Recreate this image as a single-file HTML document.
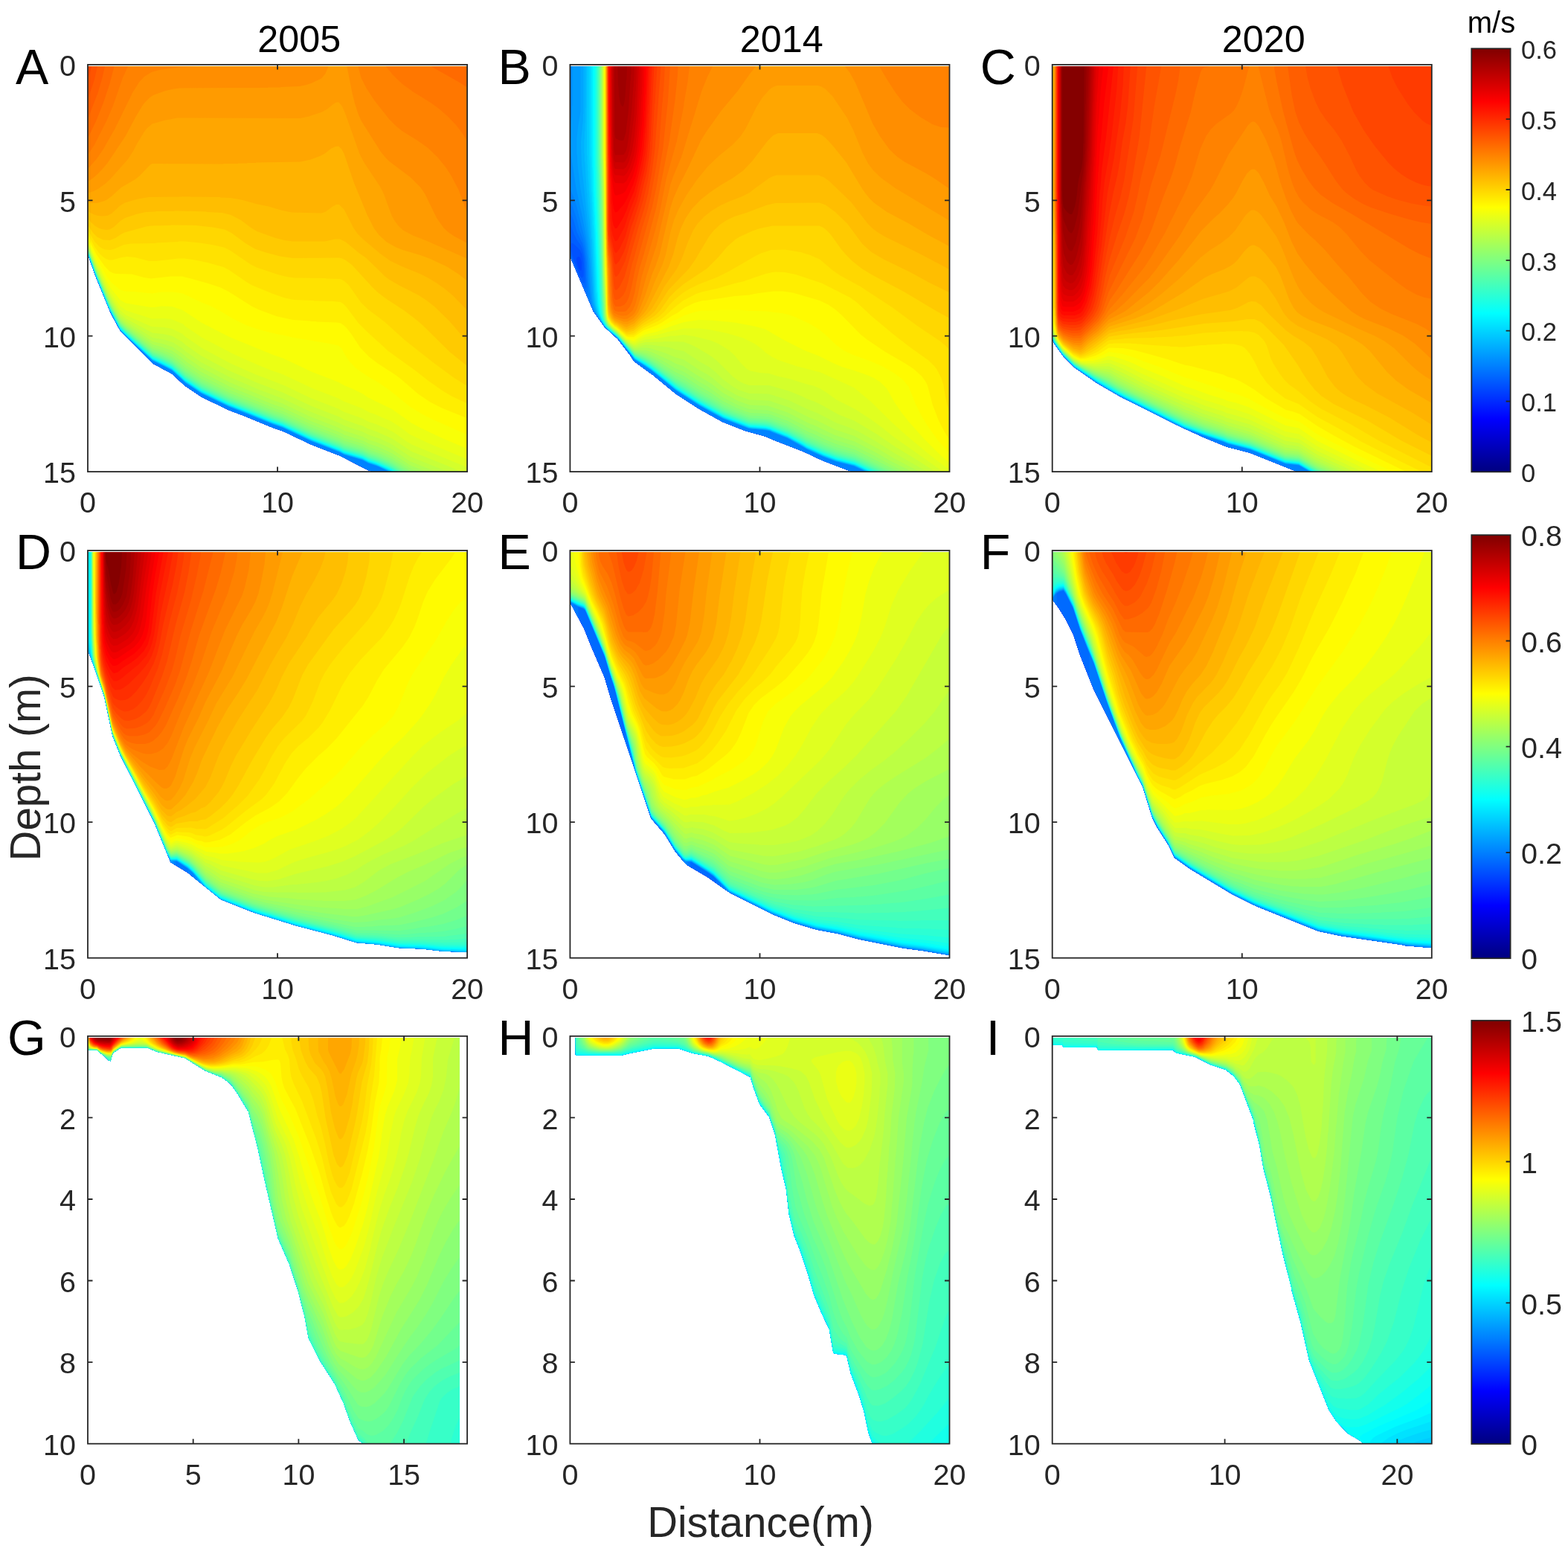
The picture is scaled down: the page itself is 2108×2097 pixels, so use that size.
<!DOCTYPE html><html><head><meta charset="utf-8"><title>Velocity sections</title>
<style>html,body{margin:0;padding:0;background:#fff}svg{display:block}text{font-family:"Liberation Sans",Arial,sans-serif}</style></head><body>
<svg xmlns="http://www.w3.org/2000/svg" width="2108" height="2097" viewBox="0 0 2108 2097">
<rect width="100%" height="100%" fill="#fff"/>
<defs><linearGradient id="jet" x1="0" y1="1" x2="0" y2="0"><stop offset="0.0000" stop-color="#000080"/><stop offset="0.0156" stop-color="#00008f"/><stop offset="0.0312" stop-color="#00009f"/><stop offset="0.0469" stop-color="#0000af"/><stop offset="0.0625" stop-color="#0000bf"/><stop offset="0.0781" stop-color="#0000cf"/><stop offset="0.0938" stop-color="#0000df"/><stop offset="0.1094" stop-color="#0000ef"/><stop offset="0.1250" stop-color="#0000ff"/><stop offset="0.1406" stop-color="#0010ff"/><stop offset="0.1562" stop-color="#0020ff"/><stop offset="0.1719" stop-color="#0030ff"/><stop offset="0.1875" stop-color="#0040ff"/><stop offset="0.2031" stop-color="#0050ff"/><stop offset="0.2188" stop-color="#0060ff"/><stop offset="0.2344" stop-color="#0070ff"/><stop offset="0.2500" stop-color="#0080ff"/><stop offset="0.2656" stop-color="#008fff"/><stop offset="0.2812" stop-color="#009fff"/><stop offset="0.2969" stop-color="#00afff"/><stop offset="0.3125" stop-color="#00bfff"/><stop offset="0.3281" stop-color="#00cfff"/><stop offset="0.3438" stop-color="#00dfff"/><stop offset="0.3594" stop-color="#00efff"/><stop offset="0.3750" stop-color="#00ffff"/><stop offset="0.3906" stop-color="#10ffef"/><stop offset="0.4062" stop-color="#20ffdf"/><stop offset="0.4219" stop-color="#30ffcf"/><stop offset="0.4375" stop-color="#40ffbf"/><stop offset="0.4531" stop-color="#50ffaf"/><stop offset="0.4688" stop-color="#60ff9f"/><stop offset="0.4844" stop-color="#70ff8f"/><stop offset="0.5000" stop-color="#80ff80"/><stop offset="0.5156" stop-color="#8fff70"/><stop offset="0.5312" stop-color="#9fff60"/><stop offset="0.5469" stop-color="#afff50"/><stop offset="0.5625" stop-color="#bfff40"/><stop offset="0.5781" stop-color="#cfff30"/><stop offset="0.5938" stop-color="#dfff20"/><stop offset="0.6094" stop-color="#efff10"/><stop offset="0.6250" stop-color="#ffff00"/><stop offset="0.6406" stop-color="#ffef00"/><stop offset="0.6562" stop-color="#ffdf00"/><stop offset="0.6719" stop-color="#ffcf00"/><stop offset="0.6875" stop-color="#ffbf00"/><stop offset="0.7031" stop-color="#ffaf00"/><stop offset="0.7188" stop-color="#ff9f00"/><stop offset="0.7344" stop-color="#ff8f00"/><stop offset="0.7500" stop-color="#ff8000"/><stop offset="0.7656" stop-color="#ff7000"/><stop offset="0.7812" stop-color="#ff6000"/><stop offset="0.7969" stop-color="#ff5000"/><stop offset="0.8125" stop-color="#ff4000"/><stop offset="0.8281" stop-color="#ff3000"/><stop offset="0.8438" stop-color="#ff2000"/><stop offset="0.8594" stop-color="#ff1000"/><stop offset="0.8750" stop-color="#ff0000"/><stop offset="0.8906" stop-color="#ef0000"/><stop offset="0.9062" stop-color="#df0000"/><stop offset="0.9219" stop-color="#cf0000"/><stop offset="0.9375" stop-color="#bf0000"/><stop offset="0.9531" stop-color="#af0000"/><stop offset="0.9688" stop-color="#9f0000"/><stop offset="0.9844" stop-color="#8f0000"/><stop offset="1.0000" stop-color="#800000"/></linearGradient></defs>
<g transform="translate(118.00 86.90) scale(0.5)" fill-rule="evenodd"><path fill="#000086" d="M0 5l0 504 21 59 41 100 26 48 87 87 52 28 33 31 46 31 75 36 40 15 75 31 29 10 76 36 77 30 76 39 9 3 256 0 0-1088z"/><path fill="#000092" d="M0 5l0 504 21 59 41 100 26 48 87 87 52 28 33 31 46 31 75 36 40 15 75 31 29 10 76 36 77 30 76 39 9 3 256 0 0-1088z"/><path fill="#00009e" d="M0 5l0 504 21 59 41 100 26 48 87 87 52 28 33 31 46 31 75 36 40 15 75 31 29 10 76 36 77 30 76 39 9 3 256 0 0-1088z"/><path fill="#0000aa" d="M0 5l0 504 21 59 41 100 26 48 87 87 52 28 33 31 46 31 75 36 40 15 75 31 29 10 76 36 77 30 76 39 9 3 256 0 0-1088z"/><path fill="#0000b6" d="M0 5l0 504 21 59 41 100 26 48 87 87 52 28 33 31 46 31 75 36 40 15 75 31 29 10 76 36 77 30 76 39 9 3 256 0 0-1088z"/><path fill="#0000c2" d="M0 5l0 504 21 59 41 100 26 48 87 87 52 28 33 31 46 31 75 36 40 15 75 31 29 10 76 36 77 30 76 39 9 3 256 0 0-1088z"/><path fill="#0000ce" d="M0 5l0 504 21 59 41 100 26 48 87 87 52 28 33 31 46 31 75 36 40 15 75 31 29 10 76 36 77 30 76 39 9 3 256 0 0-1088z"/><path fill="#0000da" d="M0 5l0 504 21 59 41 100 26 48 87 87 52 28 33 31 46 31 75 36 40 15 75 31 29 10 76 36 77 30 76 39 9 3 256 0 0-1088z"/><path fill="#0000e6" d="M0 5l0 504 21 59 41 100 26 48 87 87 52 28 33 31 46 31 75 36 40 15 75 31 29 10 76 36 77 30 76 39 9 3 256 0 0-1088z"/><path fill="#0000f2" d="M0 5l0 504 21 59 41 100 26 48 87 87 52 28 33 31 46 31 75 36 40 15 75 31 29 10 76 36 77 30 76 39 9 3 256 0 0-1088z"/><path fill="#0000fe" d="M0 5l0 504 21 59 41 100 26 48 87 87 52 28 33 31 46 31 75 36 40 15 75 31 29 10 76 36 77 30 76 39 9 3 256 0 0-1088z"/><path fill="#000aff" d="M0 5l0 504 21 59 41 100 26 48 87 87 52 28 33 31 46 31 75 36 40 15 75 31 29 10 76 36 77 30 76 39 9 3 256 0 0-1088z"/><path fill="#0017ff" d="M0 5l0 504 21 59 41 100 26 48 87 87 52 28 33 31 46 31 75 36 40 15 75 31 29 10 76 36 77 30 76 39 9 3 256 0 0-1088z"/><path fill="#0022ff" d="M0 5l0 504 21 59 41 100 26 48 87 87 52 28 33 31 46 31 75 36 40 15 75 31 29 10 76 36 77 30 76 39 9 3 256 0 0-1088z"/><path fill="#002fff" d="M0 5l0 504 21 59 41 100 26 48 87 87 52 28 33 31 46 31 75 36 40 15 75 31 29 10 76 36 77 30 76 39 9 3 256 0 0-1088z"/><path fill="#003bff" d="M0 5l0 504 21 59 41 100 26 48 87 87 52 28 33 31 46 31 75 36 40 15 75 31 29 10 76 36 77 30 76 39 9 3 256 0 0-1088z"/><path fill="#0046ff" d="M0 5l0 504 21 59 41 100 26 48 87 87 52 28 33 31 46 31 75 36 40 15 75 31 29 10 76 36 77 30 76 39 9 3 256 0 0-1088z"/><path fill="#0052ff" d="M0 5l0 504 21 59 41 100 26 48 87 87 52 28 33 31 46 31 75 36 40 15 75 31 29 10 76 36 77 30 76 39 9 3 256 0 0-1088z"/><path fill="#005eff" d="M0 5l0 504 21 59 41 100 26 48 87 87 52 28 33 31 46 31 75 36 40 15 75 31 29 10 76 36 77 30 76 39 9 3 256 0 0-1088z"/><path fill="#006aff" d="M0 5l0 504 21 59 41 100 26 48 87 87 52 28 33 31 46 31 75 36 40 15 75 31 29 10 76 36 77 30 76 39 9 3 256 0 0-1088z"/><path fill="#0077ff" d="M0 5l0 504 21 59 41 100 26 48 87 87 52 28 33 31 46 31 75 36 40 15 75 31 29 10 76 36 77 30 76 39 9 3 256 0 0-1088z"/><path fill="#0082ff" d="M0 5l0 504 21 59 41 100 26 48 87 87 52 28 33 31 46 31 75 36 40 15 75 31 29 10 76 36 77 30 76 39 9 3 256 0 0-1088z"/><path fill="#008eff" d="M0 5l0 504 22 61 31 77 14 30 20 37 25 25 62 57 32 15 21 12 36 33 42 28 77 37 40 15 75 31 24 8 74 35 84 33 11 6 48 14 17 9 24 8 28 13 212 0 0-1088z"/><path fill="#009bff" d="M0 5l0 503 21 59 36 89 31 59 87 81 32 15 21 12 33 31 45 30 75 36 115 46 31 11 76 36 75 29 11 6 48 14 17 9 24 8 30 14 211 0 0-1088z"/><path fill="#00a6ff" d="M0 5l0 503 20 56 33 82 14 30 20 37 25 25 62 57 52 26 37 34 42 28 75 36 120 48 24 8 78 37 75 29 13 7 51 15 12 7 24 8 33 15 209 0 0-1088z"/><path fill="#00b2ff" d="M0 5l0 502 22 62 35 86 31 59 87 81 52 26 37 34 42 28 73 35 120 48 24 8 78 37 75 29 13 7 51 15 17 9 19 6 35 16 208 0 0-1088z"/><path fill="#00beff" d="M0 5l0 502 20 56 33 82 13 28 21 39 23 23 63 58 32 15 21 12 36 33 42 28 74 36 60 23 60 25 24 8 76 36 77 30 13 7 51 15 17 9 19 6 37 17 207 0 0-1088z"/><path fill="#00cbff" d="M0 5l0 501 21 59 39 96 25 47 9 11 80 74 52 26 37 34 42 28 77 37 10 3 100 41 34 12 76 36 75 29 13 7 48 14 17 9 24 8 35 16 205 0 0-1088z"/><path fill="#00d6ff" d="M0 5l0 501 20 56 39 96 28 53 20 20 68 62 52 26 37 34 41 27 74 36 55 21 60 25 29 10 78 37 75 29 13 7 51 15 17 9 19 6 40 18 203 0 0-1088z"/><path fill="#00e2ff" d="M0 5l0 500 21 59 34 84 32 62 24 24 61 56 55 28 33 31 46 31 75 36 115 46 31 11 76 36 75 29 11 6 48 14 17 9 19 6 44 20 202 0 0-1088z"/><path fill="#00eeff" d="M0 5l0 500 22 61 38 93 29 53 85 79 27 12 28 16 32 30 45 30 70 34 122 49 24 8 83 39 70 27 13 7 51 15 17 9 19 6 39 17 4 3 201 0 0-1088z"/><path fill="#00fbff" d="M0 5l0 499 21 59 35 86 31 60 18 18 69 63 52 26 36 33 42 28 74 36 120 48 26 9 76 36 75 29 13 7 51 15 17 9 19 6 41 18 4 3 199 0 0-1088z"/><path fill="#07fff8" d="M0 5l0 499 21 58 38 93 28 53 21 21 66 60 52 26 36 33 42 28 74 36 107 42 10 5 29 10 76 36 75 29 13 7 51 15 17 9 16 5 37 16 12 7 198 0 0-1088z"/><path fill="#13ffec" d="M0 5l0 498 22 61 39 95 26 48 22 22 65 59 49 24 6 4 32 30 45 30 72 35 120 48 24 8 78 37 75 29 13 7 51 15 17 9 19 6 41 18 7 5 196 0 0-1088z"/><path fill="#20ffe0" d="M0 5l0 497 20 56 42 102 25 46 23 23 64 58 27 12 24 13 39 35 42 28 75 36 120 48 21 7 81 38 70 27 15 8 51 15 15 8 16 5 44 19 11 7 194 0 0-1088z"/><path fill="#2cffd3" d="M0 5l0 496 21 59 30 74 12 27 24 44 23 23 63 57 54 27 36 33 42 28 74 36 120 48 24 8 78 37 75 29 13 7 51 15 17 9 19 6 32 14 19 11 192 0 0-1088z"/><path fill="#37ffc8" d="M0 5l0 496 21 58 30 74 12 27 24 44 22 22 66 59 23 10 28 15 34 31 46 31 72 35 117 47 29 10 78 37 75 29 11 6 51 15 17 9 16 5 39 17 18 11 190 0 0-1088z"/><path fill="#43ffbc" d="M0 5l0 495 21 58 30 74 12 27 24 44 20 20 67 60 23 10 30 16 35 32 45 30 75 36 112 45 29 10 76 36 77 30 13 7 51 15 17 9 19 6 32 14 15 8 8 6 188 0 0-1088z"/><path fill="#50ffb0" d="M0 5l0 494 21 58 41 99 25 46 18 18 70 62 28 12 24 13 35 32 45 30 72 35 120 48 26 9 76 36 75 29 13 7 48 14 17 9 24 8 40 18 16 11 185 0 0-1088z"/><path fill="#5cffa3" d="M0 5l0 493 21 58 40 97 27 49 13 13 74 65 28 12 24 13 37 33 42 28 76 37 112 45 29 10 76 36 77 30 13 7 51 15 17 9 19 6 34 15 28 17 181 0 0-1088z"/><path fill="#67ff98" d="M0 5l0 492 21 58 38 92 28 52 18 18 70 61 22 9 31 16 34 31 45 30 74 36 117 47 24 8 78 37 75 29 13 7 51 15 17 9 16 5 37 16 13 7 19 13 178 0 0-1088z"/><path fill="#73ff8c" d="M0 5l0 491 21 58 36 87 30 56 20 20 67 58 27 11 24 12 39 34 42 28 73 36 119 48 24 8 76 36 77 30 13 7 51 15 17 9 19 6 42 19 29 19 173 0 0-1088z"/><path fill="#80ff80" d="M0 5l0 490 22 60 37 89 29 53 19 18 67 57 30 12 22 11 37 32 43 29 75 37 119 48 24 8 78 37 75 29 13 7 48 14 17 9 19 6 44 20 34 22 167 0 0-1088z"/><path fill="#8bff74" d="M0 5l0 489 21 57 31 75 12 26 23 41 18 18 70 58 27 10 25 12 36 31 43 29 77 38 111 45 29 10 78 37 75 29 13 7 50 15 15 8 26 9 39 18 40 26 160 0 0-1088z"/><path fill="#98ff67" d="M0 5l0 487 22 60 30 72 11 24 24 43 14 14 73 59 28 10 26 12 36 30 41 28 78 39 116 47 26 9 76 36 75 29 13 7 52 16 15 8 28 10 33 15 51 33 151 0 0-1088z"/><path fill="#a3ff5c" d="M0 5l0 486 22 59 39 92 26 46 14 14 73 57 29 9 24 10 25 19 12 11 41 28 75 38 120 49 26 9 76 36 75 29 10 6 52 16 15 8 28 10 35 16 53 34 16 6 133 0 0-1088z"/><path fill="#b0ff4f" d="M0 5l0 484 22 59 39 91 26 46 16 15 71 52 22 6 31 11 25 18 15 13 38 26 76 39 114 47 29 10 76 36 77 30 13 7 51 16 15 8 26 9 35 16 50 33 41 16 111 0 0-1088z"/><path fill="#bcff43" d="M0 5l0 482 23 61 34 79 30 54 18 16 69 47 31 7 23 8 25 17 14 12 38 26 77 40 116 48 24 8 76 36 77 30 15 8 50 16 15 8 22 7 38 17 48 32 8 4 63 25 85 0 0-1088z"/><path fill="#c7ff38" d="M0 5l0 480 23 60 34 78 31 54 21 17 65 40 31 5 25 8 25 16 7 7 43 30 79 41 75 32 64 24 76 36 77 30 15 8 49 16 15 8 24 8 36 16 53 35 97 39 54 0 0-1088z"/><path fill="#d4ff2b" d="M0 5l0 477 21 55 35 79 31 53 16 14 71 38 29 3 23 5 28 16 10 9 40 28 75 40 76 33 69 26 78 37 75 29 12 7 42 15 6 1 17 9 19 6 45 20 53 35 93 37 34 15 21 1 0-1088z"/><path fill="#e0ff20" d="M0 5l0 475 24 60 34 74 28 45 16 14 69 31 34 2 22 4 28 14 7 7 45 31 77 41 68 30 78 30 69 33 75 29 14 8 51 18 14 8 21 7 31 13 19 10 35 25 14 8 134 55 12 6 0-1078z"/><path fill="#ebff14" d="M0 5l0 471 20 50 41 85 26 38 17 12 68 22 33-1 20 2 31 13 6 6 44 30 84 44 67 30 40 16 24 8 83 39 70 27 14 8 50 19 20 11 15 5 21 10 19 7 27 17 26 20 49 23 104 43 0-1055z"/><path fill="#f8ff07" d="M0 5l0 467 19 46 33 66 10 17 25 31 15 9 66 11 12 0 18-3 29 1 22 8 3 0 53 35 76 39 115 47 31 11 76 36 70 27 18 10 18 7 29 14 16 11 64 31 52 37 24 13 59 28 66 28 0-1027z"/><path fill="#fffb00" d="M0 5l0 462 24 54 28 49 12 16 23 19 13 4 25 1 48 5 25-4 33 0 24 4 51 24 23 9 27 14 33 20 32 16 15 6 28 9 48 12 14 2 24 6 90 15 34 7 9 8 7 14 14 21 17 18 35 24 20 11 33 22 57 46 34 21 26 13 93 41 0-989z"/><path fill="#ffee00" d="M0 5l0 456 10 23 14 27 21 30 13 14 9 5 8 2 43 1 33 9 19 3 53-6 31 0 73 20 30 10 20 10 65 41 19 9 46 17 45 10 46 3 1 1 15 0 1 1 54 2 11 2 10 7 7 7 13 17 22 34 24 25 25 19 45 29 16 12 46 40 31 21 33 17 67 27 0-945z"/><path fill="#ffe200" d="M0 5l0 449 19 37 11 15 9 9 10 7 9 3 8 0 25-7 15-2 21 2 38 10 18 0 60-7 16 0 29 4 34 7 43 12 15 8 48 33 14 8 56 23 32 11 24 5 53 2 1 1 52 1 19 2 8 5 8 8 33 44 20 20 60 55 71 51 37 29 40 28 24 14 39 18 0-905z"/><path fill="#ffd700" d="M0 5l0 439 18 31 12 13 9 6 8 3 14 1 13-4 23-10 19-3 66-1 1-1 60-3 1-1 17 0 40 4 33 5 32 7 18 9 54 37 16 8 60 20 26 6 17 2 83 1 1 1 38 1 10 5 13 12 33 47 20 19 44 33 53 48 76 60 57 42 34 21 0-858z"/><path fill="#ffca00" d="M0 5l0 425 14 22 11 11 17 8 18 1 16-7 13-9 10-5 58-16 14-2 51-1 1-1 66 1 47 5 32 6 18 9 38 28 25 15 30 10 38 10 34 5 125-1 8 2 10 5 16 12 56 61 15 14 21 16 49 32 34 26 15 13 73 72 46 37 0-804z"/><path fill="#ffbe00" d="M0 5l0 408 8 10 11 10 10 6 9 3 12 2 8-1 11-6 20-18 11-7 30-10 26-6 26-1 1-1 49 0 1-1 86 2 1 1 41 2 24 6 27 14 25 19 18 11 47 17 27 7 22 3 86 0 27-6 14 0 16 8 35 29 20 14 50 49 12 9 28 16 51 26 20 13 22 17 39 38 48 55 0-738z"/><path fill="#ffb300" d="M0 5l0 388 7 5 10 5 11 3 10 1 14-1 12-6 23-21 13-8 34-10 30-5 89-1 2-1 1 1 99 1 1 1 27 1 30 5 43 12 30 6 37 11 25 5 81 2 11-4 17-13 11-6 8 0 13 13 25 49 11 16 14 14 46 39 28 20 31 15 49 20 22 11 23 14 20 14 23 19 38 39 0-654z"/><path fill="#ffa600" d="M0 5l0 365 7 2 17 0 21-6 8-4 13-10 24-22 38-22 11-9 29-30 5-3 191 1 1-1 39 0 1-1 23 0 1-1 23 0 1-1 119-2 27-6 27-10 11-6 18-14 11-5 8-1 8 7 7 13 27 79 35 85 18 36 15 20 20 18 25 14 18 7 47 14 25 9 47 22 31 20 22 17 0-575z"/><path fill="#ff9b00" d="M0 5l0 340 16-5 13-7 18-13 14-13 47-53 16-25 8-16 20-33 7-9 14-12 36-10 32-6 330 1 23-5 36-12 14-8 19-15 6-3 6 0 9 11 8 18 39 110 12 23 43 65 10 20 21 57 7 13 11 15 13 12 26 14 36 14 109 48 0-516z"/><path fill="#ff8e00" d="M697 5l14 71 7 28 9 28 9 20 51 81 12 15 12 12 57 43 26 26 13 19 31 64 19 27 12 11 16 11 34 18 0-474zM0 314l11-7 12-10 15-15 16-19 48-72 28-53 17-28 6-8 15-15 10-6 31-11 22-5 17-2 236-1 1-1 33 0 1-1 50-2 19-4 15-5 25-12 11-13 8-19-647 0z"/><path fill="#ff8200" d="M727 5l8 30 14 28 23 35 39 49 18 18 16 13 42 26 28 20 26 25 21 26 15 23 20 38 22 59 0-390zM0 280l24-27 19-28 30-53 48-98 17-27 14-15 19-12 26-7 48-6 52-2-297 0z"/><path fill="#ff7700" d="M802 5l19 23 25 24 29 21 47 29 23 17 22 19 23 24 17 22 12 19 0-198zM108 5l-108 0 0 237 18-27 32-63 18-42 26-75z"/><path fill="#ff6a00" d="M924 5l71 40 24 15 0-55zM71 5l-71 0 0 193 22-46 19-47 18-54z"/><path fill="#ff5e00" d="M46 5l-46 0 0 141 27-70 12-41z"/><path fill="#ff5300" d="M26 5l-26 0 0 88 17-50z"/><path fill="#ff4600" d="M10 5l-10 0 0 36z"/></g>
<rect x="118.0" y="86.9" width="510.1" height="547.2" fill="none" stroke="#262626" stroke-width="1.8"/>
<path d="M373.1 634.1v-6.5M373.1 86.9v6.5M118.0 269.3h6.5M628.1 269.3h-6.5M118.0 451.7h6.5M628.1 451.7h-6.5" stroke="#262626" stroke-width="1.8" fill="none"/>
<text x="118.0" y="689.2" font-size="39.5" fill="#262626" text-anchor="middle">0</text>
<text x="373.1" y="689.2" font-size="39.5" fill="#262626" text-anchor="middle">10</text>
<text x="628.1" y="689.2" font-size="39.5" fill="#262626" text-anchor="middle">20</text>
<text x="102.0" y="102.2" font-size="39.5" fill="#262626" text-anchor="end">0</text>
<text x="102.0" y="284.6" font-size="39.5" fill="#262626" text-anchor="end">5</text>
<text x="102.0" y="467.0" font-size="39.5" fill="#262626" text-anchor="end">10</text>
<text x="102.0" y="649.4" font-size="39.5" fill="#262626" text-anchor="end">15</text>
<text x="21.0" y="112.7" font-size="66.4" fill="#000">A</text>
<g transform="translate(766.40 86.90) scale(0.5)" fill-rule="evenodd"><path fill="#000086" d="M0 5l0 510 63 148 30 42 35 32 33 43 11 17 52 38 61 50 62 40 63 35 61 24 57 16 15 7 85 33 51 24 76 29 264 0 0-1088z"/><path fill="#000092" d="M0 5l0 510 63 148 30 42 35 32 33 43 11 17 52 38 61 50 62 40 63 35 61 24 57 16 15 7 85 33 51 24 76 29 264 0 0-1088z"/><path fill="#00009e" d="M0 5l0 510 63 148 30 42 35 32 33 43 11 17 52 38 61 50 62 40 63 35 61 24 57 16 15 7 85 33 51 24 76 29 264 0 0-1088z"/><path fill="#0000aa" d="M0 5l0 510 63 148 30 42 35 32 33 43 11 17 52 38 61 50 62 40 63 35 61 24 57 16 15 7 85 33 51 24 76 29 264 0 0-1088z"/><path fill="#0000b6" d="M0 5l0 510 63 148 30 42 35 32 33 43 11 17 52 38 61 50 62 40 63 35 61 24 57 16 15 7 85 33 51 24 76 29 264 0 0-1088z"/><path fill="#0000c2" d="M0 5l0 510 63 148 30 42 35 32 33 43 11 17 52 38 61 50 62 40 63 35 61 24 57 16 15 7 85 33 51 24 76 29 264 0 0-1088z"/><path fill="#0000ce" d="M0 5l0 510 63 148 30 42 35 32 33 43 11 17 52 38 61 50 62 40 63 35 61 24 57 16 15 7 85 33 51 24 76 29 264 0 0-1088z"/><path fill="#0000da" d="M0 5l0 510 63 148 30 42 35 32 33 43 11 17 52 38 61 50 62 40 63 35 61 24 57 16 15 7 85 33 51 24 76 29 264 0 0-1088z"/><path fill="#0000e6" d="M0 5l0 510 63 148 30 42 35 32 33 43 11 17 52 38 61 50 62 40 63 35 61 24 57 16 15 7 85 33 51 24 76 29 264 0 0-1088z"/><path fill="#0000f2" d="M0 5l0 510 63 148 30 42 35 32 33 43 11 17 52 38 61 50 62 40 63 35 61 24 57 16 15 7 85 33 51 24 76 29 264 0 0-1088z"/><path fill="#0000fe" d="M0 5l0 510 63 148 30 42 35 32 33 43 11 17 52 38 61 50 62 40 63 35 61 24 57 16 15 7 85 33 51 24 76 29 264 0 0-1088z"/><path fill="#000aff" d="M0 5l0 510 63 148 30 42 35 32 33 43 11 17 52 38 61 50 62 40 63 35 61 24 57 16 15 7 85 33 51 24 76 29 264 0 0-1088z"/><path fill="#0017ff" d="M0 5l0 510 63 148 30 42 35 32 33 43 11 17 52 38 61 50 62 40 63 35 61 24 57 16 15 7 85 33 51 24 76 29 264 0 0-1088z"/><path fill="#0022ff" d="M0 5l0 510 63 148 30 42 35 32 33 43 11 17 52 38 61 50 62 40 63 35 61 24 57 16 15 7 85 33 51 24 76 29 264 0 0-1088z"/><path fill="#002fff" d="M0 5l0 510 63 148 30 42 35 32 33 43 11 17 52 38 61 50 62 40 63 35 61 24 57 16 15 7 85 33 51 24 76 29 264 0 0-1088z"/><path fill="#003bff" d="M0 5l0 510 63 148 30 42 35 32 33 43 11 17 52 38 61 50 62 40 63 35 61 24 57 16 15 7 85 33 51 24 76 29 264 0 0-1088z"/><path fill="#0046ff" d="M0 5l0 510 63 148 30 42 35 32 33 43 11 17 52 38 61 50 62 40 63 35 61 24 57 16 15 7 85 33 51 24 76 29 264 0 0-1088z"/><path fill="#0052ff" d="M0 5l0 510 63 148 30 42 35 32 33 43 11 17 52 38 61 50 62 40 63 35 61 24 57 16 15 7 85 33 51 24 76 29 264 0 0-1088zM22 516l5 2 4 12 0 21-2 3-5-5-6-18-1-9 1-3z"/><path fill="#005eff" d="M0 5l0 510 63 148 30 42 35 32 33 43 11 17 52 38 61 50 62 40 63 35 61 24 57 16 15 7 85 33 51 24 76 29 264 0 0-1088zM5 479l4 2 17 16 6 13 4 24 0 33-3 6-3-1-6-11-17-45-5-21 0-13z"/><path fill="#006aff" d="M0 5l0 421 11 31 10 18 7 9 5 12 5 25 1 25 1 1 0 35-1 4-3 2-5-6-23-54-8-24 0 11 63 148 30 42 35 32 33 43 11 17 52 38 61 50 62 40 63 35 61 24 57 16 15 7 85 33 51 24 76 29 264 0 0-1088z"/><path fill="#0077ff" d="M0 5l0 391 9 21 10 34 14 29 4 15 5 36 1 42 1 1 0 23-3 6-3-3-12-24-26-65 0 4 63 148 30 42 35 32 33 43 11 17 52 38 61 50 62 40 63 35 61 24 57 16 15 7 85 33 51 24 76 29 264 0 0-1088z"/><path fill="#0082ff" d="M0 5l0 365 6 10 10 28 9 36 10 26 5 21 5 42 1 37 2 20 0 30-2 1-3-4 20 46 27 38 12 13 26 23 33 43 11 17 52 38 61 50 62 40 63 35 61 24 57 16 15 7 85 33 51 24 76 29 264 0 0-1088z"/><path fill="#008eff" d="M0 5l0 330 9 19 8 24 24 97 6 47 3 62 5 51 4 15 6 14 26 38 8 9 30 25 28 34 15 21 50 34 61 50 63 41 63 35 73 28 46 4 11 3 5 3 42 16 52 30 42 19 34 13 48 12 30 14 227 0 0-1088z"/><path fill="#009bff" d="M6 5l0 105-1 1 0 20-3 31 0 37-1 1 1 39 14 92 19 87 11 64 4 40 5 85 4 34 4 15 6 12 24 36 38 34 28 34 14 20 43 28 69 56 62 40 63 35 74 28 41 3 10 2 50 20 61 34 33 15 34 13 48 12 33 15 225 0 0-1088z"/><path fill="#00a6ff" d="M28 5l0 121-7 44-3 29 0 43 1 1 1 24 8 67 10 59 10 74 4 40 0 12 1 1 6 102 3 23 3 11 8 17 21 32 34 29 47 59 17 10 29 20 68 55 59 38 66 36 65 25 10 2 32 2 16 3 5 3 42 16 51 29 48 22 32 12 48 12 32 15 224 0 0-1088z"/><path fill="#00b2ff" d="M36 5l0 127-1 1 0 16-6 59 2 60 22 210 10 159 7 27 8 16 15 23 12 12 25 21 29 35 14 20 46 30 65 53 67 43 62 34 68 26 46 4 9 2 47 19 39 21 14 9 46 21 32 12 51 13 31 15 223 0 0-1088z"/><path fill="#00beff" d="M42 5l0 111-1 1 0 38-1 1 0 22-1 1 0 21-1 1 0 37 1 1 0 21 1 1 5 84 1 1 1 23 6 60 2 41 1 1 8 153 3 24 6 20 7 14 14 22 8 8 25 20 48 60 22 13 23 16 65 53 62 40 63 35 70 27 55 6 52 21 45 25 5 4 42 19 37 14 48 12 34 16 221 0 0-1088z"/><path fill="#00cbff" d="M46 5l-1 238 1 1 0 23 1 1 0 17 1 1 0 16 2 18 0 17 1 1 7 129 1 1 7 152 3 27 5 20 8 17 11 18 12 12 24 20 47 58 22 13 23 16 61 50 68 44 64 35 65 25 21 3 21 1 16 3 47 19 37 20 14 9 46 21 34 13 51 13 33 16 220 0 0-1088z"/><path fill="#00d6ff" d="M51 5l0 250 1 1 3 94 1 1 0 20 1 1 4 97 1 1 6 147 3 30 4 18 10 23 10 16 36 32 43 54 41 26 68 55 65 42 63 35 67 26 9 2 41 3 11 3 5 3 42 16 47 27 47 22 38 14 47 12 36 17 218 0 0-1088z"/><path fill="#00e2ff" d="M55 5l0 241 1 1 2 95 1 1 0 24 1 1 0 21 1 1 0 20 1 1 0 20 1 1 7 182 1 1 2 33 5 23 6 14 10 17 12 12 22 18 47 58 27 16 17 12 65 53 62 40 67 37 68 26 46 4 9 2 47 19 39 21 14 9 44 20 34 13 51 13 38 18 216 0 0-1088z"/><path fill="#00eeff" d="M58 5l1 270 1 1 1 68 1 1 0 25 1 1 0 23 1 1 1 45 1 1 6 170 1 1 1 29 5 29 10 23 9 13 33 29 45 55 40 25 71 57 59 38 67 37 71 27 42 3 12 3 45 18 39 21 14 9 46 21 35 13 50 13 38 18 214 0 0-1088z"/><path fill="#00fbff" d="M61 5l1 278 1 1 1 71 1 1 0 24 1 1 0 23 1 1 0 23 1 1 6 181 1 1 1 31 4 27 6 17 9 16 11 11 22 18 46 57 29 17 17 12 67 54 59 38 67 37 71 27 42 3 12 3 40 17 5 1 46 25 7 5 46 21 35 13 50 13 40 19 212 0 0-1088z"/><path fill="#07fff8" d="M64 5l0 251 1 1 1 83 1 1 0 28 1 1 0 25 1 1 0 24 1 1 0 28 1 1 0 29 1 1 0 29 1 1 0 28 1 1 3 93 3 29 4 18 9 19 8 10 21 17 9 9 43 53 29 17 17 12 63 51 65 42 65 36 71 27 43 3 11 3 45 18 48 26 5 4 44 20 34 13 53 14 42 20 210 0 0-1088z"/><path fill="#13ffec" d="M67 5l0 280 1 1 0 41 1 1 0 32 1 1 0 27 1 1 0 27 1 1 0 30 1 1 5 168 1 1 1 32 3 22 5 16 10 17 30 26 47 57 28 16 17 12 66 53 59 38 66 37 70 27 46 4 9 2 50 20 47 27 45 21 40 15 47 12 46 22 208 0 0-1088z"/><path fill="#20ffe0" d="M69 5l0 268 1 1 1 82 1 1 8 267 1 1 1 29 3 21 5 15 7 12 34 31 44 53 25 14 19 13 66 53 64 41 25 13 32 19 13 6 63 24 38 3 17 3 47 19 39 21 14 9 44 20 38 14 44 11 51 24 205 0 0-1088z"/><path fill="#2cffd3" d="M71 5l0 266 1 1 1 85 1 1 0 33 1 1 0 32 1 1 0 33 1 1 0 29 1 1 0 27 1 1 3 118 1 1 1 25 4 22 7 15 6 8 28 24 46 55 27 15 16 11 74 58 58 37 63 35 67 26 45 4 13 3 45 18 48 26 5 4 44 20 37 14 47 12 53 25 202 0 0-1088z"/><path fill="#37ffc8" d="M73 5l0 274 1 1 1 84 1 1 0 36 1 1 1 67 1 1 1 58 1 1 2 96 1 1 1 33 3 21 3 9 9 15 32 29 43 51 19 10 26 17 70 55 58 37 64 36 70 27 39 3 16 3 45 18 45 24 7 5 43 20 39 15 50 13 55 26 198 0 0-1088z"/><path fill="#43ffbc" d="M74 5l1 288 1 1 2 122 1 1 0 36 1 1 0 29 1 1 0 29 1 1 3 128 4 38 4 12 6 10 31 28 45 53 23 12 23 15 69 54 19 11 39 26 60 34 73 29 47 4 11 3 45 18 50 28 50 23 32 12 49 13 59 28 195 0 0-1088z"/><path fill="#50ffb0" d="M76 5l0 261 1 1 2 129 1 1 0 40 1 1 0 33 1 1 1 61 1 1 2 104 1 1 0 17 3 25 3 9 9 15 26 22 47 55 26 13 21 14 67 52 16 9 42 28 70 39 61 24 9 2 34 2 16 3 43 18 5 1 37 20 14 9 44 20 33 13 53 14 63 30 190 0 0-1088z"/><path fill="#5cffa3" d="M77 5l0 226 1 1 0 57 1 1 2 131 1 1 0 38 1 1 1 63 1 1 2 112 1 1 0 18 1 1 1 20 4 14 7 12 31 28 42 49 25 12 16 10 69 53 24 14 31 21 69 40 20 9 55 21 44 3 9 2 48 19 43 23 7 5 43 20 42 16 46 12 69 33 185 0 0-1088z"/><path fill="#67ff98" d="M79 5l0 266 1 1 0 40 1 1 2 137 1 1 1 70 1 1 1 84 1 1 0 30 1 1 0 19 2 20 3 12 7 13 29 26 43 50 30 14 11 7 69 52 29 17 36 24 28 15 34 21 23 10 50 19 44 3 9 2 46 18 40 21 16 10 42 19 36 14 49 13 75 36 179 0 0-1088z"/><path fill="#73ff8c" d="M80 5l0 248 1 1 0 43 1 1 0 43 1 1 0 51 1 1 4 215 1 1 0 28 1 1 1 32 3 16 7 14 12 12 16 13 45 51 28 12 18 11 59 44 26 15 42 28 28 15 35 22 27 12 45 17 43 3 21 6 18 8 18 6 42 22 9 6 43 20 37 15 56 16 78 38 172 0 0-1088z"/><path fill="#80ff80" d="M81 5l0 223 1 1 0 56 1 1 0 40 1 1 4 253 1 1 0 31 1 1 0 27 1 1 1 31 2 12 7 16 14 14 12 9 22 26 26 27 20 7 14 7 22 14 54 39 26 14 36 24 39 22 24 16 38 17 36 13 51 4 34 14 13 4 48 25 7 5 22 9 22 11 35 14 48 13 92 45 163 0 0-1088z"/><path fill="#8bff74" d="M83 5l0 269 1 1 0 39 1 1 4 272 1 1 0 28 1 1 2 57 3 14 5 11 32 30 16 19 24 25 27 9 21 11 62 42 24 12 39 26 29 16 36 24 32 15 40 15 39 2 13 2 48 18 39 20 11 7 50 23 29 12 52 15 102 51 153 0 0-1088z"/><path fill="#98ff67" d="M84 5l0 259 1 1 1 99 1 1 2 194 1 1 0 34 1 1 0 25 1 1 2 54 3 14 5 10 30 28 18 21 22 22 31 9 22 11 57 36 24 11 36 24 35 20 33 23 36 18 25 10 14 4 49 3 52 19 54 29 18 7 31 15 24 10 53 16 115 58 138 0 0-1088z"/><path fill="#a3ff5c" d="M85 5l0 252 1 1 1 105 1 1 2 206 1 1 0 29 1 1 2 66 3 19 5 12 16 16 6 4 17 19 33 32 21 3 16 5 36 18 34 20 26 11 41 27 22 12 40 29 39 20 33 12 51 3 51 18 44 22 9 6 25 10 17 9 16 6 16 8 54 17 54 27 45 25 34 16 121 0 0-1088z"/><path fill="#b0ff4f" d="M86 5l0 247 1 1 0 47 1 1 3 278 1 1 3 90 2 14 5 13 16 16 6 4 32 34 16 14 8 2 24 1 16 5 51 23 14 8 19 6 35 23 40 24 32 25 41 22 31 11 49 2 53 18 57 29 16 6 52 25 55 18 58 30 38 22 56 28 102 0 0-1088z"/><path fill="#bcff43" d="M87 5l0 245 1 1 0 50 1 1 2 250 1 1 0 32 1 1 3 87 3 15 4 9 15 15 6 4 29 31 19 15 9 1 9-2 17 0 11 2 38 12 25 11 25 7 42 28 22 12 15 11 28 24 36 21 33 12 53 2 53 18 54 27 23 9 48 24 51 17 67 36 36 22 70 37 82 0 0-1088z"/><path fill="#c7ff38" d="M88 5l0 247 1 1 0 51 1 1 2 259 1 1 0 26 1 1 0 20 1 1 2 63 2 10 5 11 14 14 6 4 30 31 19 13 5 0 25-6 21 1 42 6 18 6 22 4 42 28 25 14 19 15 18 18 30 22 15 8 27 9 52 1 54 17 50 24 28 11 50 26 42 15 17 8 43 24 54 34 86 49 61 0 0-1088z"/><path fill="#d4ff2b" d="M89 5l0 251 1 1 0 53 1 1 2 260 1 1 0 23 1 1 0 22 1 1 1 50 3 18 3 7 14 15 6 4 25 26 7 6 17 10 8-1 8-4 14-4 48-1 1-1 54 1 19 7 18 9 38 23 15 12 43 43 15 11 14 7 15 5 53 0 53 15 37 15 11 6 20 7 17 8 50 28 41 16 59 35 48 33 64 39 45 29 39 0 0-1088z"/><path fill="#e0ff20" d="M90 5l0 257 1 1 0 57 1 1 1 219 1 1 0 35 1 1 1 51 1 1 0 31 3 24 4 10 11 12 11 8 25 26 13 8 8 3 3 0 15-8 16-5 25-2 41-7 13 0 19-3 29 4 44 11 20 8 31 19 14 13 18 22 14 14 10 6 25 5 26 2 25 8 29 6 51 16 14 3 19 8 19 12 23 17 50 25 46 30 30 22 27 22 132 93 19 1 0-1088z"/><path fill="#ebff14" d="M91 5l0 265 1 1 0 68 1 1 1 212 1 1 0 29 1 1 0 25 1 1 1 56 3 20 6 11 43 41 18 9 7 0 13-8 14-6 34-6 27-8 27-5 14-4 46 0 24 3 49 10 43 13 30 15 18 13 13 12 17 11 16 8 51 17 62 16 90 41 45 37 60 59 38 34 60 50 53 41 0-1084z"/><path fill="#f8ff07" d="M92 5l0 275 1 1 2 280 1 1 3 108 3 16 10 14 14 11 27 26 16 5 4 0 15-10 15-7 33-8 33-13 37-12 40-6 34 1 62 6 53 10 30 8 46 27 57 29 41 16 38 19 26 11 31 9 39 14 15 7 16 10 18 18 20 36 20 29 18 23 42 47 38 38 29 26 0-1065z"/><path fill="#fffb00" d="M93 5l0 287 1 1 0 132 1 1 1 143 1 1 1 70 1 1 1 32 3 13 7 10 41 37 12 4 9 0 27-17 40-13 37-19 12-4 19-10 27-9 19-4 46-1 1-1 55 0 31 3 43 1 41 5 14 3 21 7 42 20 23 14 19 16 26 25 22 16 21 10 50 18 30 13 32 18 25 19 15 18 19 47 15 30 16 27 30 42 29 33 0-1039z"/><path fill="#ffee00" d="M93 5l0 233 1 1 0 69 1 1 1 234 1 1 3 123 3 16 7 11 11 11 4 2 26 23 5 2 15 0 27-18 34-13 12-6 30-20 15-8 19-14 27-13 22-6 7 0 79-12 39-3 26-5 39-5 25 0 27 4 72 21 23 11 19 13 17 15 52 53 18 14 46 31 55 32 23 15 22 20 10 14 5 10 14 53 15 39 14 28 15 25 0-1002z"/><path fill="#ffe200" d="M94 5l0 253 1 1 2 297 1 1 1 79 1 1 1 33 2 10 8 13 10 10 4 2 28 23 17-1 6-3 9-8 12-8 42-20 15-11 25-23 25-20 35-18 15-5 44-10 48-14 19-4 61-21 18-4 9-1 24 1 30 6 69 23 77 39 18 13 42 39 59 49 44 34 48 34 15 15 7 9 12 23 6 19 6 36 9 36 0-928z"/><path fill="#ffd700" d="M95 5l1 463 1 1 0 59 1 1 2 118 1 1 0 15 3 16 8 13 9 9 3 1 16 14 12 8 8 0 12-3 24-19 25-13 17-11 16-15 12-16 16-16 22-18 18-11 25-12 49-19 32-16 69-40 16-8 28-9 37-1 42 7 26 8 25 11 34 29 20 14 55 30 87 57 65 48 61 41 14 11 9 9 3 5 0-762z"/><path fill="#ffca00" d="M96 5l1 495 1 1 3 153 3 21 7 13 9 10 6 3 17 14 9 5 18-4 29-23 30-19 13-13 25-36 18-18 20-17 63-42 30-30 24-28 22-20 11-7 35-16 21-7 34-7 125 0 11 5 10 8 10 11 28 39 13 15 17 17 25 20 28 17 87 46 87 52 33 18 0-676z"/><path fill="#ffbe00" d="M96 5l1 464 1 1 0 48 1 1 3 138 3 16 8 15 8 8 5 2 18 14 7 3 5 0 16-6 21-19 21-15 14-13 37-57 54-56 17-24 38-64 12-15 17-16 18-12 21-10 35-11 53-20 23-5 117-1 17 6 26 19 33 32 40 54 23 21 34 20 72 35 51 28 53 26 0-607z"/><path fill="#ffb300" d="M97 5l0 372 1 1 0 118 1 1 1 69 1 1 1 78 3 23 7 15 9 10 5 2 15 11 9 4 5 0 18-8 17-17 10-8 19-20 17-28 17-32 34-48 12-24 17-46 15-34 12-18 18-19 19-15 23-14 26-12 34-13 19-10 53-39 10-5 10-3 113 0 15 6 15 11 58 56 45 58 12 12 12 9 21 13 88 43 85 45 0-545z"/><path fill="#ffa600" d="M97 5l1 467 1 1 0 38 1 1 0 26 1 1 2 107 4 22 6 13 7 8 27 15 5 1 20-9 26-27 9-12 58-113 12-33 12-45 9-27 13-27 17-25 23-24 24-19 28-19 34-20 28-20 24-25 42-55 15-15 13-6 105 0 13 5 9 7 19 20 38 47 44 73 16 21 14 14 35 25 57 30 56 33 54 29 0-483z"/><path fill="#ff9b00" d="M98 5l0 416 1 1 0 71 1 1 0 26 1 1 0 24 1 1 2 96 4 22 8 17 5 5 22 11 11 1 16-8 12-12 9-12 12-22 10-22 15-39 21-47 8-25 13-61 9-31 12-29 21-38 30-44 29-35 27-26 38-31 22-23 14-21 29-58 17-27 19-21 7-5 9-4 5-1 108 0 10 3 10 6 20 20 39 58 17 34 25 61 14 27 14 19 21 20 40 29 143 86 0-414z"/><path fill="#ff8e00" d="M739 5l13 16 15 27 47 111 19 33 26 36 20 19 20 14 58 31 23 14 39 27 0-328zM499 5l-401 0 0 269 1 1 1 229 1 1 0 20 1 1 2 90 1 1 1 25 3 18 3 9 6 10 4 3 22 9 10 0 16-9 13-16 18-43 20-61 9-21 11-32 27-118 9-29 16-37 26-51 32-69 14-23 42-59 45-54 31-44z"/><path fill="#ff8200" d="M832 5l16 28 27 42 19 25 20 20 28 21 32 19 23 8 22 1 0-164zM383 5l-284 0 0 440 1 1 1 65 1 1 1 34 1 1 2 71 4 36 4 13 3 5 4 4 9 4 15 4 9-1 14-9 5-5 7-13 10-31 16-59 26-79 38-165 7-21 22-52 55-179 15-37z"/><path fill="#ff7700" d="M321 5l-222 0 0 279 1 1 1 212 1 1 0 15 1 1 0 13 3 28 2 62 3 28 2 10 5 12 12 6 10 2 13-1 15-13 7-15 7-26 10-48 36-123 14-58 17-86 28-100 19-95 0-6 10-57z"/><path fill="#ff6a00" d="M290 5l-190 0 0 444 1 1 0 33 1 1 1 29 4 29 2 54 1 1 2 37 6 24 4 4 8 2 15 0 6-2 10-12 6-13 7-25 4-26 9-40 11-35 33-124 36-183 15-107 7-68z"/><path fill="#ff5e00" d="M269 5l-169 0 1 463 1 1 1 32 6 41 5 84 3 15 5 9 13 0 11-5 6-7 6-13 6-22 13-63 45-163 10-48 18-106 13-126z"/><path fill="#ff5300" d="M255 5l-154 0 0 440 1 1 0 29 1 1 1 20 6 34 6 83 3 15 3 4 5 0 8-4 9-10 5-10 6-20 12-54 4-11 23-86 12-38 11-45 14-78 8-57 9-118 1-1 0-12 1-1 0-12 1-1z"/><path fill="#ff4600" d="M244 5l-143 0 1 454 1 1 1 24 4 16 4 27 6 67 2 9 2 3 4-1 6-6 14-28 37-132 17-54 10-40 10-56 8-61z"/><path fill="#ff3b00" d="M234 5l-132 0 1 456 1 10 8 36 7 56 3 7 5-2 5-7 16-33 18-65 31-100 11-48 8-48 5-45 5-100 1-1 0-15 1-1z"/><path fill="#ff2e00" d="M226 5l-124 0 2 449 10 45 5 32 3 6 3-1 7-8 12-23 5-13 16-58 7-18 16-51 18-77 6-39 3-29 0-13 1-1z"/><path fill="#ff2200" d="M220 5l-117 0 0 246 1 1 1 171 4 36 9 39 4 8 3-1 8-10 15-32 11-39 21-58 21-86 5-30 5-50z"/><path fill="#ff1700" d="M215 5l-112 0 1 238 1 1 0 65 1 1 1 77 1 1 0 23 3 31 4 18 6 14 3 0 4-3 18-34 12-38 18-45 19-77 7-40 4-40 3-66 1-1 0-21 1-1 3-101z"/><path fill="#ff0a00" d="M210 5l-106 0 0 122 1 1 0 86 1 1 1 89 1 1 2 68 1 1 2 39 3 17 5 10 3 0 3-2 16-27 8-18 8-23 13-29 11-40 10-45 5-31 3-41 1-1 0-13 1-1z"/><path fill="#fe0000" d="M205 5l-99 0 0 187 1 1 1 86 1 1 0 18 1 1 4 65 3 22 4 11 5-1 18-20 10-18 16-37 7-22 7-29 8-44 6-57 2-45 1-1 0-20 1-1 0-21 1-1z"/><path fill="#f20000" d="M200 5l-93 0 0 161 1 1 1 94 1 1 0 17 4 40 4 24 3 8 5 0 16-5 7-6 19-38 11-36 7-38 8-77 3-65 1-1 0-22 1-1z"/><path fill="#e50000" d="M195 5l-86 0-1 115 1 1 1 124 1 1 0 17 4 37 3 12 4 6 22 1 8-7 15-30 9-30 5-28 7-67 3-58 1-1 0-18 1-1 0-19 1-1z"/><path fill="#da0000" d="M190 5l-80 0 1 221 1 1 0 22 1 1 1 21 4 21 3 5 10 0 12 2 3-1 6-6 9-17 10-30 5-27 7-67 3-60 1-1 0-18 1-1z"/><path fill="#cd0000" d="M185 5l-73 0 1 226 1 1 0 15 4 27 3 6 23 1 7-6 7-14 9-31 6-37 6-62z"/><path fill="#c20000" d="M179 5l-65 0 0 33-1 1 1 155 1 1 1 46 2 14 3 8 5-1 17 1 4-2 7-12 6-21 12-88 3-52 1-1 0-16 1-1 0-18 1-1z"/><path fill="#b60000" d="M173 5l-57 0 0 174 1 1 1 49 3 14 23-1 6-9 3-10 5-31 8-73 4-59 1-1 0-15 1-1z"/><path fill="#a90000" d="M165 5l-46 0 1 179 2 14 10 5 7 1 5-1 6-21 7-59 5-80 1-1 0-15 1-1 0-20z"/><path fill="#9e0000" d="M128 5l1 50 1 1 1 25 3 18 3 9 5 5 3-7 3-19 3-45 1-1 1-36z"/></g>
<rect x="766.4" y="86.9" width="510.1" height="547.2" fill="none" stroke="#262626" stroke-width="1.8"/>
<path d="M1021.5 634.1v-6.5M1021.5 86.9v6.5M766.4 269.3h6.5M1276.5 269.3h-6.5M766.4 451.7h6.5M1276.5 451.7h-6.5" stroke="#262626" stroke-width="1.8" fill="none"/>
<text x="766.4" y="689.2" font-size="39.5" fill="#262626" text-anchor="middle">0</text>
<text x="1021.5" y="689.2" font-size="39.5" fill="#262626" text-anchor="middle">10</text>
<text x="1276.5" y="689.2" font-size="39.5" fill="#262626" text-anchor="middle">20</text>
<text x="750.4" y="102.2" font-size="39.5" fill="#262626" text-anchor="end">0</text>
<text x="750.4" y="284.6" font-size="39.5" fill="#262626" text-anchor="end">5</text>
<text x="750.4" y="467.0" font-size="39.5" fill="#262626" text-anchor="end">10</text>
<text x="750.4" y="649.4" font-size="39.5" fill="#262626" text-anchor="end">15</text>
<text x="669.4" y="112.7" font-size="66.4" fill="#000">B</text>
<g transform="translate(1414.70 86.90) scale(0.5)" fill-rule="evenodd"><path fill="#000086" d="M0 5l0 733 5 11 25 35 30 30 59 41 69 40 152 76 68 31 61 25 62 16 125 50 363 0 0-1088z"/><path fill="#000092" d="M0 5l0 733 5 11 25 35 30 30 59 41 69 40 152 76 68 31 61 25 62 16 125 50 363 0 0-1088z"/><path fill="#00009e" d="M0 5l0 733 5 11 25 35 30 30 59 41 69 40 152 76 68 31 61 25 62 16 125 50 363 0 0-1088z"/><path fill="#0000aa" d="M0 5l0 733 5 11 25 35 30 30 59 41 69 40 152 76 68 31 61 25 62 16 125 50 363 0 0-1088z"/><path fill="#0000b6" d="M0 5l0 733 5 11 25 35 30 30 59 41 69 40 152 76 68 31 61 25 62 16 125 50 363 0 0-1088z"/><path fill="#0000c2" d="M0 5l0 733 5 11 25 35 30 30 59 41 69 40 152 76 68 31 61 25 62 16 125 50 363 0 0-1088z"/><path fill="#0000ce" d="M0 5l0 733 5 11 25 35 30 30 59 41 69 40 152 76 68 31 61 25 62 16 125 50 363 0 0-1088z"/><path fill="#0000da" d="M0 5l0 733 5 11 25 35 30 30 59 41 69 40 152 76 68 31 61 25 62 16 125 50 363 0 0-1088z"/><path fill="#0000e6" d="M0 5l0 733 5 11 25 35 30 30 59 41 69 40 152 76 68 31 61 25 62 16 125 50 363 0 0-1088z"/><path fill="#0000f2" d="M0 5l0 733 5 11 25 35 30 30 59 41 69 40 152 76 68 31 61 25 62 16 125 50 363 0 0-1088z"/><path fill="#0000fe" d="M0 5l0 733 5 11 25 35 30 30 59 41 69 40 152 76 68 31 61 25 62 16 125 50 363 0 0-1088z"/><path fill="#000aff" d="M0 5l0 733 5 11 25 35 30 30 59 41 69 40 152 76 68 31 61 25 62 16 125 50 363 0 0-1088z"/><path fill="#0017ff" d="M0 5l0 733 5 11 25 35 30 30 59 41 69 40 152 76 68 31 61 25 62 16 125 50 363 0 0-1088z"/><path fill="#0022ff" d="M0 5l0 733 5 11 25 35 30 30 59 41 69 40 152 76 68 31 61 25 62 16 125 50 363 0 0-1088z"/><path fill="#002fff" d="M0 5l0 733 5 11 25 35 30 30 59 41 69 40 152 76 68 31 61 25 62 16 125 50 363 0 0-1088z"/><path fill="#003bff" d="M0 5l0 733 5 11 25 35 30 30 59 41 69 40 152 76 68 31 61 25 62 16 125 50 363 0 0-1088z"/><path fill="#0046ff" d="M0 5l0 733 5 11 25 35 30 30 59 41 69 40 152 76 68 31 61 25 62 16 125 50 363 0 0-1088z"/><path fill="#0052ff" d="M0 5l0 733 5 11 25 35 30 30 59 41 69 40 152 76 68 31 61 25 62 16 125 50 363 0 0-1088z"/><path fill="#005eff" d="M0 5l0 733 5 11 25 35 30 30 59 41 69 40 152 76 68 31 61 25 62 16 125 50 363 0 0-1088z"/><path fill="#006aff" d="M0 5l0 733 5 11 25 35 30 30 59 41 69 40 152 76 68 31 61 25 62 16 125 50 363 0 0-1088z"/><path fill="#0077ff" d="M0 5l0 733 5 11 25 35 30 30 59 41 69 40 152 76 68 31 61 25 62 16 125 50 363 0 0-1088z"/><path fill="#0082ff" d="M0 5l0 733 5 11 25 35 30 30 59 41 69 40 152 76 68 31 61 25 62 16 125 50 363 0 0-1088z"/><path fill="#008eff" d="M0 5l0 733 5 11 23 32 11 12 24 23 55 38 47 28 61 32 127 63 59 22 50 16 8 4 62 16 94 38 37 4 27 16 329 0 0-1088z"/><path fill="#009bff" d="M0 5l0 733 4 9 25 35 29 30 59 41 61 36 174 87 56 21 50 16 17 7 58 15 95 38 36 4 27 16 328 0 0-1088z"/><path fill="#00a6ff" d="M0 5l0 732 5 11 25 35 30 30 49 34 72 43 166 83 65 25 45 14 13 6 62 16 94 38 37 4 29 17 327 0 0-1088z"/><path fill="#00b2ff" d="M0 5l0 732 4 9 24 34 31 32 58 40 73 42 167 83 54 20 50 16 11 5 59 15 97 39 34 3 31 18 326 0 0-1088z"/><path fill="#00beff" d="M0 5l0 731 5 11 24 34 32 32 57 39 56 33 182 91 51 19 53 17 14 6 58 15 95 38 36 4 31 18 325 0 0-1088z"/><path fill="#00cbff" d="M0 5l0 731 8 15 19 27 32 33 60 41 56 33 178 89 53 20 53 17 14 6 61 16 92 37 36 4 33 19 324 0 0-1088z"/><path fill="#00d6ff" d="M0 5l0 730 5 11 24 34 32 32 66 44 53 31 177 88 118 42 58 15 94 38 36 4 33 19 323 0 0-1088z"/><path fill="#00e2ff" d="M0 5l0 730 4 9 27 38 28 28 64 43 51 30 182 91 51 19 53 17 14 6 58 15 94 38 37 4 34 20 322 0 0-1088z"/><path fill="#00eeff" d="M0 5l0 729 5 11 23 33 33 33 65 43 53 31 179 89 54 20 50 16 11 5 61 16 92 37 36 4 36 21 321 0 0-1088z"/><path fill="#00fbff" d="M0 5l0 728 5 11 24 35 30 30 58 39 24 13 34 21 178 89 53 20 53 17 10 5 62 16 94 38 37 4 38 22 319 0 0-1088z"/><path fill="#07fff8" d="M0 5l0 728 4 9 24 35 32 32 62 41 76 43 157 78 56 21 50 16 11 5 61 16 94 38 36 4 38 22 318 0 0-1088z"/><path fill="#13ffec" d="M0 5l0 727 5 11 24 35 30 30 61 40 74 42 161 80 56 21 50 16 11 5 61 16 94 38 36 4 40 23 316 0 0-1088z"/><path fill="#20ffe0" d="M0 5l0 726 6 13 22 32 32 32 58 38 78 44 159 79 56 21 50 16 11 5 61 16 94 38 36 4 41 24 315 0 0-1088z"/><path fill="#2cffd3" d="M0 5l0 725 4 10 26 38 28 28 60 39 16 8 41 25 183 91 48 18 53 17 13 6 59 15 96 39 36 4 43 25 313 0 0-1088z"/><path fill="#37ffc8" d="M0 5l0 724 5 12 23 34 31 31 61 39 9 4 58 34 167 83 58 22 50 16 11 5 61 16 94 38 17 1 18 3 45 26 311 0 0-1088z"/><path fill="#43ffbc" d="M0 5l0 724 5 11 22 33 33 33 57 36 32 17 29 18 177 88 67 25 36 11 13 6 61 16 94 38 36 4 48 28 309 0 0-1088z"/><path fill="#50ffb0" d="M0 5l0 723 11 21 18 26 29 29 56 35 27 14 42 25 171 85 55 21 50 16 14 6 58 15 96 39 36 4 49 29 307 0 0-1088z"/><path fill="#5cffa3" d="M0 5l0 721 6 14 22 33 31 31 54 33 22 11 40 24 181 90 55 21 50 16 11 5 58 15 96 39 36 4 53 31 304 0 0-1088z"/><path fill="#67ff98" d="M0 5l0 720 6 14 21 32 32 32 48 29 37 19 31 19 179 89 52 20 55 18 11 5 58 15 95 39 38 5 46 27 11 5 299 0 0-1088z"/><path fill="#73ff8c" d="M0 5l0 719 13 26 16 23 31 30 21 13 18 9 16 10 37 18 22 14 179 89 54 21 55 18 5 3 66 18 92 38 39 5 45 27 15 7 295 0 0-1088z"/><path fill="#80ff80" d="M0 5l0 718 14 28 14 20 32 31 14 9 39 21 42 20 24 15 176 87 54 21 50 16 13 6 58 15 97 40 35 4 51 30 17 7 289 0 0-1088z"/><path fill="#8bff74" d="M0 5l0 716 10 22 18 27 26 26 22 15 41 21 29 12 30 18 50 26 126 61 58 23 47 15 13 6 63 17 93 39 36 4 47 28 27 12 283 0 0-1088z"/><path fill="#98ff67" d="M0 5l0 714 4 11 10 19 13 19 27 27 22 15 40 19 36 14 24 15 46 24 133 64 50 20 55 18 10 5 60 16 95 40 38 5 50 30 30 13 276 0 0-1088z"/><path fill="#a3ff5c" d="M0 5l0 712 4 11 11 22 12 17 33 32 13 8 40 18 38 13 25 15 38 20 144 69 50 20 52 17 8 4 62 17 96 41 37 5 50 30 39 17 267 0 0-1088z"/><path fill="#b0ff4f" d="M0 5l0 710 6 16 9 18 15 21 29 27 13 8 41 17 40 11 21 13 59 31 100 46 19 10 54 22 55 18 5 3 64 18 97 42 34 4 50 30 52 23 256 0 0-1088z"/><path fill="#bcff43" d="M0 5l0 707 6 17 9 19 15 21 28 26 18 11 35 12 43 9 22 13 84 43 98 45 10 3 32 14 60 20 14 6 57 16 95 42 36 5 49 30 65 29 243 0 0-1088z"/><path fill="#c7ff38" d="M0 5l0 703 4 14 8 19 15 23 30 29 21 12 36 10 39 4 89 47 98 44 13 7 55 22 53 17 5 3 63 18 97 44 36 5 48 30 81 37 228 0 0-1088z"/><path fill="#d4ff2b" d="M0 5l0 699 4 15 7 18 6 12 10 14 27 26 23 14 15 4 24 4 37 0 60 29 35 19 108 49 23 8 28 12 51 16 10 5 63 18 95 44 37 6 50 32 96 44 210 0 0-1088z"/><path fill="#e0ff20" d="M0 5l0 693 3 14 9 26 4 8 12 17 29 27 20 11 14 3 21 1 1 1 36-4 7 1 35 15 52 27 110 50 29 10 29 12 46 14 13 6 7 1 53 16 97 46 36 6 51 33 116 54 189 0 0-1088z"/><path fill="#ebff14" d="M0 5l0 684 3 18 8 27 5 11 13 18 29 26 19 10 16 2 19 0 14-2 23-6 6 0 41 15 44 22 118 53 14 4 33 13 52 16 17 7 18 4 37 12 97 47 37 7 50 33 141 67 165 0 0-1088z"/><path fill="#f8ff07" d="M0 5l0 669 3 27 8 31 6 13 10 14 27 25 21 12 4 1 30-1 21-5 20-8 15 2 21 6 27 10 29 14 63 26 53 24 23 7 43 16 37 11 11 5 22 5 35 12 98 49 36 7 51 35 107 53 61 28 137 0 0-1088z"/><path fill="#fffb00" d="M0 5l0 628 1 1 0 33 1 1 0 14 2 17 6 27 6 16 13 18 29 25 18 9 13 0 26-5 20-8 17-9 30 4 30 8 35 14 35 12 72 30 22 6 84 28 10 5 22 5 37 14 42 24 57 29 21 4 16 5 44 31 17 10 104 53 83 39 106 0 0-1088z"/><path fill="#ffee00" d="M0 5l0 539 1 1 1 117 1 1 0 17 2 18 6 29 6 15 11 15 30 26 18 8 13-1 27-8 16-8 20-13 37 1 24 4 44 11 53 15 45 15 17 3 87 23 12 6 19 5 21 10 33 20 31 23 53 31 20 5 17 6 50 34 42 24 54 29 138 67 70 0 0-1088z"/><path fill="#ffe200" d="M0 5l0 426 1 1 0 102 1 1 1 123 1 1 1 30 5 31 4 14 13 20 29 25 20 9 9-1 22-8 16-8 26-19 4-2 10 0 1-1 48 0 1 1 14 0 1 1 12 0 1 1 76 5 1 1 19 0 1 1 19 0 43-5 15 0 1-1 41-2 1-1 30 1 20 5 9 5 14 16 12 20 16 33 17 24 21 21 30 23 35 14 52 36 56 30 60 35 105 53 56 27 28 0 0-1088z"/><path fill="#ffd700" d="M0 5l0 374 1 1 0 56 1 1 2 219 1 1 1 31 5 33 3 11 4 8 9 12 27 23 22 10 11-3 17-8 17-10 27-21 6-3 38-3 1-1 81-2 1-1 50-2 1-1 31-2 49-7 40-2 1-1 19 0 1-1 45-1 1 1 15 0 15 3 11 6 13 13 5 7 5 10 10 32 7 15 17 27 12 16 14 14 25 18 30 26 32 22 79 41 77 45 139 70 0-1077z"/><path fill="#ffca00" d="M1 5l0 379 1 1 0 57 1 1 2 211 1 1 0 20 1 1 1 21 4 25 6 16 9 12 30 24 20 7 12-5 26-16 38-29 45-7 86-9 124-19 81-6 35-6 19 0 16 7 8 6 56 57 41 59 7 13 16 24 18 23 19 18 32 21 90 44 93 55 80 40 0-1046z"/><path fill="#ffbe00" d="M2 5l0 384 1 1 0 59 1 1 2 204 1 1 0 20 1 1 1 22 5 29 5 10 15 17 22 16 20 7 9-4 26-18 42-33 32-7 11-1 75-14 48-12 81-17 78-11 19-6 31-16 8-2 11 1 15 10 21 24 45 43 19 14 30 18 19 16 16 25 29 54 19 25 14 13 16 11 22 12 29 13 66 34 78 48 34 18 0-1010z"/><path fill="#ffb300" d="M3 5l0 389 1 1 0 62 1 1 2 197 1 1 2 45 3 19 5 13 12 15 24 17 12 5 11 2 10-6 6-6 27-19 33-28 110-28 70-25 71-30 72-21 19-10 33-27 7-3 10 0 14 7 16 16 26 37 20 37 10 13 10 10 20 14 79 36 25 17 13 16 37 60 8 10 18 18 33 24 93 51 52 32 0-962z"/><path fill="#ffa600" d="M4 5l0 395 1 1 3 259 1 1 1 33 4 27 3 8 13 16 28 18 17 4 5-2 17-15 32-24 24-22 70-22 44-18 83-50 59-41 20-10 33-13 17-9 10-7 9-9 18-23 13-13 8-4 6 0 14 7 15 15 30 38 12 24 23 62 12 23 10 12 14 10 17 9 60 23 31 14 27 14 26 16 20 18 46 56 24 23 33 24 62 36 0-904z"/><path fill="#ff9b00" d="M5 5l-1 336 1 1 0 64 1 1 3 260 1 1 1 29 4 24 4 8 10 12 26 16 21 4 4-2 16-15 30-23 26-26 58-23 24-13 30-20 31-24 49-42 55-55 23-18 31-20 22-17 17-18 28-41 12-11 4-2 8 0 9 5 10 10 39 55 14 28 33 84 12 25 16 23 20 21 18 14 13 8 91 44 48 21 26 14 26 19 46 46 16 14 17 13 21 13 0-843z"/><path fill="#ff8e00" d="M6 5l-1 348 1 1 0 59 1 1 3 261 1 1 1 25 3 17 4 8 11 12 25 14 17 3 6-1 17-16 28-22 29-31 38-19 11-7 58-47 28-27 53-60 62-80 32-32 15-13 22-23 16-20 7-11 18-35 11-18 10-10 4-2 6 0 4 2 9 10 12 22 17 37 18 29 19 40 22 56 15 30 20 28 36 43 37 37 52 48 17 11 19 10 62 24 41 20 32 22 44 41 0-786z"/><path fill="#ff8200" d="M7 5l-1 357 1 1 0 58 1 1 2 238 1 1 1 33 3 20 6 11 10 10 17 9 12 4 17 0 18-17 26-21 33-38 18-12 22-19 67-68 19-24 62-88 31-53 51-70 11-19 39-78 52-78 8-8 4-2 4 0 4 2 9 10 20 38 23 59 16 57 14 40 15 36 12 23 7 10 28 29 16 14 27 27 34 40 32 35 34 42 23 23 27 18 29 14 68 27 23 12 16 11 0-715z"/><path fill="#ff7700" d="M554 5l29 116 8 22 14 29 10 29 19 81 11 36 8 20 10 18 11 14 23 21 22 14 35 18 18 13 20 20 36 44 24 25 78 62 22 16 27 15 22 8 18 3 0-624zM529 5l-521 0-1 366 1 1 0 61 1 1 2 237 4 39 2 6 13 14 16 8 13 4 17 0 18-17 31-27 14-18 13-21 35-39 60-75 19-29 37-64 58-117 14-34 23-75 16-35 12-17 15-15 39-28 8-8 6-9 9-19 10-29z"/><path fill="#ff6a00" d="M597 5l0 6 6 33 17 79 30 110 8 23 13 26 17 28 16 22 18 18 30 21 56 32 151 91 29 15 31 12 0-516zM443 5l-434 0-1 376 1 1 0 72 1 1 1 197 1 1 0 25 3 27 2 7 12 13 13 6 13 4 21 0 28-25 21-21 15-23 14-32 20-29 62-98 21-41 10-23 30-84 21-53 11-33 17-62 26-83 14-62 13-47 5-9 5-3 15-2z"/><path fill="#ff5e00" d="M633 5l11 77 9 43 10 30 14 28 12 20 35 49 39 61 17 22 12 11 19 14 24 14 22 10 48 16 55 16 29 7 30 5 0-423zM344 5l-334 0-1 389 1 1 0 88 1 1 1 183 4 38 7 10 10 7 23 7 19-1 4-2 39-38 7-9 10-18 16-49 72-145 19-52 24-94 25-77 41-168 7-35z"/><path fill="#ff5300" d="M681 5l5 29 8 29 13 35 12 25 16 24 23 28 20 29 22 42 18 39 9 15 12 16 15 15 9 6 41 18 27 9 35 9 27 5 26 3 0-376zM293 5l-283 0 0 408 1 1 0 107 1 1 0 119 1 1 0 32 3 26 5 8 8 7 24 7 14 0 10-2 33-32 14-19 5-11 26-93 42-103 22-66 10-43 9-47 21-86 15-108z"/><path fill="#ff4600" d="M766 5l14 48 29 73 29 51 30 43 36 44 15 15 20 16 19 12 21 10 14 5 16 4 10 1 0-322zM253 5l-242 0-1 338 1 1 0 96 1 1 1 220 1 1 0 17 3 18 10 11 7 3 17 4 14 0 11-2 25-24 10-12 10-17 5-14 10-40 6-34 9-39 24-78 18-53 12-45 9-44 20-119z"/><path fill="#ff3b00" d="M904 5l10 29 13 26 29 46 18 23 21 21 11 8 13 5 0-158zM229 5l-217 0-1 366 1 1 2 297 3 22 7 9 7 4 21 4 10 0 16-4 21-22 11-15 7-16 6-20 7-32 6-40 16-84 17-70 14-49 10-45 25-166z"/><path fill="#ff2e00" d="M210 5l-198 0 0 389 1 1 1 252 1 1 0 24 2 13 12 12 18 3 16 0 12-3 5-3 7-7 17-23 5-11 6-19 11-54 26-174 11-57 12-52 7-41 6-47 9-50 6-48z"/><path fill="#ff2200" d="M192 5l-179 0 0 415 1 1 1 236 2 20 5 8 7 5 15 2 18 0 17-6 12-14 11-20 10-33 6-33 14-97 16-143 18-96 16-113 8-83z"/><path fill="#ff1700" d="M177 5l-163 0 0 450 1 1 1 201 2 13 4 7 6 5 29 2 9-2 12-5 5-5 10-17 13-38 5-26 14-106 7-71 3-50 6-56 11-63 7-51 14-127z"/><path fill="#ff0a00" d="M164 5l-149 0-1 338 1 1 1 269 1 1 0 32 2 14 5 10 8 4 28 0 15-6 7-7 11-24 11-40 7-49 10-94 7-117 1-1 4-56 12-89z"/><path fill="#fe0000" d="M151 5l-136 0 0 362 1 1 1 229 1 1 0 25 2 20 3 13 5 7 28 1 13-5 8-6 10-19 12-43 7-48 6-73 1-1 0-11 1-1 0-11 1-1 6-125 1-1 1-31 1-1 0-14 1-1 4-62 1-1 9-104z"/><path fill="#f20000" d="M137 5l-121 0 0 370 1 1 1 187 1 1 0 33 1 1 0 16 2 18 5 16 2 2 6 1 22 0 11-6 8-7 5-8 6-16 10-46 6-50 6-87 1-1 12-254 1-1 0-14 1-1 6-91z"/><path fill="#e50000" d="M125 5l-108 0 0 364 1 1 2 199 1 1 1 34 3 21 5 10 9 2 17 0 10-6 10-11 5-10 5-16 7-38 7-69 0-13 1-1 5-81 1-1 0-16 1-1 4-101 1-1 0-23 1-1 5-148 1-1 0-19 1-1z"/><path fill="#da0000" d="M118 5l-100 0 0 344 1 1 2 191 1 1 1 41 4 28 3 6 12 5 13 0 4-2 8-7 9-13 7-20 7-42 7-97 3-25 1-26 1-1 5-101 1-1z"/><path fill="#cd0000" d="M114 5l-94 0 0 404 1 1 2 132 1 1 2 38 3 13 7 8 10 4 7 0 6-3 7-8 6-10 8-21 6-35 3-43 1-1 5-84 3-26 2-41 1-1 3-65 1-1 5-167 1-1 0-30 1-1 0-30 1-1 0-30z"/><path fill="#c20000" d="M110 5l-89 0 0 391 1 1 0 42 1 1 2 95 1 1 1 22 3 14 8 11 11 5 7-2 5-5 8-14 9-26 6-40 8-122 1-1 0-14 1-1 1-26 1-1 3-53 1-1 1-31 1-1z"/><path fill="#b60000" d="M106 5l-84 0 0 380 1 1 3 120 4 37 9 17 8 6 6 0 3-2 8-13 7-20 6-23 4-27 4-59 1-1 7-118 4-40 1-31 1-1z"/><path fill="#a90000" d="M102 5l-79 0 0 369 1 1 2 77 1 1 1 34 3 21 8 21 9 9 4 0 4-3 6-12 4-12 10-43 4-30 8-123 1-1 3-52 1-1 1-35 1-1z"/><path fill="#9e0000" d="M98 5l-74 0 0 356 1 1 1 48 1 1 2 39 4 19 7 21 4 7 5 4 3 0 3-3 8-20 10-46 5-34 5-73 6-60 1-33 1-1 2-107 1-1 0-29 1-1z"/><path fill="#920000" d="M92 5l-67 0 0 335 1 1 0 33 1 1 0 16 3 25 11 27 3 5 6 5 3-1 6-12 9-37 16-124 2-38 1-1 0-27 1-1 1-106 1-1z"/><path fill="#850000" d="M86 5l-59 0 0 347 3 31 8 11 9 8 5 0 2-2 7-20 5-29 3-31 3-17 7-26 3-25 1-40 1-1z"/></g>
<rect x="1414.7" y="86.9" width="510.1" height="547.2" fill="none" stroke="#262626" stroke-width="1.8"/>
<path d="M1669.8 634.1v-6.5M1669.8 86.9v6.5M1414.7 269.3h6.5M1924.8 269.3h-6.5M1414.7 451.7h6.5M1924.8 451.7h-6.5" stroke="#262626" stroke-width="1.8" fill="none"/>
<text x="1414.7" y="689.2" font-size="39.5" fill="#262626" text-anchor="middle">0</text>
<text x="1669.8" y="689.2" font-size="39.5" fill="#262626" text-anchor="middle">10</text>
<text x="1924.8" y="689.2" font-size="39.5" fill="#262626" text-anchor="middle">20</text>
<text x="1398.7" y="102.2" font-size="39.5" fill="#262626" text-anchor="end">0</text>
<text x="1398.7" y="284.6" font-size="39.5" fill="#262626" text-anchor="end">5</text>
<text x="1398.7" y="467.0" font-size="39.5" fill="#262626" text-anchor="end">10</text>
<text x="1398.7" y="649.4" font-size="39.5" fill="#262626" text-anchor="end">15</text>
<text x="1317.7" y="112.7" font-size="66.4" fill="#000">C</text>
<g transform="translate(118.00 740.00) scale(0.5)" fill-rule="evenodd"><path fill="#000086" d="M0 5l0 262 19 51 26 77 22 104 21 52 91 180 44 107 46 28 89 72 88 35 113 35 99 26 64 20 58 5 55 9 66 3 51 6 67 3 0-1075z"/><path fill="#000092" d="M0 5l0 262 19 51 26 77 22 104 21 52 91 180 44 107 46 28 89 72 88 35 113 35 99 26 64 20 58 5 55 9 66 3 51 6 67 3 0-1075z"/><path fill="#00009e" d="M0 5l0 262 19 51 26 77 22 104 21 52 91 180 44 107 46 28 89 72 88 35 113 35 99 26 64 20 58 5 55 9 66 3 51 6 67 3 0-1075z"/><path fill="#0000aa" d="M0 5l0 262 19 51 26 77 22 104 21 52 91 180 44 107 46 28 89 72 88 35 113 35 99 26 64 20 58 5 55 9 66 3 51 6 67 3 0-1075z"/><path fill="#0000b6" d="M0 5l0 262 19 51 26 77 22 104 21 52 91 180 44 107 46 28 89 72 88 35 113 35 99 26 64 20 58 5 55 9 66 3 51 6 67 3 0-1075z"/><path fill="#0000c2" d="M0 5l0 262 19 51 26 77 22 104 21 52 91 180 44 107 46 28 89 72 88 35 113 35 99 26 64 20 58 5 55 9 66 3 51 6 67 3 0-1075z"/><path fill="#0000ce" d="M0 5l0 262 19 51 26 77 22 104 21 52 91 180 44 107 46 28 89 72 88 35 113 35 99 26 64 20 58 5 55 9 66 3 51 6 67 3 0-1075z"/><path fill="#0000da" d="M0 5l0 262 19 51 26 77 22 104 21 52 91 180 44 107 46 28 89 72 88 35 113 35 99 26 64 20 58 5 55 9 66 3 51 6 67 3 0-1075z"/><path fill="#0000e6" d="M0 5l0 262 19 51 26 77 22 104 21 52 91 180 44 107 46 28 89 72 88 35 113 35 99 26 64 20 58 5 55 9 66 3 51 6 67 3 0-1075z"/><path fill="#0000f2" d="M0 5l0 262 19 51 26 77 22 104 21 52 91 180 44 107 46 28 89 72 88 35 113 35 99 26 64 20 58 5 55 9 66 3 51 6 67 3 0-1075z"/><path fill="#0000fe" d="M0 5l0 262 19 51 26 77 22 104 21 52 91 180 44 107 46 28 89 72 88 35 113 35 99 26 64 20 58 5 55 9 66 3 51 6 67 3 0-1075z"/><path fill="#000aff" d="M0 5l0 262 19 51 26 77 22 104 21 52 91 180 44 107 46 28 89 72 88 35 113 35 99 26 64 20 58 5 55 9 66 3 51 6 67 3 0-1075z"/><path fill="#0017ff" d="M0 5l0 262 19 51 26 77 22 104 21 52 91 180 44 107 46 28 89 72 88 35 113 35 99 26 64 20 58 5 55 9 66 3 51 6 67 3 0-1075z"/><path fill="#0022ff" d="M0 5l0 262 19 51 26 77 22 104 21 52 91 180 44 107 46 28 89 72 88 35 113 35 99 26 64 20 58 5 55 9 66 3 51 6 67 3 0-1075z"/><path fill="#002fff" d="M0 5l0 262 19 51 26 77 22 104 21 52 91 180 44 107 46 28 89 72 88 35 113 35 99 26 64 20 58 5 55 9 66 3 51 6 67 3 0-1075z"/><path fill="#003bff" d="M0 5l0 262 19 51 26 77 22 104 21 52 91 180 44 107 46 28 89 72 88 35 113 35 99 26 64 20 58 5 55 9 66 3 51 6 67 3 0-1075z"/><path fill="#0046ff" d="M0 5l0 262 19 51 26 77 22 104 21 52 91 180 44 107 46 28 89 72 88 35 113 35 99 26 64 20 58 5 55 9 66 3 51 6 67 3 0-1075z"/><path fill="#0052ff" d="M0 5l0 262 19 51 26 77 22 104 21 52 91 180 44 107 46 28 89 72 88 35 113 35 99 26 64 20 58 5 55 9 66 3 51 6 67 3 0-1075z"/><path fill="#005eff" d="M0 5l0 262 19 51 26 77 22 104 21 52 91 180 44 107 46 28 89 72 88 35 113 35 99 26 64 20 58 5 55 9 66 3 51 6 67 3 0-1075z"/><path fill="#006aff" d="M0 5l0 262 19 51 26 77 22 104 21 52 91 180 44 107 46 28 89 72 88 35 113 35 99 26 64 20 58 5 55 9 66 3 51 6 67 3 0-1075z"/><path fill="#0077ff" d="M0 5l0 262 19 51 26 77 22 104 21 52 91 180 44 107 46 28 89 72 88 35 113 35 99 26 64 20 58 5 55 9 66 3 51 6 67 3 0-1075z"/><path fill="#0082ff" d="M0 5l0 262 19 51 26 77 22 104 21 52 91 180 44 107 13 8 0-9 3-1 30 20 0 10 89 72 88 35 113 35 99 26 64 20 58 5 55 9 66 3 51 6 67 3 0-1075z"/><path fill="#008eff" d="M0 5l0 262 19 51 26 77 22 104 21 52 91 180 44 107 8 5 0-7 8-1 29 19 18 17 2 11 70 56 88 35 113 35 99 26 64 20 58 5 55 9 66 3 51 6 67 3 0-1075z"/><path fill="#009bff" d="M0 5l0 262 19 51 26 77 22 104 21 52 91 180 44 107 3 2 1-5 13 0 27 18 11 9 17 19 0 6 63 51 88 35 113 35 99 26 64 20 58 5 55 9 66 3 51 6 67 3 0-1075z"/><path fill="#00a6ff" d="M0 5l0 262 19 51 26 77 22 104 21 52 91 180 42 102 1-2 2 3 15 0 29 19 13 11 23 27 0 3 54 44 97 38 104 32 99 26 64 20 58 5 55 9 66 3 51 6 67 3 0-1075z"/><path fill="#00b2ff" d="M0 5l0 262 19 51 26 77 22 104 21 52 91 180 36 88 8 14 17 1 29 19 16 15 28 34 45 36 97 38 104 32 99 26 64 20 58 5 55 9 66 3 51 6 67 3 0-1075z"/><path fill="#00beff" d="M0 5l0 259 45 131 22 104 22 54 91 180 33 81 11 19 15 0 32 21 12 11 34 40 40 32 99 39 111 34 96 25 57 18 63 6 55 9 57 2 63 7 61 2 0-1074z"/><path fill="#00cbff" d="M0 5l0 252 2 4 2 11 6 21 35 102 23 106 19 47 94 187 31 76 11 21 16 0 28 18 15 13 36 42 40 32 97 38 111 34 96 25 62 19 58 5 55 9 55 2 64 7 63 2 0-1073z"/><path fill="#00d6ff" d="M0 5l0 242 3 9 0 5 7 30 36 107 21 100 21 52 92 182 34 83 10 17 16 0 28 18 19 18 33 38 38 30 96 38 111 34 100 26 57 18 59 5 55 9 56 2 65 7 62 2 0-1072z"/><path fill="#00e2ff" d="M0 5l0 228 11 60 34 101 22 104 22 54 92 182 31 76 12 21 16 0 29 19 17 16 30 36 41 33 93 37 111 34 96 25 65 20 59 5 55 9 57 2 68 7 58 2 0-1071z"/><path fill="#00eeff" d="M0 5l0 190 2 14 2 39 4 28 5 23 32 95 23 106 19 47 93 184 34 83 9 16 16 0 30 19 16 15 32 38 40 32 102 40 13 3 92 29 100 26 58 18 59 5 56 9 60 2 53 6 67 2 2 1 0-1070z"/><path fill="#00fbff" d="M2 5l0 130 1 1 1 95 5 47 5 23 31 92 22 104 21 52 93 184 32 78 11 19 15-1 31 20 14 13 34 40 40 32 88 35 29 9 13 3 69 22 107 28 58 18 60 5 57 9 62 2 54 6 64 2 0-1068z"/><path fill="#07fff8" d="M5 5l0 219 1 1 0 17 3 31 5 27 31 93 23 106 19 47 93 184 32 78 12 21 14 0 1-1 31 20 15 14 33 39 40 32 88 35 32 9 79 25 104 27 62 19 53 4 70 10 47 1 58 6 68 2 0-1066z"/><path fill="#13ffec" d="M6 5l1 236 1 1 0 13 3 29 4 18 30 91 22 103 21 52 94 186 29 71 13 23 16 0 30 19 15 14 33 39 40 32 88 35 122 37 94 24 58 18 60 5 58 9 65 2 47 5 69 2 0-1064z"/><path fill="#20ffe0" d="M8 5l0 236 1 1 2 38 4 21 30 91 22 104 22 54 92 181 33 80 10 16 16 0 29 18 17 16 32 38 40 32 86 34 121 37 98 25 59 18 63 5 52 8 67 2 49 5 66 1 0-1061z"/><path fill="#2cffd3" d="M9 5l0 243 1 1 0 16 2 19 5 23 28 85 23 106 20 49 92 181 33 80 9 16 2 2 16 0 28 17 13 11 36 43 40 32 90 36 116 35 91 23 67 20 63 5 53 8 59 1 1 1 12 0 40 4 70 1 0-1058z"/><path fill="#37ffc8" d="M9 5l0 225 1 1 1 40 5 31 14 46 15 43 22 104 22 54 92 181 31 75 10 18 2 2 15-1 33 21 12 11 36 42 37 30 91 36 100 30 109 28 64 19 56 4 57 8 60 1 1 1 15 0 1 1 46 2 1 1 61 0 0-1054z"/><path fill="#43ffbc" d="M10 5l0 239 1 1 0 19 1 1 1 20 5 23 27 83 23 106 20 49 93 183 31 75 10 18 2 2 15-1 31 19 17 16 31 37 40 32 89 35 107 32 111 28 57 17 62 4 51 7 74 1 1 1 38 1 1 1 70-1 0-1048z"/><path fill="#50ffb0" d="M10 5l0 216 1 1 1 49 5 32 14 47 14 40 22 104 22 54 91 178 32 77 10 18 2 2 16-1 32 20 13 12 35 41 36 29 93 37 116 34 98 24 59 17 56 3 57 7 137 1 1-1 17 0 29-3 0-1038z"/><path fill="#5cffa3" d="M10 5l0 22 1 1 0 215 1 1 0 20 1 1 1 21 9 37 22 67 22 103 21 52 92 180 32 77 12 20 17-1 28 17 14 12 29 35 9 9 38 30 85 33 119 35 108 26 49 14 62 3 46 5 46 0 1-1 82-1 62-8 0-1025z"/><path fill="#67ff98" d="M11 5l0 216 1 1 0 33 1 1 1 26 2 13 9 34 20 60 22 103 20 50 92 180 34 81 10 17 17-1 30 18 13 11 37 43 40 31 77 30 24 8 99 28 82 20 17 3 65 17 58 1 1 1 59 3 1-1 15 0 37-4 14 0 1-1 14 0 31-3 32-6 32-8 0-1005z"/><path fill="#73ff8c" d="M11 5l1 238 1 1 1 34 4 24 5 19 24 76 20 95 21 52 94 184 31 74 11 17 15-2 31 18 15 13 32 38 42 33 83 32 33 10 88 24 96 21 61 15 120 1 38-5 19-4 21-2 38-7 33-10 30-12 0-977z"/><path fill="#80ff80" d="M12 5l0 219 1 1 0 31 1 1 1 25 3 18 7 27 21 65 21 99 21 52 94 184 29 69 12 21 8 0 8-2 30 17 8 6 13 13 27 32 39 31 16 7 74 28 47 13 75 19 150 31 28 0 1-1 18 0 16-2 56-2 35-7 52-13 31-10 38-18 26-17 0-937z"/><path fill="#8bff74" d="M12 5l1 239 1 1 1 33 3 20 7 28 22 70 20 95 22 54 90 174 34 80 11 17 15-3 35 20 16 15 30 34 37 29 63 24 42 14 101 24 68 13 85 14 36-2 24-4 47-5 17-3 38-12 48-18 33-16 31-22 19-19 10-13 0-881z"/><path fill="#98ff67" d="M12 5l1 220 1 1 0 30 1 1 1 25 4 23 7 27 19 59 21 99 21 52 88 170 39 89 9 13 15-3 35 19 25 24 19 22 39 30 78 29 43 12 85 17 71 11 76 9 18 0 18-3 73-16 23-7 42-18 34-16 27-16 17-13 37-37 20-13 0-840z"/><path fill="#a3ff5c" d="M13 5l1 238 1 1 0 20 1 1 1 20 10 46 19 59 21 99 21 52 84 162 12 25 24 57 7 14 8 12 17-2 30 15 9 6 29 29 9 11 40 30 90 32 35 8 86 13 62 7 53 3 1 1 40 0 27-7 69-25 86-43 65-45 34-18 14-5 0-816z"/><path fill="#b0ff4f" d="M13 5l1 218 1 1 0 29 1 1 1 26 2 15 7 31 21 68 20 94 20 50 95 184 16 39 17 36 9 12 16-3 31 15 9 6 12 11 24 25 41 29 86 30 44 9 57 4 21 3 44 2 1 1 21 0 1 1 57 0 30-3 29-11 29-15 52-32 32-17 43-18 68-33 47-16 0-792z"/><path fill="#bcff43" d="M13 5l2 233 1 1 0 21 1 1 1 22 5 29 6 24 17 53 21 99 22 54 86 164 32 73 7 14 9 13 17-3 38 18 26 22 14 14 11 6 28 20 91 30 26 5 36 1 1 1 2-1 49 0 1 1 74-1 54-6 28-8 25-15 39-30 32-17 71-27 70-30 63-21 0-760z"/><path fill="#c7ff38" d="M14 5l1 205 1 1 0 36 1 1 1 30 7 41 11 40 9 25 22 103 22 54 80 152 46 99 8 11 16-4 25 10 17 9 24 19 10 10 23 12 19 13 93 29 25 4 25 0 51-7 11 0 54-6 26-4 26-6 30-11 25-13 16-11 26-15 30-15 57-24 21-11 118-74 28-16 0-687z"/><path fill="#d4ff2b" d="M14 5l2 222 1 1 0 26 1 1 1 26 6 36 10 38 11 32 21 99 22 54 83 157 41 89 11 14 15-5 30 11 10 5 11 9 16 10 10 9 13 5 29 16 84 24 20 4 21 1 31-5 43-14 88-21 38-12 35-15 79-42 24-15 25-20 58-57 27-23 53-38 35-20 0-602z"/><path fill="#e0ff20" d="M15 5l1 184 1 1 0 48 1 1 0 21 1 1 1 23 7 40 8 30 12 37 20 94 22 54 83 156 38 82 6 10 8 9 13-5 4 0 27 9 13 6 34 23 18 6 31 13 92 19 26 0 26-7 46-22 37-12 59-16 29-10 17-7 31-16 30-22 29-26 37-38 50-55 38-37 60-47 23-15 25-13 0-519z"/><path fill="#ebff14" d="M15 5l2 206 1 1 0 34 1 1 1 31 7 44 8 31 12 37 20 94 26 62 85 158 26 58 8 15 11 14 14-5 5 0 21 6 16 6 10 7 17 8 10 7 27 6 16 6 51 5 50 2 15-2 13-4 19-9 36-20 65-22 39-15 36-19 24-17 14-12 155-169 24-24 45-35 56-38 18-16 0-432z"/><path fill="#f8ff07" d="M16 5l2 220 1 1 0 27 1 1 1 27 8 48 18 60 20 94 20 49 16 32 71 130 24 52 16 30 10 10 14-6 29 6 11 4 20 11 7 2 14 7 23 2 13 3 20 0 41-6 31-9 27-12 12-8 23-12 52-18 51-25 29-17 27-19 12-10 33-33 71-81 26-27 39-37 37-41 12-15 24-35 12-21 24-49 21-35 28-39 12-14 0-247z"/><path fill="#fffb00" d="M213 769l10 10 3 0 13-6 28 5 12 4 15 8 12 3 10 5 45-1 24-7 24-12 33-26 20-13 20-9 36-12 28-14 45-33 67-58 23-23 50-58 33-33 36-31 21-23 15-26 25-63 16-30 59-85 30-53 16-25 11-14 11-11 15-11 0-122-1002 0 1 183 1 1 0 46 1 1 0 22 1 1 1 25 9 52 16 52 20 94 21 51 13 26 79 143 17 38z"/><path fill="#ffee00" d="M213 763l10 9 18-7 28 4 10 3 9 5 9 3 9 1 9 4 12-1 30-7 27-14 39-31 27-19 41-22 23-16 23-24 29-40 21-26 34-34 21-18 27-28 70-87 16-25 23-44 18-29 50-60 18-26 14-28 9-23 15-46 12-27 20-32 42-55 12-18-970 0 1 200 1 1 0 36 1 1 2 43 8 48 16 53 20 93 28 66 59 108 23 39 25 52z"/><path fill="#ffe200" d="M215 758l8 6 16-8 4 0 1 1 27 1 9 2 11 5 17 2 5 2 5 0 10-3 32-15 12-8 54-44 41-30 13-13 21-29 30-56 17-26 18-19 29-24 25-25 11-14 19-31 34-69 21-34 30-37 55-57 21-29 12-20 12-25 8-21 22-69 12-30 11-21 10-15-879 0 1 213 1 1 0 29 1 1 2 40 7 43 6 23 9 26 1 9 20 89 21 51 12 24 20 34 29 54 28 47 25 50z"/><path fill="#ffd700" d="M216 750l6 4 3 0 14-8 39-1 15 4 8-1 15 1 5-2 44-28 39-34 26-26 31-43 16-28 17-34 18-29 15-19 48-47 12-16 18-37 21-55 10-20 16-25 34-43 68-77 24-34 11-22 8-23 18-68 6-34-801 0 0 175 1 1 0 47 1 1 0 24 1 1 1 27 7 49 5 20 10 30 21 97 20 49 14 28 30 51 16 30 31 51 25 48z"/><path fill="#ffca00" d="M758 5l-737 0 0 188 1 1 0 41 1 1 2 48 3 26 5 27 14 46 1 9 19 84 20 48 14 28 55 94 22 34 22 41 15 18 7 4 3 0 14-9 35-6 21 0 10-4 11-1 15-10 26-21 19-19 13-16 16-25 37-68 37-61 18-25 25-29 19-28 12-25 24-62 15-27 69-95 46-51 12-15 9-14 7-14 14-48 8-41z"/><path fill="#ffbe00" d="M701 5l-679 0-1 137 1 1 1 97 1 1 2 45 7 49 13 42 21 97 20 48 16 31 49 81 26 39 21 37 15 17 7 3 4 0 14-10 20-6 18-8 13-3 15-10 11-4 13-12 21-25 9-14 9-18 16-39 13-27 46-76 46-70 18-34 15-35 19-36 47-70 12-22 21-33 35-42 13-18 13-28 11-33 6-28z"/><path fill="#ffb300" d="M639 5l-616 0-1 154 1 1 1 84 1 1 2 44 7 48 13 43 20 92 22 52 14 26 50 79 28 40 17 28 16 16 10 2 15-12 11-5 13-9 26-21 28-33 13-26 23-60 19-38 33-57 51-79 38-74 40-67 18-37 20-49 14-28 24-41 15-30 10-27z"/><path fill="#ffa600" d="M577 5l-553 0-1 165 1 1 1 76 1 1 2 44 6 42 13 44 19 88 22 53 14 26 43 64 35 47 18 27 11 10 6 3 9 0 20-18 18-20 21-35 12-27 12-34 41-86 28-51 29-43 23-38 79-153 13-32 30-91z"/><path fill="#ff9b00" d="M524 5l-499 0-1 172 1 1 1 71 1 1 2 45 6 41 12 40 20 91 20 46 15 28 54 72 20 23 19 25 12 10 6 2 10-2 11-12 14-22 9-20 18-58 12-29 38-75 20-43 45-74 58-120 21-36 12-24 7-17 9-29z"/><path fill="#ff8e00" d="M478 5l-452 0-1 178 1 1 1 69 1 1 2 43 5 36 11 36 21 95 20 45 15 27 38 44 47 47 12 10 6 3 7 0 6-3 6-6 11-23 24-76 11-27 28-55 18-42 43-82 42-98 14-28 23-38 12-23 9-24 7-30 9-48z"/><path fill="#ff8200" d="M438 5l-411 0 0 22-1 1 1 203 1 1 0 24 1 1 2 43 5 34 9 28 4 22 18 76 23 50 11 18 20 20 24 19 23 14 24 9 14-1 9-9 10-19 32-83 69-152 43-112 46-93 7-22 11-48z"/><path fill="#ff7700" d="M402 5l-374 0-1 185 1 1 0 44 1 1 1 41 5 48 6 24 5 14 13 61 9 34 23 47 9 14 12 10 10 6 25 10 10 2 13 0 15-4 8-4 10-7 12-15 10-20 27-66 33-75 17-45 31-93 43-102 18-60 7-36z"/><path fill="#ff6a00" d="M370 5l-341 0-1 189 1 1 1 67 1 1 0 16 4 40 4 19 8 26 3 17 17 69 22 43 8 12 8 7 12 5 14 3 23 0 11-3 10-5 14-12 9-11 11-17 33-73 24-60 13-40 20-70 46-127 13-44z"/><path fill="#ff5e00" d="M337 5l-307 0 0 16-1 1 0 175 1 1 1 66 1 1 0 16 4 38 4 18 5 14 10 46 13 49 21 36 6 8 7 6 11 3 19 0 19-4 10-4 6-4 15-16 7-11 16-32 29-65 14-40 29-108 34-107z"/><path fill="#ff5300" d="M304 5l-273 0 0 13-1 1 0 180 1 1 1 66 1 1 0 15 3 30 31 123 22 33 8 8 7 3 22-1 16-5 17-9 9-9 8-12 32-72 18-47 11-41 12-53 29-98 16-70 9-46z"/><path fill="#ff4600" d="M279 5l-247 0 0 10-1 1 0 183 1 1 1 66 1 1 0 14 3 28 13 54 17 61 10 14 15 15 7 4 11 1 16-4 12-6 18-14 6-8 9-17 28-69 14-42 23-98 24-87 11-55z"/><path fill="#ff3b00" d="M259 5l-226 0-1 6 0 184 1 1 0 49 1 1 0 19 1 1 2 33 11 48 18 60 3 6 8 8 8 6 10 5 5 1 9-1 14-6 8-6 15-16 11-16 9-18 22-52 12-39 20-88 20-76 12-59 6-37z"/><path fill="#ff2e00" d="M243 5l-210 0 0 179 1 1 0 57 1 1 0 19 1 1 1 22 4 24 6 24 15 46 6 14 4 4 8 4 7 2 13-1 9-4 7-5 14-14 17-22 14-22 16-31 9-25 7-28 9-49 26-110 10-51z"/><path fill="#ff2200" d="M229 5l-195 0 0 154 1 1 0 76 1 1 1 32 5 32 8 29 15 37 8 8 14-1 8-4 15-11 28-28 14-16 11-15 9-17 8-23 5-21 12-76 20-91z"/><path fill="#ff1700" d="M216 5l-181 0 1 218 1 1 1 34 4 28 6 24 14 31 8 10 8 0 11-6 49-40 20-22 9-17 7-21 5-23 13-96z"/><path fill="#ff0a00" d="M203 5l-167 0 1 178 1 1 1 60 4 30 6 23 11 22 8 10 4 1 9-3 17-14 19-12 17-13 17-18 10-17 9-31 13-105z"/><path fill="#fe0000" d="M192 5l-155 0 2 193 1 1 0 25 1 1 1 22 7 33 12 23 7 7 6 0 7-3 13-10 31-20 18-18 13-22 5-17 3-17 9-83 8-54z"/><path fill="#f20000" d="M182 5l-143 0 1 156 1 1 0 37 1 1 1 29 3 21 6 19 9 16 8 7 4 0 8-3 43-29 14-16 9-17 6-20 4-22 8-74z"/><path fill="#e50000" d="M172 5l-132 0 1 126 1 1 0 40 1 1 0 22 1 1 1 24 3 18 4 12 11 20 5 4 6 0 6-2 31-19 13-12 12-19 6-18 6-28 9-73z"/><path fill="#da0000" d="M163 5l-122 0 1 107 1 1 0 34 1 1 0 25 1 1 1 27 3 19 3 10 9 19 7 7 11-1 28-17 14-15 8-16 6-18 5-23 10-78z"/><path fill="#cd0000" d="M153 5l-112 0 1 1 2 122 1 1 0 23 1 1 2 37 3 15 6 17 6 11 6 5 10-1 21-13 11-11 6-9 7-15 8-28 4-23z"/><path fill="#c20000" d="M144 5l-102 0 1 3 2 105 1 1 0 20 1 1 2 35 5 23 4 11 7 12 4 3 6 0 11-5 16-13 10-13 6-12 7-23 5-27z"/><path fill="#b60000" d="M135 5l-92 0 3 95 1 1 0 16 1 1 2 32 8 34 6 12 5 4 10-1 11-7 15-16 8-15 7-24 4-23z"/><path fill="#a90000" d="M126 5l-82 0 3 81 1 1 0 14 3 28 4 22 5 18 5 10 5 4 4 0 9-4 13-13 7-10 7-16 5-21 6-47z"/><path fill="#9e0000" d="M116 5l-71 0 1 1 2 65 3 29 9 48 6 14 3 3 6 0 7-4 5-5 7-10 10-23 9-62 2-35 1-1z"/><path fill="#920000" d="M105 5l-58 0 0 18 1 1 2 39 11 63 4 13 4 6 6 0 7-6 7-12 4-12 10-68z"/><path fill="#850000" d="M48 5l2 27 5 17 8 44 5 21 2 3 2 0 5-5 7-26 6-44 2-37z"/></g>
<rect x="118.0" y="740.0" width="510.1" height="547.7" fill="none" stroke="#262626" stroke-width="1.8"/>
<path d="M373.1 1287.7v-6.5M373.1 740.0v6.5M118.0 922.6h6.5M628.1 922.6h-6.5M118.0 1105.1h6.5M628.1 1105.1h-6.5" stroke="#262626" stroke-width="1.8" fill="none"/>
<text x="118.0" y="1342.8" font-size="39.5" fill="#262626" text-anchor="middle">0</text>
<text x="373.1" y="1342.8" font-size="39.5" fill="#262626" text-anchor="middle">10</text>
<text x="628.1" y="1342.8" font-size="39.5" fill="#262626" text-anchor="middle">20</text>
<text x="102.0" y="755.3" font-size="39.5" fill="#262626" text-anchor="end">0</text>
<text x="102.0" y="937.9" font-size="39.5" fill="#262626" text-anchor="end">5</text>
<text x="102.0" y="1120.4" font-size="39.5" fill="#262626" text-anchor="end">10</text>
<text x="102.0" y="1303.0" font-size="39.5" fill="#262626" text-anchor="end">15</text>
<text x="21.0" y="765.3" font-size="66.4" fill="#000">D</text>
<g transform="translate(766.40 740.00) scale(0.5)" fill-rule="evenodd"><path fill="#000086" d="M0 5l0 134 38 71 20 50 35 81 16 54 109 325 37 43 28 46 24 29 7 7 56 33 58 41 117 59 57 23 60 18 59 11 56 15 120 24 53 7 69 12 0-1083z"/><path fill="#000092" d="M0 5l0 134 38 71 20 50 35 81 16 54 109 325 37 43 28 46 24 29 7 7 56 33 58 41 117 59 57 23 60 18 59 11 56 15 120 24 53 7 69 12 0-1083z"/><path fill="#00009e" d="M0 5l0 134 38 71 20 50 35 81 16 54 109 325 37 43 28 46 24 29 7 7 56 33 58 41 117 59 57 23 60 18 59 11 56 15 120 24 53 7 69 12 0-1083z"/><path fill="#0000aa" d="M0 5l0 134 38 71 20 50 35 81 16 54 109 325 37 43 28 46 24 29 7 7 56 33 58 41 117 59 57 23 60 18 59 11 56 15 120 24 53 7 69 12 0-1083z"/><path fill="#0000b6" d="M0 5l0 134 38 71 20 50 35 81 16 54 109 325 37 43 28 46 24 29 7 7 56 33 58 41 117 59 57 23 60 18 59 11 56 15 120 24 53 7 69 12 0-1083z"/><path fill="#0000c2" d="M0 5l0 134 38 71 20 50 35 81 16 54 109 325 37 43 28 46 24 29 7 7 56 33 58 41 117 59 57 23 60 18 59 11 56 15 120 24 53 7 69 12 0-1083z"/><path fill="#0000ce" d="M0 5l0 134 38 71 20 50 35 81 16 54 109 325 37 43 28 46 24 29 7 7 56 33 58 41 117 59 57 23 60 18 59 11 56 15 120 24 53 7 69 12 0-1083z"/><path fill="#0000da" d="M0 5l0 134 38 71 20 50 35 81 16 54 109 325 37 43 28 46 24 29 7 7 56 33 58 41 117 59 57 23 60 18 59 11 56 15 120 24 53 7 69 12 0-1083z"/><path fill="#0000e6" d="M0 5l0 134 38 71 20 50 35 81 16 54 109 325 37 43 28 46 24 29 7 7 56 33 58 41 117 59 57 23 60 18 59 11 56 15 120 24 53 7 69 12 0-1083z"/><path fill="#0000f2" d="M0 5l0 134 38 71 20 50 35 81 16 54 109 325 37 43 28 46 24 29 7 7 56 33 58 41 117 59 57 23 60 18 59 11 56 15 120 24 53 7 69 12 0-1083z"/><path fill="#0000fe" d="M0 5l0 134 38 71 20 50 35 81 16 54 109 325 37 43 28 46 24 29 7 7 56 33 58 41 117 59 57 23 60 18 59 11 56 15 120 24 53 7 69 12 0-1083z"/><path fill="#000aff" d="M0 5l0 134 38 71 20 50 35 81 16 54 109 325 37 43 28 46 24 29 7 7 56 33 58 41 117 59 57 23 60 18 59 11 56 15 120 24 53 7 69 12 0-1083z"/><path fill="#0017ff" d="M0 5l0 134 38 71 20 50 35 81 16 54 109 325 37 43 28 46 24 29 7 7 56 33 58 41 117 59 57 23 60 18 59 11 56 15 120 24 53 7 69 12 0-1083z"/><path fill="#0022ff" d="M0 5l0 134 38 71 20 50 35 81 16 54 109 325 37 43 28 46 24 29 7 7 56 33 58 41 117 59 57 23 60 18 59 11 56 15 120 24 53 7 69 12 0-1083z"/><path fill="#002fff" d="M0 5l0 134 38 71 20 50 35 81 16 54 109 325 37 43 28 46 24 29 7 7 56 33 58 41 117 59 57 23 60 18 59 11 56 15 120 24 53 7 69 12 0-1083z"/><path fill="#003bff" d="M0 5l0 134 38 71 20 50 35 81 16 54 109 325 37 43 28 46 24 29 7 7 56 33 58 41 117 59 57 23 60 18 59 11 56 15 120 24 53 7 69 12 0-1083z"/><path fill="#0046ff" d="M0 5l0 134 38 71 20 50 35 81 16 54 109 325 37 43 28 46 24 29 7 7 56 33 58 41 117 59 57 23 60 18 59 11 56 15 120 24 53 7 69 12 0-1083z"/><path fill="#0052ff" d="M0 5l0 134 38 71 20 50 35 81 16 54 109 325 37 43 28 46 24 29 7 7 56 33 58 41 117 59 57 23 60 18 59 11 56 15 120 24 53 7 69 12 0-1083z"/><path fill="#005eff" d="M0 5l0 134 38 71 20 50 35 81 16 54 109 325 37 43 28 46 24 29 7 7 56 33 58 41 117 59 57 23 60 18 59 11 56 15 120 24 53 7 69 12 0-1083z"/><path fill="#006aff" d="M0 5l0 134 38 71 20 50 35 81 16 54 109 325 37 43 28 46 24 29 7 7 56 33 58 41 117 59 57 23 60 18 59 11 56 15 120 24 53 7 69 12 0-1083z"/><path fill="#0077ff" d="M0 5l0 134 22 43 0-29 2-1 8 3 9 7 52 123 17 57 8 22 30 117 0 31 70 208 37 43 28 46 24 29 7 7 9 5 0-11 4-1 47 30 11 8 8 8 0 10 35 25 117 59 57 23 60 18 59 11 56 15 120 24 53 7 69 12 0-1083z"/><path fill="#0082ff" d="M0 5l0 134 9 17 0-10 2-1 10 6 16 6 4 4 53 126 26 84 28 113 12 43 0 21 58 172 37 43 28 46 24 29 7 7 3 1 0-8 9-1 46 29 15 11 18 18 0 8 23 16 117 59 57 23 60 18 59 11 56 15 120 24 53 7 69 12 0-1083z"/><path fill="#008eff" d="M0 5l0 134 2 0 18 11 17 6 4 4 52 124 30 98 27 109 22 82 0 12 46 135 37 43 28 46 28 33 1-6 13 0 45 28 15 11 32 31 0 5 11 8 117 59 57 23 60 18 59 11 56 15 120 24 53 7 69 12 0-1083z"/><path fill="#009bff" d="M0 5l0 133 17 10 19 7 5 5 53 126 18 61 6 15 60 236 40 118 4 6 30 33 31 50 20 24 9 7 14 0 49 31 11 8 42 42 117 59 57 23 57 17 62 12 61 16 110 22 58 8 69 12 0-1081z"/><path fill="#00a6ff" d="M0 5l0 132 21 12 16 6 4 4 54 129 15 52 10 29 58 229 41 120 35 39 28 46 23 28 6 4 15 0 50 32 11 8 42 42 115 58 60 24 30 8 27 9 59 11 61 16 115 23 53 7 70 13 0-1081z"/><path fill="#00b2ff" d="M0 5l0 132 20 11 16 6 5 5 53 126 15 51 9 25 60 236 40 118 37 43 28 46 19 23 10 8 15 0 43 27 15 11 43 43 120 60 55 22 62 18 54 10 61 16 110 22 59 8 70 13 0-1080z"/><path fill="#00beff" d="M0 5l0 131 22 12 14 5 5 5 53 126 17 58 7 18 60 237 41 120 35 39 28 46 23 28 6 4 15 0 45 28 15 11 43 43 116 58 55 22 60 18 58 11 62 16 116 23 53 7 53 10 17 2 0-1078z"/><path fill="#00cbff" d="M0 5l0 130 19 11 18 7 4 4 52 124 27 86 58 229 40 118 4 6 30 33 31 50 20 24 8 6 15 0 46 29 14 10 43 43 118 59 55 22 61 18 55 10 62 16 30 5 81 17 59 8 69 12 0-1077z"/><path fill="#00d6ff" d="M0 5l0 130 21 11 16 6 4 4 53 127 27 87 56 222 42 124 36 40 28 46 18 22 7 7 4 2 14-1 43 27 18 13 41 42 112 56 62 25 61 18 5 0 55 11 53 14 117 23 60 8 66 12 0-1076z"/><path fill="#00e2ff" d="M0 5l0 129 18 10 18 7 5 5 53 126 31 102 53 211 41 120 35 39 28 46 22 27 7 5 16 0 49 31 11 8 41 42 116 58 58 23 62 18 56 10 58 15 66 13 5 0 41 9 60 8 69 12 0-1074z"/><path fill="#00eeff" d="M0 5l0 129 20 10 16 6 5 5 52 124 17 57 8 21 30 120 15 54 15 63 40 118 3 5 34 38 28 46 20 24 8 6 16 0 49 31 11 8 42 43 111 55 60 24 61 18 56 10 59 15 119 23 55 7 69 12 0-1072z"/><path fill="#00fbff" d="M0 5l0 128 20 10 16 6 5 5 52 124 32 104 53 211 41 121 36 40 28 46 18 22 9 8 17 0 45 28 14 10 43 44 118 58 54 21 62 18 57 10 60 15 58 10 53 11 62 8 66 11 0-1069z"/><path fill="#07fff8" d="M0 5l0 127 22 11 14 5 5 5 53 127 14 48 11 31 59 233 41 121 35 39 28 46 23 28 7 4 1-1 14 0 58 37 43 44 109 54 63 25 63 18 62 11 57 14 38 6 77 15 52 6 70 12 0-1066z"/><path fill="#13ffec" d="M0 5l0 126 37 17 4 4 53 127 14 48 11 31 25 96 0 4 20 73 16 67 39 114 35 39 28 46 23 28 7 4 14-2 61 39 41 43 119 58 50 19 67 19 55 9 58 14 40 6 75 14 63 7 64 10 0-1060z"/><path fill="#20ffe0" d="M0 5l0 125 37 17 4 4 53 127 13 45 12 34 11 40 50 200 39 114 35 39 28 46 23 28 5 3 16-1 59 37 44 45 111 54 67 25 56 15 53 8 63 14 116 18 57 5 67 9 0-1051z"/><path fill="#2cffd3" d="M0 5l0 124 36 16 5 5 52 125 14 47 12 34 1 7 12 40 18 76 19 69 9 41 41 121 35 39 28 46 25 29 4 2 16-1 59 37 42 44 115 55 61 22 59 15 58 8 61 12 108 13 70 4 59 6 0-1036z"/><path fill="#37ffc8" d="M0 5l0 123 36 16 5 5 52 125 14 47 12 34 11 39 18 76 21 76 9 42 41 121 36 40 28 46 24 28 4 2 15-2 59 36 43 45 117 55 56 19 60 14 56 6 58 9 103 7 1 1 14 0 1 1 48 0 1 1 27 0 1 1 48 2 0-1015z"/><path fill="#43ffbc" d="M0 5l0 122 9 3 27 13 5 5 53 127 37 121 19 80 20 72 10 45 38 112 8 11 29 32 27 44 24 29 5 2 15-2 43 25 18 12 42 44 111 51 64 20 60 11 55 3 57 6 104 2 1 1 60-1 1-1 77 0 0-989z"/><path fill="#50ffb0" d="M0 5l0 120 37 17 4 4 53 128 37 120 20 84 18 63 10 47 40 118 35 39 29 47 23 27 4 2 16-2 61 36 42 44 65 30 41 17 18 6 48 12 61 8 55 0 1 1 47 1 1 1 44 0 1-1 47 0 1-1 44-1 1-1 23-1 92-9 0-956z"/><path fill="#5cffa3" d="M0 5l0 119 9 3 27 13 5 5 53 128 9 32 16 46 12 41 16 65 0 4 23 81 9 44 40 118 35 39 30 48 22 26 9 2 11-3 62 36 43 44 91 39 29 9 48 9 32 2 1 1 17 0 1 1 159-4 1-1 28-1 1-1 54-4 66-10 60-11 0-920z"/><path fill="#67ff98" d="M0 5l0 117 11 4 24 12 6 6 52 125 40 128 18 77 19 64 7 38 5 18 37 108 35 39 28 45 25 29 8 1 11-3 60 33 44 44 69 29 32 11 28 6 33 4 71 1 57-7 48-2 1-1 12 0 40-4 85-13 63-14 50-13 0-882z"/><path fill="#73ff8c" d="M0 5l0 115 11 4 25 13 5 5 30 70 21 53 40 126 18 77 20 65 5 30 6 25 15 45 12 31 10 33 11 15 27 29 27 43 23 27 7 2 13-4 56 29 12 9 37 36 85 33 28 7 30 3 45 1 1-1 27-1 16-2 53-11 101-12 68-13 71-19 63-14 0-849z"/><path fill="#80ff80" d="M0 5l0 113 9 3 27 14 5 5 32 75 20 51 19 63 6 14 3 13 12 36 19 81 17 51 9 49 6 22 23 62 12 39 16 20 19 19 29 45 23 27 9 1 11-4 18 10 42 19 44 40 82 31 37 8 60 0 38-5 14-3 53-16 115-19 132-29 58-11 0-824z"/><path fill="#8bff74" d="M0 5l0 110 27 13 10 6 4 4 30 70 23 59 14 48 7 18 20 63 17 74 18 52 4 17 4 29 6 23 12 35 13 31 10 35 13 17 25 26 27 41 22 25 6 2 14-5 13 7 22 8 26 12 43 37 86 31 33 6 45-2 34-5 23-6 38-15 27-8 120-20 183-39 0-799z"/><path fill="#98ff67" d="M0 5l0 107 16 7 20 12 5 5 40 95 7 21 4 8 14 47 28 82 17 74 5 17 15 39 4 17 3 25 7 29 14 39 11 23 9 33 7 12 10 12 21 21 13 17 15 23 21 24 8 1 13-4 13 6 17 5 30 13 40 33 89 31 18 4 21 1 28-3 37-7 29-9 30-12 34-10 74-13 96-21 86-23 50-17 0-764z"/><path fill="#a3ff5c" d="M0 5l0 103 15 7 6 5 14 8 6 6 34 79 17 45 14 47 27 77 21 88 19 49 4 18 3 26 7 28 10 28 15 29 7 28 12 21 9 11 19 18 16 20 7 11 23 27 8 2 11-4 4 0 15 6 14 3 32 14 41 31 58 17 26 9 21 4 19 0 21-3 56-13 68-23 62-13 48-12 58-18 27-11 14-8 25-19 23-23 28-34 20-20 15-11 0-653z"/><path fill="#b0ff4f" d="M0 5l0 97 15 9 25 19 38 88 16 43 13 45 28 79 20 84 18 42 5 20 5 37 10 35 8 18 8 11 6 12 4 18 10 24 10 14 26 25 18 23 23 25 6 2 12-4 4 0 7 3 20 4 32 13 43 30 90 23 16 2 20-1 71-15 67-22 61-16 25-9 24-12 18-14 25-25 38-53 23-25 19-15 30-19 62-32 0-583z"/><path fill="#bcff43" d="M0 5l0 91 14 9 7 7 15 11 5 6 37 86 18 50 6 23 12 36 22 60 17 74 23 55 9 55 9 31 6 13 9 11 8 14 10 33 10 19 7 9 9 7 55 56 5 1 14-4 8 3 20 3 33 13 41 27 91 17 25 1 29-4 44-9 52-16 42-16 16-8 11-8 17-16 12-15 37-62 12-15 11-11 20-16 28-19 81-50 35-27 27-23 0-502z"/><path fill="#c7ff38" d="M0 5l0 82 8 6 32 31 39 90 16 45 15 51 27 72 17 74 5 13 11 21 8 21 8 51 9 32 8 15 12 13 9 18 8 28 9 17 10 11 16 12 40 38 9 1 12-3 6 2 24 3 28 10 42 25 30 4 50 3 1 1 38 0 41-6 26-6 32-13 19-13 21-20 18-23 33-51 14-17 27-27 34-28 27-19 28-22 46-42 40-40 27-32 39-56 0-372z"/><path fill="#d4ff2b" d="M0 5l0 71 9 8 19 24 13 14 32 73 23 64 13 45 9 22 6 20 6 12 8 22 18 76 18 36 4 11 6 28 3 24 7 28 7 15 13 13 8 12 5 10 8 28 6 13 11 13 20 14 33 28 6 2 9-1 4-2 15 2 17 0 31 9 26 14 17 7 55-1 58-8 34-11 14-7 21-16 19-22 32-42 34-34 39-35 35-34 106-119 28-40 92-159 10-15 12-13 0-199z"/><path fill="#e0ff20" d="M0 5l0 56 8 8 24 38 9 11 21 50 12 25 21 59 4 17 13 40 4 8 8 25 7 14 8 21 18 75 21 42 7 30 6 38 6 20 5 9 14 13 10 14 17 47 10 12 54 35 6 1 13-4 1 1 34 0 14 3 13 1 40 13 21-3 21-5 33-12 27-14 19-13 20-17 105-100 24-29 44-67 23-27 37-38 23-30 53-83 25-43 28-54 20-30 13-15 21-19 34-22 0-101z"/><path fill="#ebff14" d="M250 662l32 19 11 4 13 7 10 0 8-3 17 0 13-3 25-1 8-2 4 1 38-1 22-9 42-22 36-23 30-24 26-27 22-28 18-29 24-45 20-30 9-11 19-19 26-22 23-22 17-20 14-20 38-61 21-40 10-26 19-60 17-38 29-48 38-54-949 0 0 34 6 6 4 7 19 43 13 20 18 44 16 34 16 45 7 27 13 40 6 13 5 17 14 30 7 22 9 43 5 17 21 42 6 23 8 47 5 16 3 6 19 18 7 9 15 40z"/><path fill="#f8ff07" d="M252 648l30 15 24 7 9-1 10-4 10 0 10-2 12-5 9-1 23-9 38-11 32-16 35-20 17-12 20-19 12-16 11-21 21-56 16-29 10-13 18-18 59-49 26-26 31-44 19-32 11-22 10-27 9-40 10-59 9-33 15-40 21-40-830 0 4 25 16 55 12 22 18 45 22 48 13 39 4 18 12 38 16 42 9 17 7 18 14 59 4 12 18 35 9 31 7 41 5 17 4 7 9 7 12 12 5 7 14 34z"/><path fill="#fffb00" d="M253 630l29 11 21 3 10-1 12-5 19-3 36-17 14-9 40-20 31-21 18-17 10-15 7-15 19-62 13-26 21-21 46-33 41-36 36-45 14-21 10-18 12-28 6-21 6-29 10-66 12-59 13-51-739 0 4 41 6 30 4 11 7 13 19 49 23 50 11 34 5 22 10 32 17 44 15 30 21 77 17 34 5 14 15 69 3 7 27 26 16 32z"/><path fill="#ffee00" d="M695 5l-670 0 2 36 5 29 25 66 21 44 8 20 24 84 17 42 17 34 6 19 7 30 10 30 14 28 6 17 10 47 5 17 5 7 20 18 10 13 10 17 5 5 27 7 30 0 19-7 12-2 31-18 50-40 11-11 15-21 12-25 21-54 14-21 18-18 43-32 26-22 37-42 20-25 11-17 7-14 8-24 5-33 7-73z"/><path fill="#ffe200" d="M28 5l2 36 5 26 24 67 19 39 9 22 17 64 9 26 14 33 20 39 23 76 18 41 15 57 12 17 33 33 6 3 13 2 38-1 37-13 19-14 20-20 15-19 23-34 28-55 21-29 27-28 20-17 24-24 14-19 39-46 13-19 7-15 4-17 3-29 2-49 1-1 2-32 8-49 11-51z"/><path fill="#ffd700" d="M31 5l1 27 4 24 19 60 14 33 17 35 7 21 12 49 8 23 11 26 18 32 8 17 23 73 17 40 8 29 7 18 15 21 12 12 11 8 7 3 22 1 29-4 13-4 24-11 7-5 17-17 10-13 14-23 17-33 21-33 26-33 30-33 11-14 47-71 16-28 5-13 4-18 11-103 6-36 13-60z"/><path fill="#ffca00" d="M33 5l3 33 9 35 14 44 30 66 6 19 9 39 7 22 19 42 17 27 8 17 8 22 12 41 29 72 13 20 14 15 9 6 10 3 24-1 19-4 15-5 23-12 7-5 14-15 13-20 20-41 11-19 56-72 19-34 26-53 10-28 7-30 16-107 15-77z"/><path fill="#ffbe00" d="M36 5l4 34 14 50 15 43 20 41 9 29 11 45 19 44 23 34 6 11 6 14 20 63 19 40 21 29 10 10 10 6 4 1 27-1 17-5 15-7 23-17 8-8 7-10 32-66 15-23 23-30 20-35 15-32 13-36 9-41 9-66 19-111 0-6z"/><path fill="#ffb300" d="M39 5l7 40 10 36 15 45 17 34 5 13 19 70 11 27 8 15 23 30 9 15 6 15 14 45 12 26 6 9 23 26 14 13 8 4 19 1 12-3 11-5 14-10 11-12 6-9 17-32 17-41 9-16 36-52 13-25 7-17 8-27 7-38 7-59 18-118z"/><path fill="#ffa600" d="M44 5l6 36 18 63 7 20 18 37 22 76 16 36 9 13 16 17 8 11 10 22 14 42 11 19 33 27 14 8 13 1 10-3 8-5 11-11 8-12 10-21 14-38 9-19 11-17 25-33 10-17 9-21 9-39 9-75 18-117z"/><path fill="#ff9b00" d="M49 5l6 34 17 61 8 22 16 33 13 46 12 36 12 26 9 13 21 20 7 10 6 12 15 40 6 10 5 5 24 10 14 4 12 0 10-4 11-11 10-16 12-28 14-28 34-54 9-23 8-45 7-66 15-107z"/><path fill="#ff8e00" d="M56 5l3 25 13 51 11 31 17 37 24 78 11 25 11 15 15 11 11 12 23 46 6 7 2 1 26-1 19-8 14-11 13-18 20-35 15-30 5-13 7-33 10-87 15-103z"/><path fill="#ff8200" d="M62 5l3 23 9 38 5 15 26 60 13 39 9 33 10 26 8 12 5 5 13 7 11 9 8 10 13 21 4 4 4 2 8-1 13-5 14-10 20-21 8-12 13-29 6-30 10-100 15-96z"/><path fill="#ff7700" d="M69 5l1 14 6 28 4 12 19 37 18 50 16 58 10 26 5 7 6 5 12 3 10 5 24 19 5 1 12-4 12-11 5-7 9-19 4-15 7-47 4-50 14-112z"/><path fill="#ff6a00" d="M77 5l1 13 4 13 6 12 13 20 10 22 9 30 16 63 8 24 5 10 7 7 39 0 1 1 12-1 6-6 4-7 4-11 5-22 8-63 9-105z"/><path fill="#ff5e00" d="M103 5l11 31 21 89 10 34 6 13 5 5 14-3 14-9 12-13 9-15 4-12 5-22 5-32 6-66z"/><path fill="#ff5300" d="M206 5l-81 0 6 41 8 35 8 24 8 12 7 0 6-3 9-9 10-18 11-36z"/><path fill="#ff4600" d="M184 5l-45 0 5 27 5 15 3 6 4 4 4 0 5-3 6-8 8-19z"/></g>
<rect x="766.4" y="740.0" width="510.1" height="547.7" fill="none" stroke="#262626" stroke-width="1.8"/>
<path d="M1021.5 1287.7v-6.5M1021.5 740.0v6.5M766.4 922.6h6.5M1276.5 922.6h-6.5M766.4 1105.1h6.5M1276.5 1105.1h-6.5" stroke="#262626" stroke-width="1.8" fill="none"/>
<text x="766.4" y="1342.8" font-size="39.5" fill="#262626" text-anchor="middle">0</text>
<text x="1021.5" y="1342.8" font-size="39.5" fill="#262626" text-anchor="middle">10</text>
<text x="1276.5" y="1342.8" font-size="39.5" fill="#262626" text-anchor="middle">20</text>
<text x="750.4" y="755.3" font-size="39.5" fill="#262626" text-anchor="end">0</text>
<text x="750.4" y="937.9" font-size="39.5" fill="#262626" text-anchor="end">5</text>
<text x="750.4" y="1120.4" font-size="39.5" fill="#262626" text-anchor="end">10</text>
<text x="750.4" y="1303.0" font-size="39.5" fill="#262626" text-anchor="end">15</text>
<text x="669.4" y="765.3" font-size="66.4" fill="#000">E</text>
<g transform="translate(1414.70 740.00) scale(0.5)" fill-rule="evenodd"><path fill="#000086" d="M0 5l0 126 17 23 20 32 20 40 17 53 37 93 133 265 25 81 13 26 30 47 17 35 42 30 113 68 62 31 169 68 61 13 165 24 7 2 71 6 0-1063z"/><path fill="#000092" d="M0 5l0 126 17 23 20 32 20 40 17 53 37 93 133 265 25 81 13 26 30 47 17 35 42 30 113 68 62 31 169 68 61 13 165 24 7 2 71 6 0-1063z"/><path fill="#00009e" d="M0 5l0 126 17 23 20 32 20 40 17 53 37 93 133 265 25 81 13 26 30 47 17 35 42 30 113 68 62 31 169 68 61 13 165 24 7 2 71 6 0-1063z"/><path fill="#0000aa" d="M0 5l0 126 17 23 20 32 20 40 17 53 37 93 133 265 25 81 13 26 30 47 17 35 42 30 113 68 62 31 169 68 61 13 165 24 7 2 71 6 0-1063z"/><path fill="#0000b6" d="M0 5l0 126 17 23 20 32 20 40 17 53 37 93 133 265 25 81 13 26 30 47 17 35 42 30 113 68 62 31 169 68 61 13 165 24 7 2 71 6 0-1063z"/><path fill="#0000c2" d="M0 5l0 126 17 23 20 32 20 40 17 53 37 93 133 265 25 81 13 26 30 47 17 35 42 30 113 68 62 31 169 68 61 13 165 24 7 2 71 6 0-1063z"/><path fill="#0000ce" d="M0 5l0 126 17 23 20 32 20 40 17 53 37 93 133 265 25 81 13 26 30 47 17 35 42 30 113 68 62 31 169 68 61 13 165 24 7 2 71 6 0-1063z"/><path fill="#0000da" d="M0 5l0 126 17 23 20 32 20 40 17 53 37 93 133 265 25 81 13 26 30 47 17 35 42 30 113 68 62 31 169 68 61 13 165 24 7 2 71 6 0-1063z"/><path fill="#0000e6" d="M0 5l0 126 17 23 20 32 20 40 17 53 37 93 133 265 25 81 13 26 30 47 17 35 42 30 113 68 62 31 169 68 61 13 165 24 7 2 71 6 0-1063z"/><path fill="#0000f2" d="M0 5l0 126 17 23 20 32 20 40 17 53 37 93 133 265 25 81 13 26 30 47 17 35 42 30 113 68 62 31 169 68 61 13 165 24 7 2 71 6 0-1063z"/><path fill="#0000fe" d="M0 5l0 126 17 23 20 32 20 40 17 53 37 93 133 265 25 81 13 26 30 47 17 35 42 30 113 68 62 31 169 68 61 13 165 24 7 2 71 6 0-1063z"/><path fill="#000aff" d="M0 5l0 126 17 23 20 32 20 40 17 53 37 93 133 265 25 81 13 26 30 47 17 35 42 30 113 68 62 31 169 68 61 13 165 24 7 2 71 6 0-1063z"/><path fill="#0017ff" d="M0 5l0 126 17 23 20 32 20 40 17 53 37 93 133 265 25 81 13 26 30 47 17 35 42 30 113 68 62 31 169 68 61 13 165 24 7 2 71 6 0-1063z"/><path fill="#0022ff" d="M0 5l0 126 17 23 20 32 20 40 17 53 37 93 133 265 25 81 13 26 30 47 17 35 42 30 113 68 62 31 169 68 61 13 165 24 7 2 71 6 0-1063z"/><path fill="#002fff" d="M0 5l0 126 17 23 20 32 20 40 17 53 37 93 133 265 25 81 13 26 30 47 17 35 42 30 113 68 62 31 169 68 61 13 165 24 7 2 71 6 0-1063z"/><path fill="#003bff" d="M0 5l0 126 17 23 20 32 20 40 17 53 37 93 133 265 25 81 13 26 30 47 17 35 42 30 113 68 62 31 169 68 61 13 165 24 7 2 71 6 0-1063z"/><path fill="#0046ff" d="M0 5l0 126 17 23 20 32 20 40 17 53 37 93 133 265 25 81 13 26 30 47 17 35 42 30 113 68 62 31 169 68 61 13 165 24 7 2 71 6 0-1063z"/><path fill="#0052ff" d="M0 5l0 126 17 23 20 32 20 40 17 53 37 93 133 265 25 81 13 26 30 47 17 35 42 30 113 68 62 31 169 68 61 13 165 24 7 2 71 6 0-1063z"/><path fill="#005eff" d="M0 5l0 126 17 23 20 32 20 40 17 53 37 93 133 265 25 81 13 26 30 47 17 35 42 30 113 68 62 31 169 68 61 13 165 24 7 2 71 6 0-1063z"/><path fill="#006aff" d="M0 5l0 126 17 23 20 32 20 40 17 53 37 93 133 265 25 81 13 26 30 47 17 35 42 30 113 68 62 31 169 68 61 13 165 24 7 2 71 6 0-1063z"/><path fill="#0077ff" d="M0 5l0 126 12 17 0-32 7-5 11-3 7 10 19 37 18 56 26 65 0 69 11 27 133 265 25 81 13 26 30 47 17 35 42 30 113 68 62 31 169 68 61 13 165 24 7 2 71 6 0-1063z"/><path fill="#0082ff" d="M0 5l0 126 6 9 0-19 2-3 7-6 15-5 7 10 20 40 18 56 25 64 12 27 37 109 16 41 0 26 79 157 25 81 13 26 30 47 17 35 42 30 113 68 62 31 169 68 61 13 165 24 7 2 71 6 0-1063z"/><path fill="#008eff" d="M0 5l0 126 0-2 11-15 8-5 11-3 8 12 18 36 20 61 37 91 35 104 37 97 0 13 59 117 25 81 13 26 30 47 17 35 42 30 113 68 62 31 169 68 61 13 165 24 7 2 71 6 0-1063z"/><path fill="#009bff" d="M0 5l0 124 11-16 8-5 11-3 5 7 21 41 18 56 20 52 18 42 37 109 33 89 47 105 15 29 25 81 13 26 30 47 17 35 42 30 113 68 62 31 169 68 61 13 165 24 7 2 71 6 0-1061z"/><path fill="#00a6ff" d="M0 5l0 123 11-16 8-5 11-3 6 9 21 42 18 56 38 94 35 104 33 89 45 101 18 36 25 81 14 27 28 44 18 36 43 31 111 67 64 32 172 69 67 13 160 23 7 2 66 5 0-1060z"/><path fill="#00b2ff" d="M0 5l0 122 8-13 4-4 7-4 11-3 6 9 21 42 18 56 18 47 20 47 36 107 34 92 45 100 15 29 26 83 13 26 30 47 17 35 42 30 113 68 62 31 170 68 62 13 153 22 7 2 47 5 34 2 0-1059z"/><path fill="#00beff" d="M0 5l0 121 8-13 5-5 5-3 12-3 6 9 21 42 19 59 36 89 35 104 34 92 48 108 15 29 25 81 15 29 27 42 18 36 43 31 113 68 60 30 170 68 62 13 119 17 7 2 27 3 21 4 67 5 1 1 0-1059z"/><path fill="#00cbff" d="M0 5l0 120 10-16 8-5 12-3 6 9 20 40 20 61 36 89 37 110 34 92 44 98 16 31 26 83 13 26 30 47 17 35 44 31 113 68 61 30 170 68 71 14 20 2 108 17 44 6 35 2 24 3 0-1058z"/><path fill="#00d6ff" d="M0 5l0 118 8-13 4-4 7-4 11-2 5 7 21 42 20 61 37 92 33 99 35 95 48 108 15 29 25 81 15 29 27 42 18 36 40 29 113 68 64 32 171 68 64 13 13 1 7 2 20 2 7 2 20 2 7 2 27 3 69 11 68 5 0-1056z"/><path fill="#00e2ff" d="M0 5l0 117 11-17 10-5 9-1 8 12 18 37 20 61 37 92 35 105 35 95 44 98 17 34 25 80 13 26 30 47 16 33 42 31 115 69 63 31 171 68 62 12 164 23 7 2 67 5 0-1055z"/><path fill="#00eeff" d="M0 5l0 115 10-16 8-5 12-2 7 11 19 39 20 61 37 92 36 108 32 87 48 108 15 29 26 83 13 25 28 44 18 36 42 30 112 67 62 31 172 68 65 13 41 5 7 2 48 6 70 11 70 5 1 1 0-1054z"/><path fill="#00fbff" d="M0 5l0 113 11-17 8-4 11-1 5 7 22 45 18 56 36 90 32 96 39 107 45 101 15 29 27 85 15 29 28 44 17 34 45 32 112 67 59 29 170 67 63 13 153 22 7 0 15 3 66 5 0-1052z"/><path fill="#07fff8" d="M0 5l0 110 5-9 7-8 6-3 12-1 7 11 20 42 21 64 37 93 33 100 35 95 47 105 14 27 25 80 13 26 30 47 17 34 43 31 114 68 59 29 171 67 59 12 163 23 41 4 40 2 0-1049z"/><path fill="#13ffec" d="M0 5l0 106 8-12 6-5 16-2 26 51 18 56 39 98 35 106 37 100 43 96 15 29 27 85 13 25 28 44 18 36 43 30 114 68 62 30 167 65 65 13 7 0 109 16 45 5 8 2 69 4 1 1 0-1047z"/><path fill="#20ffe0" d="M0 5l0 102 6-9 6-6 5-2 13 0 27 54 19 59 37 93 36 109 35 95 43 96 17 34 25 80 14 27 28 44 18 36 43 30 111 66 63 31 169 65 67 13 105 13 8 2 56 7 68 4 0-1043z"/><path fill="#2cffd3" d="M0 5l0 96 11-12 4-2 15 1 25 50 19 58 38 96 38 115 33 90 46 103 15 29 25 80 15 29 27 42 18 36 43 30 110 65 68 33 169 64 56 10 173 21 71 3 0-1037z"/><path fill="#37ffc8" d="M0 5l0 89 10-9 9-2 11 2 8 14 8 20 11 22 18 56 36 91 39 118 33 90 45 101 15 29 26 82 15 29 27 42 18 36 42 29 112 66 72 34 165 61 61 10 119 13 44 3 1 1 74 1 0-1028z"/><path fill="#43ffbc" d="M0 5l0 80 9-6 5-1 16 4 10 19 6 16 10 20 19 58 37 94 38 116 33 90 45 101 14 27 27 84 14 27 28 44 17 34 3 3 39 27 113 66 60 29 50 19 125 44 67 10 66 5 1 1 12 0 1 1 12 0 1 1 14 0 1 1 54 2 1 1 71-2 0-1015z"/><path fill="#50ffb0" d="M0 5l0 69 14-2 15 6 3 3 7 15 5 14 12 25 19 58 34 86 40 122 34 93 21 49 40 84 25 79 14 27 28 44 19 36 38 26 112 65 70 33 72 26 96 31 69 8 49 2 1 1 22 0 1 1 28 0 1 1 81 0 1-1 16 0 1-1 14 0 17-2 0-998z"/><path fill="#5cffa3" d="M0 5l0 58 10 0 20 11 8 16 6 17 13 28 17 53 35 89 39 120 35 96 26 60 35 73 25 79 13 25 30 47 16 32 3 3 37 25 85 49 43 23 48 22 94 32 75 21 47 5 37 1 1 1 138 0 1-1 21 0 61-6 0-979z"/><path fill="#67ff98" d="M0 5l0 45 9 3 22 18 7 15 11 30 7 14 20 61 32 81 44 135 33 90 24 55 35 73 25 78 14 27 28 44 18 35 43 28 67 38 53 28 45 20 75 25 79 20 9 1 19 5 44 1 1 1 61 0 1-1 34 0 1-1 23 0 1-1 62-3 72-10 0-955z"/><path fill="#73ff8c" d="M0 5l0 33 9 4 22 23 13 35 13 30 16 50 32 81 45 139 33 91 26 60 33 68 27 83 15 28 27 42 17 33 3 3 38 24 72 40 52 26 51 21 22 7 71 19 40 8 42 7 62 0 1-1 34-1 1-1 51-3 71-8 80-15 0-926z"/><path fill="#80ff80" d="M0 5l0 20 6 3 10 10 16 22 14 41 10 23 17 53 33 84 46 143 29 80 29 68 33 68 26 80 14 26 28 44 18 34 30 17 8 6 46 25 73 36 16 5 37 15 23 7 57 14 58 10 41 5 70-4 68-9 53-9 45-9 65-16 0-892z"/><path fill="#8bff74" d="M0 5l0 8 5 2 9 9 18 28 39 116 33 84 18 58 16 46 6 22 25 72 8 19 6 19 19 45 42 88 25 77 13 24 27 42 21 37 68 37 49 24 37 16 62 21 71 16 60 8 27 1 1 1 23 0 49-6 90-19 87-22 34-10 31-7 0-856z"/><path fill="#98ff67" d="M7 5l10 11 14 24 14 47 8 21 14 45 38 98 50 158 32 87 28 64 28 57 27 81 60 99 97 47 38 16 28 10 10 2 40 13 27 6 51 9 27 3 14 0 1 1 60 0 38-7 145-41 113-29 0-822z"/><path fill="#a3ff5c" d="M17 5l4 5 10 19 15 54 21 66 37 95 19 63 16 47 7 26 38 107 23 54 36 74 26 78 60 98 28 11 17 9 28 11 23 11 59 22 68 17 50 8 31 2 1 1 50 0 1-1 35-2 55-15 66-22 111-30 67-20 0-788z"/><path fill="#b0ff4f" d="M25 5l8 18 12 48 10 31 6 24 16 46 28 70 22 74 16 48 3 13 37 105 23 55 37 76 25 74 15 26 30 45 6 12 11 15 28 9 7 4 26 9 46 19 49 16 58 12 30 4 33 2 1 1 44 0 31-3 40-7 99-33 98-29 44-15 55-21 0-748z"/><path fill="#bcff43" d="M31 5l5 15 5 24 21 80 13 38 29 72 43 143 37 105 23 55 37 76 9 30 15 40 61 94 28 7 11 5 42 13 14 6 62 19 70 10 18 0 1 1 59-1 29-4 53-12 121-41 98-38 59-19 25-6 0-712z"/><path fill="#c7ff38" d="M35 5l30 123 9 26 31 77 44 149 33 94 23 56 39 80 12 38 13 33 28 39 32 48 17 4 11 1 13 5 34 8 39 13 43 11 45 5 47 0 40-4 42-9 62-20 150-61 104-39 23-11 13-11 4-23 2-36 1-1 0-595z"/><path fill="#d4ff2b" d="M39 5l19 88 9 35 8 23 32 79 43 149 38 107 23 54 33 66 0 3 12 35 14 33 27 35 22 33 11 13 13 2 14 0 11 4 32 5 43 12 41 9 19 2 56-1 34-6 28-7 24-8 75-32 100-48 32-19 10-8 8-9 7-11 9-20 14-56 7-22 9-21 13-24 45-68 22-21 23-15 0-391z"/><path fill="#e0ff20" d="M43 5l12 63 12 53 8 24 31 75 7 21 38 136 35 100 23 55 35 70 10 32 16 37 28 33 22 31 9 10 3 1 23 0 1-1 19 4 23 1 63 13 26 4 44-1 33-7 43-15 37-16 44-24 30-18 26-18 29-29 11-17 9-18 18-47 17-34 26-41 39-53 22-22 30-23 35-22 39-22 0-335z"/><path fill="#ebff14" d="M46 5l11 55 0 5 12 55 10 29 28 66 12 38 32 118 18 55 20 54 23 54 32 63 10 31 15 34 33 36 15 20 12 13 12 0 13-3 24 1 1-1 23-1 72 9 29 0 15-2 33-9 26-11 41-21 23-15 15-12 24-24 28-35 26-43 46-87 32-47 11-13 26-26 68-56 20-20 53-59 29-37 0-214z"/><path fill="#f8ff07" d="M271 656l58 58 17-3 11-5 12 0 31-8 13 0 1-1 69 1 25-4 19-6 26-12 19-12 15-12 20-22 15-22 29-48 39-51 16-26 23-42 13-20 29-36 40-40 32-36 23-30 32-47 21-35 21-42 36-85 25-65-951 0 10 63 10 47 12 35 23 52 9 25 38 140 23 70 28 72 41 82 12 35z"/><path fill="#fffb00" d="M282 656l26 19 15 14 7 4 13-4 14-8 15-4 28-13 28-5 47-5 33-9 22-12 8-6 15-15 16-23 20-39 14-24 51-69 58-91 70-96 44-70 32-61 19-42 21-52 14-40-859 0 11 71 11 47 11 30 25 56 9 27 30 115 26 82 29 74 26 54 13 23 10 29 15 30z"/><path fill="#ffee00" d="M278 639l10 7 41 23 16-7 11-8 18-8 24-14 15-5 42-10 29-10 21-12 16-14 20-27 32-59 19-32 58-84 19-32 32-63 45-78 33-65 37-81 21-55-781 0 10 68 10 44 11 31 24 52 11 31 23 91 34 111 29 73 21 44 16 28 8 23 15 28z"/><path fill="#ffe200" d="M270 617l11 8 12 6 22 7 8 4 7 1 13-6 53-34 41-18 28-15 19-14 19-20 25-38 44-80 19-29 20-27 21-34 31-66 41-100 46-101 23-56-714 0 7 53 14 63 8 22 25 53 10 26 25 98 36 117 31 75 18 36 12 20 12 29z"/><path fill="#ffd700" d="M716 5l-654 0 7 54 14 62 8 21 32 68 8 26 17 69 12 36 12 45 13 41 32 78 15 30 11 17 11 25 17 22 16 9 40 10 5-1 12-6 13-10 12-7 61-51 26-28 39-50 22-33 35-61 38-58 26-48 22-52 31-90z"/><path fill="#ffca00" d="M666 5l-601 0 6 49 14 63 13 32 22 43 7 17 9 30 12 49 17 51 13 49 10 31 24 60 16 35 16 25 11 21 14 15 13 7 9 3 23 4 5 2 12 0 17-10 15-13 14-16 14-23 22-42 19-29 15-18 22-22 18-22 20-32 20-37 32-51 26-50 20-49z"/><path fill="#ffbe00" d="M620 5l-552 0 0 8 6 41 12 55 11 29 26 50 9 22 18 66 19 55 14 51 11 33 23 57 14 30 20 31 8 8 10 7 16 6 16 4 18 3 10 0 12-8 11-14 16-30 17-48 12-25 11-15 38-37 14-17 14-22 29-58 19-33 23-49 24-68z"/><path fill="#ffb300" d="M70 5l8 55 12 50 10 25 14 28 6 9 14 30 14 48 24 68 23 73 27 69 12 25 11 16 8 9 15 7 18 3 21 0 14-2 7-3 8-9 10-19 16-44 16-33 12-17 35-36 8-10 9-14 15-30 42-96 30-94 41-108z"/><path fill="#ffa600" d="M522 5l-448 0 1 17 8 48 5 20 9 27 12 27 17 28 12 26 27 81 35 90 22 61 16 33 9 12 5 4 11 3 14 0 9-2 18-8 18-15 7-10 10-20 11-27 12-22 15-20 21-23 16-24 18-38 37-92 14-45 1-7 22-76z"/><path fill="#ff9b00" d="M483 5l-407 0 9 59 17 53 10 22 13 20 15 29 37 100 26 53 28 73 10 18 9 10 5 2 15-2 13-7 14-14 10-15 34-65 14-20 21-26 13-21 39-83 15-37 18-59z"/><path fill="#ff8e00" d="M451 5l-372 0 5 37 5 22 21 59 33 56 16 36 17 48 10 21 25 38 27 61 11 14 4 2 8-1 9-5 11-12 13-23 21-48 41-58 22-40 29-58 12-29 17-56z"/><path fill="#ff8200" d="M82 5l4 29 4 17 22 61 9 17 22 34 17 33 13 36 11 25 11 16 10 8 11 13 19 33 10 14 7 5 5 0 5-2 11-11 8-13 33-69 19-31 46-93 21-55 12-41 6-26z"/><path fill="#ff7700" d="M86 5l0 7 4 20 25 67 8 17 34 53 14 30 10 27 7 13 7 8 23 11 30 26 5 2 9-2 8-8 9-14 17-36 15-40 19-42 18-46 22-64 8-29z"/><path fill="#ff6a00" d="M90 5l1 7 9 28 18 43 17 33 27 40 27 56 8 7 59 1 5-2 8-8 6-10 13-31 22-68 19-68 6-28z"/><path fill="#ff5e00" d="M99 5l11 34 14 30 24 42 18 27 16 31 10 14 3 2 8 0 22-7 17-10 16-14 8-13 14-38 13-48 10-50z"/><path fill="#ff5300" d="M115 5l2 11 5 15 12 25 21 32 17 31 14 22 9 8 8 0 18-9 12-12 5-7 16-32 12-34 12-50z"/><path fill="#ff4600" d="M134 5l3 12 7 16 20 32 9 17 13 19 5 5 7 3 6-1 7-4 11-12 11-21 9-25 11-41z"/><path fill="#ff3b00" d="M159 5l13 29 15 22 9 6 5 0 8-5 9-13 5-11 7-21 1-7z"/><path fill="#ff2e00" d="M193 5l3 2 4 0 3-2z"/></g>
<rect x="1414.7" y="740.0" width="510.1" height="547.7" fill="none" stroke="#262626" stroke-width="1.8"/>
<path d="M1669.8 1287.7v-6.5M1669.8 740.0v6.5M1414.7 922.6h6.5M1924.8 922.6h-6.5M1414.7 1105.1h6.5M1924.8 1105.1h-6.5" stroke="#262626" stroke-width="1.8" fill="none"/>
<text x="1414.7" y="1342.8" font-size="39.5" fill="#262626" text-anchor="middle">0</text>
<text x="1669.8" y="1342.8" font-size="39.5" fill="#262626" text-anchor="middle">10</text>
<text x="1924.8" y="1342.8" font-size="39.5" fill="#262626" text-anchor="middle">20</text>
<text x="1398.7" y="755.3" font-size="39.5" fill="#262626" text-anchor="end">0</text>
<text x="1398.7" y="937.9" font-size="39.5" fill="#262626" text-anchor="end">5</text>
<text x="1398.7" y="1120.4" font-size="39.5" fill="#262626" text-anchor="end">10</text>
<text x="1398.7" y="1303.0" font-size="39.5" fill="#262626" text-anchor="end">15</text>
<text x="1317.7" y="765.3" font-size="66.4" fill="#000">F</text>
<g transform="translate(118.00 1392.80) scale(0.5)" fill-rule="evenodd"><path fill="#000086" d="M0 5l0 32 25 0 8 8 10 7 13 13 5 2 6-21 22-15 71 0 26 11 76 17 54 34 45 18 19 14 7 7 16 23 29 48 25 97 18 84 37 160 30 69 23 70 18 70 11 60 30 59 41 64 23 51 18 50 22 49 12 9 259 0 0-1090z"/><path fill="#000092" d="M0 5l0 32 25 0 8 8 10 7 13 13 5 2 6-21 22-15 71 0 26 11 76 17 54 34 45 18 19 14 7 7 16 23 29 48 25 97 18 84 37 160 30 69 23 70 18 70 11 60 30 59 41 64 23 51 18 50 22 49 12 9 259 0 0-1090z"/><path fill="#00009e" d="M0 5l0 32 25 0 8 8 10 7 13 13 5 2 6-21 22-15 71 0 26 11 76 17 54 34 45 18 19 14 7 7 16 23 29 48 25 97 18 84 37 160 30 69 23 70 18 70 11 60 30 59 41 64 23 51 18 50 22 49 12 9 259 0 0-1090z"/><path fill="#0000aa" d="M0 5l0 32 25 0 8 8 10 7 13 13 5 2 6-21 22-15 71 0 26 11 76 17 54 34 45 18 19 14 7 7 16 23 29 48 25 97 18 84 37 160 30 69 23 70 18 70 11 60 30 59 41 64 23 51 18 50 22 49 12 9 259 0 0-1090z"/><path fill="#0000b6" d="M0 5l0 32 25 0 8 8 10 7 13 13 5 2 6-21 22-15 71 0 26 11 76 17 54 34 45 18 19 14 7 7 16 23 29 48 25 97 18 84 37 160 30 69 23 70 18 70 11 60 30 59 41 64 23 51 18 50 22 49 12 9 259 0 0-1090z"/><path fill="#0000c2" d="M0 5l0 32 25 0 8 8 10 7 13 13 5 2 6-21 22-15 71 0 26 11 76 17 54 34 45 18 19 14 7 7 16 23 29 48 25 97 18 84 37 160 30 69 23 70 18 70 11 60 30 59 41 64 23 51 18 50 22 49 12 9 259 0 0-1090z"/><path fill="#0000ce" d="M0 5l0 32 25 0 8 8 10 7 13 13 5 2 6-21 22-15 71 0 26 11 76 17 54 34 45 18 19 14 7 7 16 23 29 48 25 97 18 84 37 160 30 69 23 70 18 70 11 60 30 59 41 64 23 51 18 50 22 49 12 9 259 0 0-1090z"/><path fill="#0000da" d="M0 5l0 32 25 0 8 8 10 7 13 13 5 2 6-21 22-15 71 0 26 11 76 17 54 34 45 18 19 14 7 7 16 23 29 48 25 97 18 84 37 160 30 69 23 70 18 70 11 60 30 59 41 64 23 51 18 50 22 49 12 9 259 0 0-1090z"/><path fill="#0000e6" d="M0 5l0 32 25 0 8 8 10 7 13 13 5 2 6-21 22-15 71 0 26 11 76 17 54 34 45 18 19 14 7 7 16 23 29 48 25 97 18 84 37 160 30 69 23 70 18 70 11 60 30 59 41 64 23 51 18 50 22 49 12 9 259 0 0-1090z"/><path fill="#0000f2" d="M0 5l0 32 25 0 8 8 10 7 13 13 5 2 6-21 22-15 71 0 26 11 76 17 54 34 45 18 19 14 7 7 16 23 29 48 25 97 18 84 37 160 30 69 23 70 18 70 11 60 30 59 41 64 23 51 18 50 22 49 12 9 259 0 0-1090z"/><path fill="#0000fe" d="M0 5l0 32 25 0 8 8 10 7 13 13 5 2 6-21 22-15 71 0 26 11 76 17 54 34 45 18 19 14 7 7 16 23 29 48 25 97 18 84 37 160 30 69 23 70 18 70 11 60 30 59 41 64 23 51 18 50 22 49 12 9 259 0 0-1090z"/><path fill="#000aff" d="M0 5l0 32 25 0 8 8 10 7 13 13 5 2 6-21 22-15 71 0 26 11 76 17 54 34 45 18 19 14 7 7 16 23 29 48 25 97 18 84 37 160 30 69 23 70 18 70 11 60 30 59 41 64 23 51 18 50 22 49 12 9 259 0 0-1090z"/><path fill="#0017ff" d="M0 5l0 32 25 0 8 8 10 7 13 13 5 2 6-21 22-15 71 0 26 11 76 17 54 34 45 18 19 14 7 7 16 23 29 48 25 97 18 84 37 160 30 69 23 70 18 70 11 60 30 59 41 64 23 51 18 50 22 49 12 9 259 0 0-1090z"/><path fill="#0022ff" d="M0 5l0 32 25 0 8 8 10 7 13 13 5 2 6-21 22-15 71 0 26 11 76 17 54 34 45 18 19 14 7 7 16 23 29 48 25 97 18 84 37 160 30 69 23 70 18 70 11 60 30 59 41 64 23 51 18 50 22 49 12 9 259 0 0-1090z"/><path fill="#002fff" d="M0 5l0 32 25 0 8 8 10 7 13 13 5 2 6-21 22-15 71 0 26 11 76 17 54 34 45 18 19 14 7 7 16 23 29 48 25 97 18 84 37 160 30 69 23 70 18 70 11 60 30 59 41 64 23 51 18 50 22 49 12 9 259 0 0-1090z"/><path fill="#003bff" d="M0 5l0 32 25 0 8 8 10 7 13 13 5 2 6-21 22-15 71 0 26 11 76 17 54 34 45 18 19 14 7 7 16 23 29 48 25 97 18 84 37 160 30 69 23 70 18 70 11 60 30 59 41 64 23 51 18 50 22 49 12 9 259 0 0-1090z"/><path fill="#0046ff" d="M0 5l0 32 25 0 8 8 10 7 13 13 5 2 6-21 22-15 71 0 26 11 76 17 54 34 45 18 19 14 7 7 16 23 29 48 25 97 18 84 37 160 30 69 23 70 18 70 11 60 30 59 41 64 23 51 18 50 22 49 12 9 259 0 0-1090z"/><path fill="#0052ff" d="M0 5l0 32 25 0 8 8 10 7 13 13 5 2 6-21 22-15 71 0 26 11 76 17 54 34 45 18 19 14 7 7 16 23 29 48 25 97 18 84 37 160 30 69 23 70 18 70 11 60 30 59 41 64 23 51 18 50 22 49 12 9 259 0 0-1090z"/><path fill="#005eff" d="M0 5l0 32 25 0 8 8 10 7 13 13 5 2 6-21 22-15 71 0 26 11 76 17 54 34 45 18 19 14 7 7 16 23 29 48 25 97 18 84 37 160 30 69 23 70 18 70 11 60 30 59 41 64 23 51 18 50 22 49 12 9 259 0 0-1090z"/><path fill="#006aff" d="M0 5l0 32 25 0 8 8 10 7 13 13 5 2 6-21 22-15 71 0 26 11 76 17 54 34 45 18 19 14 7 7 16 23 29 48 25 97 18 84 37 160 30 69 23 70 18 70 11 60 30 59 41 64 23 51 18 50 22 49 12 9 259 0 0-1090z"/><path fill="#0077ff" d="M0 5l0 32 25 0 8 8 10 7 13 13 5 2 6-21 22-15 71 0 26 11 76 17 54 34 45 18 19 14 7 7 16 23 29 48 25 97 18 84 37 160 30 69 23 70 18 70 11 60 30 59 41 64 23 51 18 50 22 49 12 9 259 0 0-1090z"/><path fill="#0082ff" d="M0 5l0 32 25 0 8 8 10 7 13 13 5 2 6-21 22-15 71 0 26 11 76 17 54 34 45 18 19 14 7 7 16 23 29 48 25 97 18 84 37 160 30 69 23 70 18 70 11 60 30 59 41 64 23 51 18 50 22 49 12 9 259 0 0-1090z"/><path fill="#008eff" d="M0 5l0 32 25 0 8 8 10 7 13 13 5 2 6-21 22-15 71 0 26 11 76 17 54 34 45 18 19 14 7 7 16 23 29 48 25 97 18 84 37 160 30 69 23 70 18 70 11 60 30 59 41 64 23 51 18 50 22 49 12 9 259 0 0-1090z"/><path fill="#009bff" d="M0 5l0 32 25 0 8 8 10 7 13 13 5 2 6-21 22-15 71 0 26 11 76 17 54 34 45 18 19 14 7 7 16 23 29 48 25 97 18 84 37 160 30 69 23 70 18 70 11 60 30 59 41 64 23 51 18 50 22 49 12 9 259 0 0-1090z"/><path fill="#00a6ff" d="M0 5l0 32 25 0 8 8 10 7 13 13 5 2 6-21 22-15 71 0 26 11 76 17 54 34 45 18 19 14 7 7 16 23 29 48 25 97 18 84 37 160 30 69 23 70 18 70 11 60 30 59 41 64 23 51 18 50 22 49 12 9 259 0 0-1090z"/><path fill="#00b2ff" d="M0 5l0 32 25 0 8 8 10 7 13 13 5 2 6-21 22-15 71 0 26 11 76 17 54 34 45 18 19 14 7 7 16 23 29 48 25 97 18 84 37 160 30 69 23 70 18 70 11 60 30 59 41 64 23 51 18 50 22 49 12 9 259 0 0-1090z"/><path fill="#00beff" d="M0 5l0 32 25 0 8 8 10 7 13 13 5 2 6-21 22-15 71 0 26 11 76 17 54 34 45 18 19 14 7 7 16 23 29 48 25 97 18 84 37 160 30 69 23 70 18 70 11 60 30 59 41 64 23 51 18 50 22 49 12 9 259 0 0-1090z"/><path fill="#00cbff" d="M0 5l0 32 25 0 8 8 10 7 13 13 5 2 6-21 22-15 71 0 26 11 76 17 54 34 45 18 19 14 7 7 16 23 29 48 25 97 18 84 37 160 30 69 23 70 18 70 11 60 30 59 41 64 23 51 18 50 22 49 12 9 259 0 0-1090z"/><path fill="#00d6ff" d="M0 5l0 32 25 0 8 8 10 7 13 13 5 2 6-21 22-15 71 0 26 11 76 17 54 34 45 18 19 14 7 7 16 23 29 48 25 97 18 84 37 160 30 69 23 70 18 70 11 60 30 59 41 64 23 51 18 50 22 49 12 9 259 0 0-1090z"/><path fill="#00e2ff" d="M0 5l0 32 25 0 8 8 10 7 13 13 5 2 6-21 22-15 71 0 26 11 76 17 54 34 45 18 19 14 7 7 16 23 29 48 25 97 18 84 37 160 30 69 23 70 18 70 11 60 30 59 41 64 23 51 18 50 22 49 12 9 259 0 0-1090z"/><path fill="#00eeff" d="M0 5l0 32 25 0 8 8 10 7 13 13 5 2 6-21 22-15 71 0 26 11 76 17 54 34 45 18 19 14 7 7 16 23 29 48 25 97 18 84 37 160 30 69 23 70 18 70 11 60 30 59 41 64 23 51 18 50 22 49 12 9 259 0 0-1090z"/><path fill="#00fbff" d="M0 5l0 32 25 0 8 8 10 7 13 13 5 2 6-21 22-15 71 0 26 11 76 17 54 34 45 18 19 14 7 7 16 23 29 48 25 97 18 84 37 160 30 69 23 70 18 70 11 60 30 59 41 64 23 51 18 50 22 49 12 9 259 0 0-1090z"/><path fill="#07fff8" d="M0 5l0 32 25 0 8 8 10 7 13 13 5 2 6-21 22-15 71 0 26 11 76 17 54 34 45 18 19 14 7 7 16 23 29 48 25 97 18 84 37 160 30 69 23 70 18 70 11 60 30 59 41 64 23 51 18 50 22 49 12 9 259 0 0-1090z"/><path fill="#13ffec" d="M0 5l0 32 25 0 8 8 10 7 13 13 5 2 6-21 22-15 71 0 26 11 76 17 54 34 45 18 19 14 7 7 16 23 29 48 25 97 18 84 37 160 30 69 23 70 18 70 11 60 30 59 41 64 23 51 18 50 22 49 12 9 259 0 0-1090z"/><path fill="#20ffe0" d="M0 5l0 32 25 0 8 8 10 7 13 13 5 2 6-21 22-15 71 0 26 11 76 17 54 34 45 18 19 14 7 7 16 23 29 48 25 97 18 84 37 160 30 69 23 70 18 70 11 60 30 59 41 64 23 51 18 50 22 49 12 9 259 0 0-1090z"/><path fill="#2cffd3" d="M0 5l0 32 25 0 8 8 10 7 13 13 5 2 6-21 22-15 71 0 26 11 76 17 54 34 45 18 19 14 7 7 16 23 29 48 25 97 18 84 37 160 30 69 23 70 18 70 11 60 30 59 41 64 23 51 18 50 22 49 12 9 259 0 0-1090z"/><path fill="#37ffc8" d="M0 5l0 32 25 0 31 27 6 2 5-20 22-15 71 0 27 11 75 17 54 34 44 17 25 19 17 24 27 43 3 7 28 109 19 89 33 142 30 69 22 67 19 74 11 59 27 54 42 66 24 52 18 50 23 51 13 10 235 0 3-15 9-29 11-24 0-1022z"/><path fill="#43ffbc" d="M0 5l0 31 2 1 23 0 10 9 22 16 4 1 1-1 4-15 2-3 22-14 68 0 30 12 74 17 53 33 45 17 26 20 17 24 29 48 29 112 20 94 31 134 30 69 22 67 19 73 11 58 31 62 42 67 20 44 18 50 23 51 9 6 6 7 167 0 8-28 29-86 5-8 13-13 17-11 17-7 0-937z"/><path fill="#50ffb0" d="M0 5l0 30 7 2 18 0 13 11 18 12 6 0 4-13 3-4 21-13 70 0 26 11 77 18 53 33 47 18 18 13 6 6 17 24 28 46 29 110 27 126 24 103 28 64 6 17 0 3 20 59 4 19 11 38 12 61 21 46 11 21 35 55 10 19 17 37 19 52 22 48 9 6 5 5 4 7 110 0 13-32 20-43 16-42 14-22 15-16 19-14 21-11 25-10 0-900z"/><path fill="#5cffa3" d="M0 5l0 29 1 1 24 2 24 18 10 4 3 0 4-12 4-5 19-12 9-1 60 0 29 12 74 17 58 35 41 14 23 16 17 22 30 47 3 8 30 111 25 120 24 104 29 66 25 77 3 15 14 48 11 53 29 63 44 72 21 45 16 44 23 50 16 13 10 14 59 0 6-7 14-22 15-30 27-67 20-28 16-17 25-20 13-8 51-24 0-867z"/><path fill="#67ff98" d="M0 5l0 27 1 2 5 2 19 0 10 9 20 12 7 0 3-5 2-8 23-15 35 0 1-1 34 1 29 12 73 17 52 32 17 7 29 9 25 17 23 32 22 34 3 8 32 112 27 135 20 87 30 68 15 50 8 22 6 25 12 38 10 43 22 55 22 41 27 44 25 50 19 49 20 39 12 6 10 9 10 4 8 0 7-2 18-10 17-17 12-18 12-24 12-32 8-17 14-23 9-11 25-24 18-14 18-12 45-26 16-11 0-828z"/><path fill="#73ff8c" d="M0 5l0 25 2 4 7 2 16 0 9 8 21 12 7 0 5-12 3-3 20-12 69-1 28 12 72 17 7 3 51 31 31 11 10 2 26 16 12 15 35 52 8 29 23 66 9 34 19 109 22 100 29 65 25 79 3 14 14 42 7 26 32 82 28 53 15 24 10 20 13 20 26 56 14 22 18 7 11 1 8-2 12-6 10-7 14-13 9-13 30-61 14-23 13-17 28-27 46-36 58-61 0-765z"/><path fill="#80ff80" d="M0 5l0 23 2 5 4 2 19 1 14 11 16 8 7 0 2-2 4-11 23-14 66-1 32 13 68 17 4 0 57 34 23 8 18 4 24 14 14 16 34 50 12 37 19 44 9 29 8 35 15 103 10 52 8 33 28 62 37 121 5 11 11 33 9 18 32 79 18 37 18 31 20 26 35 55 4 4 7 3 14 1 10-3 11-7 27-27 10-14 39-65 18-23 29-30 31-37 24-33 36-54 14-18 0-681z"/><path fill="#8bff74" d="M0 5l0 21 3 7 5 2 17 1 13 10 16 8 8 0 7-13 21-13 33-1 1-1 28 0 7 1 10 5 25 9 68 16 55 33 24 8 19 4 24 13 16 18 31 44 9 25 17 32 7 17 12 38 7 29 8 51 9 73 12 60 29 66 19 64 5 13 4 17 9 26 5 10 11 30 11 21 16 39 8 16 19 49 13 25 13 20 20 20 19 23 12 12 10 5 11 0 13-5 11-8 31-35 31-50 34-51 22-29 21-31 18-31 30-59 19-31 23-33 0-590z"/><path fill="#98ff67" d="M0 5l0 19 2 7 2 2 7 2 14 0 12 10 16 8 8 1 3-3 3-8 3-3 19-12 20-2 18 0 1-1 30 1 34 14 70 17 57 33 21 7 19 3 24 11 17 17 31 41 11 24 13 20 12 27 14 45 9 38 7 47 8 69 6 34 6 22 25 59 38 122 13 32 10 18 15 34 10 19 20 55 8 18 18 29 49 40 12 5 9 0 16-8 14-15 28-41 39-72 50-79 21-42 33-79 18-37 19-33 17-24 0-491z"/><path fill="#a3ff5c" d="M0 5l1 22 4 6 9 2 11 0 11 9 16 8 10 1 6-12 22-14 37-2 1-1 30 1 29 13 76 19 55 32 22 7 21 3 22 8 19 17 30 36 8 16 18 25 11 25 15 48 11 42 8 49 9 73 12 52 22 56 39 123 9 22 39 77 23 64 12 23 13 13 9 4 29 18 12 5 11 1 11-5 10-10 11-17 57-123 40-67 15-30 18-45 25-71 16-38 11-22 21-35 22-31 0-397z"/><path fill="#b0ff4f" d="M0 5l1 20 2 5 3 3 19 2 17 12 13 5 7 0 7-12 20-13 38-4 23 0 8 1 11 6 20 8 44 12 28 6 56 32 24 7 20 2 24 7 12 8 34 35 9 15 19 24 11 23 32 107 9 49 11 77 12 50 14 37 45 137 40 79 28 75 8 16 10 10 51 18 11 1 8-4 10-12 9-18 23-75 22-55 18-36 19-33 18-38 14-36 26-75 23-56 31-64 37-66 0-292z"/><path fill="#bcff43" d="M0 5l1 18 3 8 8 3 14 1 13 10 15 6 8 0 6-11 22-14 46-5 22 2 15 8 18 7 47 13 24 5 55 31 25 7 18 1 16 4 5 0 14 5 17 13 20 19 11 16 19 23 13 28 15 53 19 56 5 19 9 50 8 56 15 61 52 151 10 24 27 52 29 75 9 16 6 5 14 3 35 4 11 0 4-2 7-8 5-10 7-20 21-88 12-37 13-31 29-62 28-68 64-167 27-78 23-53 10-27 10-37 0-135z"/><path fill="#c7ff38" d="M0 5l2 21 3 5 9 3 11 0 8 7 16 8 13 1 3-3 4-8 23-14 23-2 15-3 19 0 9 2 19 10 16 6 35 10 35 8 41 24 15 7 19 5 22 1 7 2 16 1 15 4 16 9 18 15 9 12 20 22 6 9 12 27 15 54 27 72 8 38 10 65 7 34 8 30 40 116 18 48 25 52 25 63 7 14 5 7 4 3 27-1 17-5 15-7 7-8 8-20 8-30 16-72 15-51 33-86 48-118 22-65 16-61 15-49 9-21 11-21 12-32 7-34 4-45 18-59z"/><path fill="#d4ff2b" d="M0 5l2 19 4 7 11 3 8 0 12 9 14 6 5 1 7-1 3-7 4-4 20-13 53-8 15 4 23 12 14 5 38 11 28 6 37 21 24 11 17 4 46 2 21 5 17 8 14 12 28 30 7 11 8 17 23 77 18 38 10 29 9 42 12 69 14 52 49 137 44 107 13 24 7 5 11-1 6-2 17-10 13-13 6-8 10-18 15-51 22-92 11-39 20-57 23-57 20-58 11-38 16-68 9-30 13-30 15-30 7-20 4-24 0-50 11-55z"/><path fill="#e0ff20" d="M0 5l3 21 4 5 6 2 12 1 9 7 16 7 12 1 7-11 22-14 27-4 17-5 11 0 11 4 28 15 42 13 35 8 37 21 23 10 21 4 54 1 28 8 9 5 22 19 15 17 11 20 10 28 13 47 23 46 6 15 11 38 13 66 16 60 79 218 13 27 10 12 3 1 8-1 8-4 15-14 11-17 10-20 14-36 16-60 0-4 22-91 14-44 18-50 11-37 12-52 5-29 9-36 8-22 24-49 9-26 3-19 2-50 9-52z"/><path fill="#ebff14" d="M0 5l3 20 5 6 7 2 10 0 8 7 20 8 9 0 8-11 20-13 30-6 18-7 6 0 43 23 45 14 31 7 26 15 30 14 19 4 59-1 34 7 17 9 12 9 13 13 6 8 8 15 25 76 30 61 11 34 17 71 11 38 13 38 28 73 21 68 15 41 11 20 8 7 8 0 6-3 10-10 8-12 9-18 25-67 12-45 22-98 26-94 11-66 9-44 6-18 20-41 12-31 4-26 0-22 1-1 1-22 5-21 5-31z"/><path fill="#f8ff07" d="M1 5l1 14 2 7 3 4 11 3 7 0 9 7 17 7 5 1 7-1 5-9 22-15 24-5 23-11 5-1 24 16 21 11 50 16 25 5 34 19 23 10 15 3 24 0 20-2 26 0 1 1 21 1 27 8 13 7 9 7 8 9 10 17 22 62 38 81 16 49 17 59 21 61 18 46 12 37 11 40 12 34 9 17 4 5 5 3 9-2 9-9 11-19 12-30 21-62 12-46 30-135 8-52 0-7 9-52 7-23 18-43 8-29 0-57 7-28 5-29z"/><path fill="#fffb00" d="M149 5l15 14 25 14 42 14 29 6 56 28 22 4 32-2 19-3 57 1 15 3 17 6 14 11 11 19 17 49 21 40 24 55 59 168 24 79 14 40 6 12 8 9 6 1 4-2 7-7 5-8 14-32 25-79 17-68 16-81 11-86 6-27 12-36 5-21 1-70 5-20 4-31zM3 22l4 7 8 3 10 1 8 6 17 7 12 1 8-11 19-13 26-7 10-5 8-6-132 0z"/><path fill="#ffee00" d="M153 5l15 15 21 12 37 13 35 8 47 24 19 5 8 1 21-1 37-6 19 0 34-6 25-1 27-5 14-1 4 4 2 6 3 38 3 15 5 15 29 54 40 101 26 75 18 65 13 40 6 15 9 17 6 6 3 1 10-5 7-10 7-14 13-36 22-81 14-59 9-49 11-82 11-54 1-30 1-1 0-34 4-24 3-31zM4 24l4 5 9 3 8 0 7 6 16 7 14 1 6-9 20-14 25-8 9-5 5-5-126 0z"/><path fill="#ffe200" d="M523 5l7 30 8 16 4 13 2 27 3 19 7 19 22 46 37 98 16 50 14 59 12 40 13 29 7 8 7 1 8-6 7-11 12-31 38-152 8-47 5-45 10-62 8-101zM157 5l11 13 19 12 47 17 28 6 49 24 21 4 22-1 20-3 20-5 16-1 9-2 18-7 12-7 17-7 8-6 7-8 6-10 7-19zM1 5l2 14 2 6 4 4 10 3 6 0 6 5 10 5 16 4 7-2 2-5 4-4 20-14 19-6 15-10z"/><path fill="#ffd700" d="M547 5l0 8 4 24 11 31 5 19 9 20 19 33 11 30 11 44 9 27 12 49 10 49 10 36 4 11 9 17 6 5 6 0 4-3 5-7 12-30 34-142 7-42 6-51 11-57 4-40 0-13 1-1 0-17zM160 5l2 4 10 10 22 13 35 13 32 7 38 19 16 6 13 2 17 0 24-4 27-8 11-1 15-6 14-9 17-17 8-11 7-15 0-3zM2 11l2 10 3 6 9 4 9 1 15 9 14 4 7 0 4-3 4-7 21-15 17-6 9-5 4-4-118 0z"/><path fill="#ffca00" d="M568 5l5 33 11 29 9 17 22 25 9 21 5 21 10 68 22 101 9 24 7 8 3 1 4-2 4-5 10-24 20-84 6-30 13-84 15-54 4-35 1-30zM162 5l6 8 8 7 23 13 35 13 28 6 17 9 28 12 19 4 17 0 22-4 50-17 9-6 10-10 9-16 7-19zM4 20l4 7 11 4 6 0 9 7 18 6 10 0 9-11 19-14 21-9 6-5-115 0z"/><path fill="#ffbe00" d="M593 5l2 32 5 15 11 21 17 17 5 7 5 11 7 34 9 63 10 42 10 26 4 4 3 0 5-5 6-13 12-41 8-39 2-18 9-50 4-14 11-24 3-12 5-42 0-14zM165 5l10 12 11 8 13 7 33 13 29 6 39 18 12 4 12 2 17 0 16-3 16-5 13-7 26-10 8-6 7-9 7-14 5-16zM5 21l2 4 4 3 5 2 9 1 8 6 13 5 16 1 8-10 20-15 16-7 8-6-112 0z"/><path fill="#ffb300" d="M619 5l1 36 15 29 6 8 9 17 6 20 10 49 7 19 4 5 3 1 4-2 3-4 10-27 12-55 12-34 4-16 4-25 1-21zM168 5l2 4 17 15 30 15 20 7 26 5 13 7 31 12 19 3 12 0 24-6 33-17 11-4 7-5 7-9 6-12 4-12 0-3zM2 5l2 12 5 9 9 4 6 0 12 8 18 5 9-1 4-7 23-18 16-8 5-4z"/><path fill="#ffa600" d="M646 5l0 32 2 7 27 54 3 3 3 0 8-11 17-43 3-15 1-27zM170 5l17 17 11 7 21 10 20 7 23 4 21 10 33 10 24 0 14-4 47-25 10-9 4-6 8-21zM3 10l2 9 5 7 7 3 8 1 8 6 7 3 12 3 10 0 4-6 11-10 13-10 19-11-106 0z"/><path fill="#ff9b00" d="M173 5l14 15 10 7 17 9 20 8 22 5 5 0 17 8 34 10 25 0 15-5 17-9 30-20 10-12 6-14 0-2zM3 9l4 13 6 5 13 3 8 6 16 5 12 0 4-6 25-21 15-9-103 0z"/><path fill="#ff8e00" d="M176 5l7 9 8 7 29 17 16 6 27 5 7 4 14 5 26 6 26-1 19-8 28-19 18-18 6-11 0-2zM6 19l5 6 6 3 8 1 8 6 5 2 21 4 3-1 4-4 1-3 25-21 11-7-100 0z"/><path fill="#ff8200" d="M179 5l3 5 9 9 18 12 15 8 18 6 20 3 16 7 33 6 8 0 17-3 17-8 22-17 16-17 6-11zM3 5l3 13 5 6 5 3 10 2 11 7 16 4 10-1 6-9 31-25z"/><path fill="#ff7700" d="M181 5l18 18 29 17 17 5 17 2 21 8 16 2 18 0 25-7 14-10 17-17 13-18zM4 9l3 10 5 5 6 3 7 1 5 4 12 5 9 2 10 0 4-3 4-7 29-24-94 0z"/><path fill="#ff6a00" d="M184 5l5 7 10 9 19 13 12 6 19 5 12 1 12 5 15 3 26-1 15-4 11-5 12-10 14-17 7-12zM4 8l3 10 8 7 9 2 9 6 17 5 12 0 6-9 28-24-92 0z"/><path fill="#ff5e00" d="M186 5l12 13 27 19 17 6 18 2 14 5 13 2 28-4 20-9 11-10 10-14 5-10zM8 18l7 6 10 3 15 8 18 3 4-1 3-3 2-5 27-24-90 0z"/><path fill="#ff5300" d="M189 5l13 14 23 17 16 6 19 2 16 5 22-1 22-8 9-6 12-12 9-17zM5 9l3 8 5 5 8 4 4 0 7 5 11 4 16 2 3-1 3-3 2-5 25-23-87 0z"/><path fill="#ff4600" d="M191 5l10 11 18 15 8 5 13 5 20 2 14 4 19-1 22-10 18-17 7-12 0-2zM5 8l3 8 8 7 8 2 15 8 20 3 3-1 5-8 23-22-85 0z"/><path fill="#ff3b00" d="M194 5l12 13 21 17 13 5 21 2 11 3 14 0 16-7 18-15 7-9 4-9zM7 13l9 9 23 10 20 3 4-2 4-7 21-21-83 0z"/><path fill="#ff2e00" d="M196 5l22 22 8 6 10 5 8 2 19 1 6 2 14 0 12-5 20-19 8-14zM5 5l3 8 8 8 6 3 3 0 11 6 18 4 7-1 4-4 1-3 21-21z"/><path fill="#ff2200" d="M199 5l21 22 8 6 12 5 27 3 13 0 13-6 14-15 9-15zM8 12l8 8 6 3 3 0 6 4 13 4 16 1 25-27-79 0z"/><path fill="#ff1700" d="M202 5l20 22 10 7 13 4 18 0 1 1 17-1 9-5 9-10 10-18zM9 12l7 7 25 10 18 2 6-5 10-13 9-8-78 0z"/><path fill="#ff0a00" d="M204 5l12 14 12 11 9 5 10 2 24 0 13-4 11-11 9-17zM7 7l8 10 16 8 17 4 12 0 22-24-75 0z"/><path fill="#fe0000" d="M207 5l17 20 8 6 10 4 25 0 14-4 12-12 6-14zM7 6l11 12 21 8 19 2 3-1 4-4 2-4 13-14-73 0z"/><path fill="#f20000" d="M210 5l6 9 14 14 7 4 9 2 18-1 17-6 8-8 6-12 0-2zM7 5l13 13 12 5 16 3 13-1 17-20z"/><path fill="#e50000" d="M212 5l7 10 11 11 13 6 18-1 17-6 9-9 5-11zM8 5l7 8 7 5 3 0 8 4 25 3 4-2 14-18z"/><path fill="#da0000" d="M214 5l8 11 8 8 12 6 11 0 13-3 13-7 6-7 3-6 0-2zM9 5l10 10 16 6 15 2 11-1 13-17z"/><path fill="#cd0000" d="M217 5l10 14 9 7 6 2 14-1 15-6 9-7 5-9zM11 5l9 9 6 3 20 4 15-1 12-15z"/><path fill="#c20000" d="M219 5l6 9 7 7 11 5 11-1 14-6 13-13 0-1zM12 5l6 6 9 5 17 3 17-1 10-13z"/><path fill="#b60000" d="M221 5l4 6 9 9 6 3 11 0 9-3 8-5 9-10zM14 5l6 6 9 4 25 3 6-1 9-12z"/><path fill="#a90000" d="M224 5l3 5 8 8 7 3 10-1 9-4 11-11zM16 5l4 4 8 4 26 3 6-1 8-10z"/><path fill="#9e0000" d="M227 5l2 4 6 6 6 3 6 0 7-2 7-4 6-6 0-1zM18 5l3 3 11 4 23 1 1 1 5-2 5-7z"/><path fill="#920000" d="M229 5l5 6 7 4 12-2 10-8zM20 5l8 4 16 2 15 0 5-5 0-1z"/><path fill="#850000" d="M233 6l7 5 8 0 10-6-25 0zM24 5l6 2 21 1 1 1 5 0 5-4z"/></g>
<rect x="118.0" y="1392.8" width="510.1" height="547.9" fill="none" stroke="#262626" stroke-width="1.8"/>
<path d="M259.7 1940.7v-6.5M259.7 1392.8v6.5M401.4 1940.7v-6.5M401.4 1392.8v6.5M543.1 1940.7v-6.5M543.1 1392.8v6.5M118.0 1502.4h6.5M628.1 1502.4h-6.5M118.0 1612.0h6.5M628.1 1612.0h-6.5M118.0 1721.5h6.5M628.1 1721.5h-6.5M118.0 1831.1h6.5M628.1 1831.1h-6.5" stroke="#262626" stroke-width="1.8" fill="none"/>
<text x="118.0" y="1995.8" font-size="39.5" fill="#262626" text-anchor="middle">0</text>
<text x="259.7" y="1995.8" font-size="39.5" fill="#262626" text-anchor="middle">5</text>
<text x="401.4" y="1995.8" font-size="39.5" fill="#262626" text-anchor="middle">10</text>
<text x="543.1" y="1995.8" font-size="39.5" fill="#262626" text-anchor="middle">15</text>
<text x="102.0" y="1408.1" font-size="39.5" fill="#262626" text-anchor="end">0</text>
<text x="102.0" y="1517.7" font-size="39.5" fill="#262626" text-anchor="end">2</text>
<text x="102.0" y="1627.3" font-size="39.5" fill="#262626" text-anchor="end">4</text>
<text x="102.0" y="1736.8" font-size="39.5" fill="#262626" text-anchor="end">6</text>
<text x="102.0" y="1846.4" font-size="39.5" fill="#262626" text-anchor="end">8</text>
<text x="102.0" y="1956.0" font-size="39.5" fill="#262626" text-anchor="end">10</text>
<text x="10.0" y="1417.7" font-size="66.4" fill="#000">G</text>
<g transform="translate(766.40 1392.80) scale(0.5)" fill-rule="evenodd"><path fill="#000086" d="M15 5l0 46 122 1 24-6 66-13 64 0 39 13 43 8 33 15 79 41 9 30 16 43 26 35 15 45 18 97 12 50 8 70 14 57 17 43 19 57 17 59 21 50 20 42 11 64 6 2 24 3 6 3 11 47 22 58 14 46 11 54 11 30 206 0 0-1090z"/><path fill="#000092" d="M15 5l0 46 122 1 24-6 66-13 64 0 39 13 43 8 33 15 79 41 9 30 16 43 26 35 15 45 18 97 12 50 8 70 14 57 17 43 19 57 17 59 21 50 20 42 11 64 6 2 24 3 6 3 11 47 22 58 14 46 11 54 11 30 206 0 0-1090z"/><path fill="#00009e" d="M15 5l0 46 122 1 24-6 66-13 64 0 39 13 43 8 33 15 79 41 9 30 16 43 26 35 15 45 18 97 12 50 8 70 14 57 17 43 19 57 17 59 21 50 20 42 11 64 6 2 24 3 6 3 11 47 22 58 14 46 11 54 11 30 206 0 0-1090z"/><path fill="#0000aa" d="M15 5l0 46 122 1 24-6 66-13 64 0 39 13 43 8 33 15 79 41 9 30 16 43 26 35 15 45 18 97 12 50 8 70 14 57 17 43 19 57 17 59 21 50 20 42 11 64 6 2 24 3 6 3 11 47 22 58 14 46 11 54 11 30 206 0 0-1090z"/><path fill="#0000b6" d="M15 5l0 46 122 1 24-6 66-13 64 0 39 13 43 8 33 15 79 41 9 30 16 43 26 35 15 45 18 97 12 50 8 70 14 57 17 43 19 57 17 59 21 50 20 42 11 64 6 2 24 3 6 3 11 47 22 58 14 46 11 54 11 30 206 0 0-1090z"/><path fill="#0000c2" d="M15 5l0 46 122 1 24-6 66-13 64 0 39 13 43 8 33 15 79 41 9 30 16 43 26 35 15 45 18 97 12 50 8 70 14 57 17 43 19 57 17 59 21 50 20 42 11 64 6 2 24 3 6 3 11 47 22 58 14 46 11 54 11 30 206 0 0-1090z"/><path fill="#0000ce" d="M15 5l0 46 122 1 24-6 66-13 64 0 39 13 43 8 33 15 79 41 9 30 16 43 26 35 15 45 18 97 12 50 8 70 14 57 17 43 19 57 17 59 21 50 20 42 11 64 6 2 24 3 6 3 11 47 22 58 14 46 11 54 11 30 206 0 0-1090z"/><path fill="#0000da" d="M15 5l0 46 122 1 24-6 66-13 64 0 39 13 43 8 33 15 79 41 9 30 16 43 26 35 15 45 18 97 12 50 8 70 14 57 17 43 19 57 17 59 21 50 20 42 11 64 6 2 24 3 6 3 11 47 22 58 14 46 11 54 11 30 206 0 0-1090z"/><path fill="#0000e6" d="M15 5l0 46 122 1 24-6 66-13 64 0 39 13 43 8 33 15 79 41 9 30 16 43 26 35 15 45 18 97 12 50 8 70 14 57 17 43 19 57 17 59 21 50 20 42 11 64 6 2 24 3 6 3 11 47 22 58 14 46 11 54 11 30 206 0 0-1090z"/><path fill="#0000f2" d="M15 5l0 46 122 1 24-6 66-13 64 0 39 13 43 8 33 15 79 41 9 30 16 43 26 35 15 45 18 97 12 50 8 70 14 57 17 43 19 57 17 59 21 50 20 42 11 64 6 2 24 3 6 3 11 47 22 58 14 46 11 54 11 30 206 0 0-1090z"/><path fill="#0000fe" d="M15 5l0 46 122 1 24-6 66-13 64 0 39 13 43 8 33 15 79 41 9 30 16 43 26 35 15 45 18 97 12 50 8 70 14 57 17 43 19 57 17 59 21 50 20 42 11 64 6 2 24 3 6 3 11 47 22 58 14 46 11 54 11 30 206 0 0-1090z"/><path fill="#000aff" d="M15 5l0 46 122 1 24-6 66-13 64 0 39 13 43 8 33 15 79 41 9 30 16 43 26 35 15 45 18 97 12 50 8 70 14 57 17 43 19 57 17 59 21 50 20 42 11 64 6 2 24 3 6 3 11 47 22 58 14 46 11 54 11 30 206 0 0-1090z"/><path fill="#0017ff" d="M15 5l0 46 122 1 24-6 66-13 64 0 39 13 43 8 33 15 79 41 9 30 16 43 26 35 15 45 18 97 12 50 8 70 14 57 17 43 19 57 17 59 21 50 20 42 11 64 6 2 24 3 6 3 11 47 22 58 14 46 11 54 11 30 206 0 0-1090z"/><path fill="#0022ff" d="M15 5l0 46 122 1 24-6 66-13 64 0 39 13 43 8 33 15 79 41 9 30 16 43 26 35 15 45 18 97 12 50 8 70 14 57 17 43 19 57 17 59 21 50 20 42 11 64 6 2 24 3 6 3 11 47 22 58 14 46 11 54 11 30 206 0 0-1090z"/><path fill="#002fff" d="M15 5l0 46 122 1 24-6 66-13 64 0 39 13 43 8 33 15 79 41 9 30 16 43 26 35 15 45 18 97 12 50 8 70 14 57 17 43 19 57 17 59 21 50 20 42 11 64 6 2 24 3 6 3 11 47 22 58 14 46 11 54 11 30 206 0 0-1090z"/><path fill="#003bff" d="M15 5l0 46 122 1 24-6 66-13 64 0 39 13 43 8 33 15 79 41 9 30 16 43 26 35 15 45 18 97 12 50 8 70 14 57 17 43 19 57 17 59 21 50 20 42 11 64 6 2 24 3 6 3 11 47 22 58 14 46 11 54 11 30 206 0 0-1090z"/><path fill="#0046ff" d="M15 5l0 46 122 1 24-6 66-13 64 0 39 13 43 8 33 15 79 41 9 30 16 43 26 35 15 45 18 97 12 50 8 70 14 57 17 43 19 57 17 59 21 50 20 42 11 64 6 2 24 3 6 3 11 47 22 58 14 46 11 54 11 30 206 0 0-1090z"/><path fill="#0052ff" d="M15 5l0 46 122 1 24-6 66-13 64 0 39 13 43 8 33 15 79 41 9 30 16 43 26 35 15 45 18 97 12 50 8 70 14 57 17 43 19 57 17 59 21 50 20 42 11 64 6 2 24 3 6 3 11 47 22 58 14 46 11 54 11 30 206 0 0-1090z"/><path fill="#005eff" d="M15 5l0 46 122 1 24-6 66-13 64 0 39 13 43 8 33 15 79 41 9 30 16 43 26 35 15 45 18 97 12 50 8 70 14 57 17 43 19 57 17 59 21 50 20 42 11 64 6 2 24 3 6 3 11 47 22 58 14 46 11 54 11 30 206 0 0-1090z"/><path fill="#006aff" d="M15 5l0 46 122 1 24-6 66-13 64 0 39 13 43 8 33 15 79 41 9 30 16 43 26 35 15 45 18 97 12 50 8 70 14 57 17 43 19 57 17 59 21 50 20 42 11 64 6 2 24 3 6 3 11 47 22 58 14 46 11 54 11 30 206 0 0-1090z"/><path fill="#0077ff" d="M15 5l0 46 122 1 24-6 66-13 64 0 39 13 43 8 33 15 79 41 9 30 16 43 26 35 15 45 18 97 12 50 8 70 14 57 17 43 19 57 17 59 21 50 20 42 11 64 6 2 24 3 6 3 11 47 22 58 14 46 11 54 11 30 206 0 0-1090z"/><path fill="#0082ff" d="M15 5l0 46 122 1 24-6 66-13 64 0 39 13 43 8 33 15 79 41 9 30 16 43 26 35 15 45 18 97 12 50 8 70 14 57 17 43 19 57 17 59 21 50 20 42 11 64 6 2 24 3 6 3 11 47 22 58 14 46 11 54 11 30 206 0 0-1090z"/><path fill="#008eff" d="M15 5l0 46 122 1 24-6 66-13 64 0 39 13 43 8 33 15 79 41 9 30 16 43 26 35 15 45 18 97 12 50 8 70 14 57 17 43 19 57 17 59 21 50 20 42 11 64 6 2 24 3 6 3 11 47 22 58 14 46 11 54 11 30 206 0 0-1090z"/><path fill="#009bff" d="M15 5l0 46 122 1 24-6 66-13 64 0 39 13 43 8 33 15 79 41 9 30 16 43 26 35 15 45 18 97 12 50 8 70 14 57 17 43 19 57 17 59 21 50 20 42 11 64 6 2 24 3 6 3 11 47 22 58 14 46 11 54 11 30 206 0 0-1090z"/><path fill="#00a6ff" d="M15 5l0 46 122 1 24-6 66-13 64 0 39 13 43 8 33 15 79 41 9 30 16 43 26 35 15 45 18 97 12 50 8 70 14 57 17 43 19 57 17 59 21 50 20 42 11 64 6 2 24 3 6 3 11 47 22 58 14 46 11 54 11 30 206 0 0-1090z"/><path fill="#00b2ff" d="M15 5l0 46 122 1 24-6 66-13 64 0 39 13 43 8 33 15 79 41 9 30 16 43 26 35 15 45 18 97 12 50 8 70 14 57 17 43 19 57 17 59 21 50 20 42 11 64 6 2 24 3 6 3 11 47 22 58 14 46 11 54 11 30 206 0 0-1090z"/><path fill="#00beff" d="M15 5l0 46 122 1 24-6 66-13 64 0 39 13 43 8 33 15 79 41 9 30 16 43 26 35 15 45 18 97 12 50 8 70 14 57 17 43 19 57 17 59 21 50 20 42 11 64 6 2 24 3 6 3 11 47 22 58 14 46 11 54 11 30 206 0 0-1090z"/><path fill="#00cbff" d="M15 5l0 46 122 1 24-6 66-13 64 0 39 13 43 8 33 15 79 41 9 30 16 43 26 35 15 45 18 97 12 50 8 70 14 57 17 43 19 57 17 59 21 50 20 42 11 64 6 2 24 3 6 3 11 47 22 58 14 46 11 54 11 30 206 0 0-1090z"/><path fill="#00d6ff" d="M15 5l0 46 122 1 24-6 66-13 64 0 39 13 43 8 33 15 79 41 9 30 16 43 26 35 15 45 18 97 12 50 8 70 14 57 17 43 19 57 17 59 21 50 20 42 11 64 6 2 24 3 6 3 11 47 22 58 14 46 11 54 11 30 206 0 0-1090z"/><path fill="#00e2ff" d="M15 5l0 46 122 1 24-6 66-13 64 0 39 13 43 8 33 15 79 41 9 30 16 43 26 35 15 45 18 97 12 50 8 70 14 57 17 43 19 57 17 59 21 50 20 42 11 64 6 2 24 3 6 3 11 47 22 58 14 46 11 54 11 30 206 0 0-1090z"/><path fill="#00eeff" d="M15 5l0 46 122 1 24-6 66-13 64 0 39 13 43 8 33 15 79 41 9 30 16 43 26 35 15 45 18 97 12 50 8 70 14 57 17 43 19 57 17 59 21 50 20 42 11 64 6 2 24 3 6 3 11 47 22 58 14 46 11 54 11 30 206 0 0-1090z"/><path fill="#00fbff" d="M15 5l0 46 122 1 24-6 66-13 64 0 39 13 43 8 33 15 79 41 9 30 16 43 26 35 15 45 18 97 12 50 8 70 14 57 17 43 19 57 17 59 21 50 20 42 11 64 6 2 24 3 6 3 11 47 22 58 14 46 11 54 11 30 206 0 0-1090z"/><path fill="#07fff8" d="M15 5l0 44 2 1 121 1 19-5 70-14 64 0 40 14 43 8 111 55 7 25 17 46 27 37 15 45 17 92 13 55 8 70 14 57 17 43 20 60 16 56 17 41 24 51 11 64 30 5 6 3 11 47 19 48 16 52 11 54 12 33 2 2 204 0 0-1090z"/><path fill="#13ffec" d="M15 5l0 42 31 1 1 1 40 0 1 1 53-1 22-6 65-13 64 1 38 14 43 8 31 14 81 41 10 33 14 38 27 37 15 45 19 100 11 46 8 70 14 57 18 45 18 54 16 57 20 48 22 47 11 64 30 5 6 3 10 43 24 64 4 16 9 26 10 50 12 33 5 6 201 0 0-1090z"/><path fill="#20ffe0" d="M15 5l0 39 27 3 14 0 1 1 36 0 1 1 44-1 26-7 63-13 64 1 39 15 42 8 36 16 77 39 10 33 15 40 26 35 15 44 19 99 11 46 8 71 14 56 18 45 18 54 18 62 18 43 22 47 11 64 32 6 4 3 10 42 18 45 19 60 11 53 10 26 11 14 144 0 8-10 44-43 0-1037z"/><path fill="#2cffd3" d="M15 5l0 35 34 6 84 1 31-8 61-13 66 1 42 17 43 9 25 11 84 42 9 30 15 40 26 36 16 46 15 71 4 25 11 47 8 70 14 57 18 44 19 57 17 59 17 41 22 47 12 65 7 3 24 5 5 3 10 42 15 36 22 67 10 47 12 31 20 20 75 0 2-1 31-31 46-50 32-40 0-968z"/><path fill="#37ffc8" d="M15 5l0 28 13 7 26 5 13 0 1 1 70-1 25-8 61-14 44 0 1 1 23 1 14 5 27 13 35 7 12 4 23 10 82 41 8 27 16 43 27 37 15 44 30 140 8 71 14 56 21 52 16 48 17 59 19 46 21 46 11 62 16 6 18 4 2 3 10 40 19 45 18 54 10 44 12 27 12 9 14 6 11 1 17-5 27-16 15-11 20-20 13-17 10-16 11-22 31-51 16-23 9-10 0-879z"/><path fill="#43ffbc" d="M15 5l0 17 3 6 6 6 21 8 26 3 63-1 35-11 57-14 29 0 1 1 16 0 19 2 11 4 28 15 27 7 15 2 17 7 96 46 9 30 15 40 26 36 16 45 7 34 9 31 11 59 3 10 8 72 14 57 25 61 14 42 15 53 40 94 11 60 16 9 16 5 4 3 11 42 18 39 19 52 9 34 6 12 7 9 13 4 9 0 15-4 24-13 26-19 8-9 11-16 20-37 43-104 25-75 11-22 0-732z"/><path fill="#50ffb0" d="M17 5l2 14 5 9 7 6 18 7 25 3 44 0 19-2 29-11 61-17 18 0 1 1 14 0 28 3 20 8 14 10 8 4 21 6 19 3 26 10 67 33 18 7 4 3 9 29 15 40 26 36 16 44 8 36 13 36 5 34 4 17 8 75 13 54 31 75 27 87 37 90 11 57 12 12 23 12 13 43 17 33 8 20 10 20 7 19 9 16 6 6 16 1 17-6 21-14 25-21 12-13 10-15 12-24 8-21 14-52 18-115 13-57 16-46 13-24 11-11 0-570z"/><path fill="#5cffa3" d="M20 5l1 7 4 10 9 10 14 7 28 4 40 0 22-3 24-11 29-9 20-8 16-4 28 1 34 5 18 8 13 11 13 7 17 5 22 4 19 7 94 44 9 29 15 40 27 37 6 20 10 26 0 4 8 28 16 30 3 9 10 99 13 62 7 19 13 27 14 34 22 68 37 97 13 58 14 22 10 10 11 7 11 35 41 73 4 6 9 9 6 3 8 0 13-3 18-9 19-15 20-21 10-14 9-18 6-16 7-26 5-27 18-153 9-48 7-29 19-56 15-37 14-23 8-6 0-446z"/><path fill="#67ff98" d="M269 5l21 4 16 8 14 14 13 8 29 8 10 1 19 7 34 15 27 14 33 14 8 26 16 42 28 40 6 20 8 19 2 11 6 19 7 12 11 13 6 11 5 20 8 73 10 55 10 29 24 56 18 51 22 54 17 50 10 42 12 33 14 25 11 12 5 18 9 20 25 39 13 17 10 9 7 3 8 0 9-2 16-8 9-7 19-21 14-22 8-16 5-14 7-31 6-39 13-113 24-138 11-54 19-60 11-28 12-24 6-9 9-9 0-317zM23 7l7 16 9 9 9 5 12 3 17 2 37 0 25-4 22-12 15-5 36-16-189 0z"/><path fill="#73ff8c" d="M294 5l11 6 20 22 9 5 15 5 21 4 29 10 59 28 27 11 8 25 11 26 4 13 3 6 25 34 9 28 6 13 4 17 7 15 20 21 10 19 5 19 12 73 20 72 25 67 16 35 17 43 40 126 6 15 11 20 9 25 22 39 23 28 14 8 9 0 15-6 15-13 12-17 9-19 8-25 12-55 15-100 16-83 10-63 0-7 13-92 13-69 16-53 18-46 13-24 7-9 6-5 0-192zM26 7l8 16 9 9 7 4 29 5 33 0 25-4 10-5 14-10 13-5 22-12-170 0z"/><path fill="#80ff80" d="M306 5l5 6 8 14 13 11 20 7 21 4 3 2 24 7 51 24 34 14 24 64 28 40 5 17 9 21 0 3 8 21 10 11 6 4 9 9 8 11 7 13 5 13 6 25 15 48 12 48 17 55 39 92 41 120 24 59 22 44 16 23 7 6 8 4 10 0 7-3 11-10 10-17 9-24 7-27 17-100 20-84 11-59 22-188 6-42 11-60 10-39 17-44 20-40 10-17 10-13 0-73zM28 5l8 16 8 9 6 4 10 3 21 3 30 0 26-5 12-7 12-10 23-13z"/><path fill="#8bff74" d="M311 5l7 15 5 7 12 9 13 5 24 5 32 10 54 25 27 10 7 20 19 44 25 34 5 17 17 44 9 10 11 7 15 15 11 16 16 28 18 48 21 76 10 30 31 76 40 104 17 34 23 53 12 22 7 10 9 8 4 2 9-1 7-6 11-20 7-21 10-42 11-58 28-122 10-75 21-211 5-33 15-74 7-46 11-44-1-31zM31 5l9 17 9 9 14 5 19 3 27 0 28-6 13-9 11-11 14-8z"/><path fill="#98ff67" d="M314 5l4 11 5 8 9 9 22 9 17 3 37 11 51 23 26 9 25 56 12 15 14 21 18 52 5 10 7 7 19 12 17 17 24 28 11 16 10 21 11 29 22 76 12 36 42 101 13 26 49 83 10 11 5 3 5 1 6-3 7-10 5-11 18-58 14-56 12-65 18-172 9-113 15-89 1-58 1-1 0-18 2-10 0-40zM45 25l10 7 29 6 23 0 20-4 11-4 6-4 18-19 4-2-132 0z"/><path fill="#a3ff5c" d="M316 5l9 19 7 7 9 5 16 6 13 2 11 4 27 6 48 21 29 10 7 15 17 29 12 13 13 19 16 42 6 21 4 7 6 6 27 17 46 42 19 24 8 16 8 21 30 99 12 30 19 40 39 63 18 25 9 9 8 5 9 1 4-2 6-7 7-13 10-27 10-39 7-43 4-52 1-1 1-25 1-1 0-13 1-1 0-13 1-1 0-13 1-1 0-13 1-1 0-12 1-1 0-12 4-40 5-78 14-97 0-24-4-26 0-68zM36 5l8 15 8 8 16 6 18 3 26-1 21-6 12-8 14-17z"/><path fill="#b0ff4f" d="M319 5l2 8 6 11 6 6 15 8 37 10 23 4 51 21 25 7 8 14 18 19 11 7 8 8 10 16 12 32 7 25 10 19 8 7 25 16 48 38 21 23 12 22 30 89 13 31 10 19 9 14 15 18 34 47 10 10 6 4 5 2 6 0 8-9 7-16 6-23 3-19 5-52 3-60 1-1 0-14 1-1 1-28 1-1 2-39 2-14 4-68 9-74 1-42-6-34-1-32-3-28zM43 15l5 7 11 7 22 6 22 1 12-2 23-9 10-10 7-10-116 0z"/><path fill="#bcff43" d="M320 5l9 19 10 8 12 6 29 8 28 4 30 10 18 8 15 5 11 2 4 3 6 10 8 6 8 4 16 3 11 5 11 11 8 11 10 17 21 45 19 28 14 14 42 33 12 12 10 13 18 33 22 56 8 16 9 14 11 11 7 4 34 26 10 5 5 1 5-1 5-3 4-8 3-12 5-35 4-48 11-93 3-47 8-81 0-27-7-33-5-43-5-20zM46 16l9 9 23 8 19 2 19-3 19-8 10-9 7-10-111 0z"/><path fill="#c7ff38" d="M322 5l4 11 6 9 11 8 13 6 29 7 25 2 25 7 33 12 16 3 9 12 10 5 10 2 18 1 17 4 28 9 11 6 14 14 7 11 6 13 16 46 9 17 9 13 25 25 16 20 17 26 28 49 12 11 15 1 10-3 8-5 11-12 16-30 13-40 7-44 6-60 1-27 1-1 0-33-8-31-2-13-9-27-13-24zM50 18l12 8 19 6 23 1 15-4 15-7 8-7 7-10-106 0z"/><path fill="#d4ff2b" d="M324 5l5 13 8 9 12 8 13 5 24 5 28 1 39 9 11 4 20 3 8 11 12 5 43 1 18 2 32 6 4 2 11 2 9 4 13 12 8 16 16 46 26 54 25 39 17 23 13 12 6 3 8 0 15-7 11-11 6-9 11-26 6-26 9-73 1-48-9-37-9-20-10-14-13-13-14-8-11-3zM53 18l12 7 15 5 18 2 12-2 19-8 9-6 8-11-101 0z"/><path fill="#e0ff20" d="M659 57l-10 6 0 6 17 21 7 13 19 68 27 58 7 10 11 11 9 4 6 0 7-3 10-11 8-18 8-35 5-34 1-22 1-1 0-30-5-24-6-17-5-7-7-6-15-6-13 0-22 3zM326 7l5 11 5 6 12 9 14 6 26 5 19-2 45 5 8 2 13 0 1 1 10-1 5 8 6 5 16 3 39-9 20-7 5-4 5-7 5-11 7-22-266 0zM47 5l6 10 9 6 14 6 14 3 12 0 14-4 18-10 9-11z"/><path fill="#ebff14" d="M743 66l-11 4-10 9-4 8-3 11 0 23 7 26 8 16 12 14 4 2 6 0 5-5 5-10 5-18 3-21 0-25-4-15-6-12-8-7zM327 5l6 13 14 13 9 5 24 6 15 0 11-3 14 1 1-1 28-1 21-4 13-5 11 6 7-1 9-5 14-14 6-10zM57 15l14 8 18 5 14 0 13-4 18-11 7-8-92 0z"/><path fill="#f8ff07" d="M329 5l8 15 11 10 11 6 21 5 11 0 15-5 19-2 16-5 17-9 17-15zM51 5l6 7 17 10 14 4 15 0 10-3 15-9 10-9z"/><path fill="#fffb00" d="M331 5l6 12 13 13 9 5 21 5 13-1 11-6 16-4 19-11 11-12 0-1zM54 5l13 11 13 6 8 2 15 0 7-2 14-8 11-9z"/><path fill="#ffee00" d="M337 14l7 9 10 8 8 4 12 3 16 0 7-3 9-7 17-8 9-8 5-7-104 0zM57 5l13 10 19 7 13 0 7-2 8-4 13-11z"/><path fill="#ffe200" d="M346 23l10 8 19 6 12 0 9-4 9-9 10-6 12-13-92 0zM61 5l9 7 10 5 11 3 10 0 7-2 9-5 9-8z"/><path fill="#ffd700" d="M348 23l9 7 13 5 15 1 9-4 25-27-82 0zM66 5l13 9 15 4 5 0 10-3 8-5 5-5z"/><path fill="#ffca00" d="M345 17l11 11 11 5 15 2 10-4 6-6 7-12 7-8-73 0zM70 5l11 7 10 3 10 0 6-2 11-8z"/><path fill="#ffbe00" d="M341 7l9 14 10 8 12 4 12 0 6-3 6-6 10-19-65 0zM75 5l15 7 12 0 12-7z"/><path fill="#ffb300" d="M342 5l4 8 8 10 9 6 10 3 9 0 9-5 6-8 6-14zM81 5l10 4 10 0 8-4z"/><path fill="#ffa600" d="M344 5l5 10 7 8 8 5 12 3 7-1 5-3 8-10 4-12zM90 5l4 1 8-1z"/><path fill="#ff9b00" d="M350 14l7 8 11 6 12 1 5-2 7-7 7-15-53 0z"/><path fill="#ff8e00" d="M347 5l5 9 6 7 12 6 11 0 5-3 6-7 5-12z"/><path fill="#ff8200" d="M349 5l2 5 7 9 10 6 10 1 5-2 7-7 5-12z"/><path fill="#ff7700" d="M350 5l8 12 5 4 7 3 9 0 4-2 5-5 5-10 0-2z"/><path fill="#ff6a00" d="M355 11l8 8 6 3 10 0 9-8 4-9-40 0z"/><path fill="#ff5e00" d="M354 5l3 6 6 6 10 4 8-2 5-5 4-9z"/><path fill="#ff5300" d="M355 5l8 10 9 4 4 0 4-2 6-6 3-6z"/><path fill="#ff4600" d="M357 5l6 8 9 4 4 0 4-2 4-4 3-6z"/><path fill="#ff3b00" d="M359 5l6 7 7 3 6-1 7-9z"/><path fill="#ff2e00" d="M361 5l3 4 9 4 7-3 3-5z"/><path fill="#ff2200" d="M363 5l7 5 6 0 5-4 0-1z"/><path fill="#ff1700" d="M366 5l5 3 4 0 4-3z"/></g>
<rect x="766.4" y="1392.8" width="510.1" height="547.9" fill="none" stroke="#262626" stroke-width="1.8"/>
<path d="M1021.5 1940.7v-6.5M1021.5 1392.8v6.5M766.4 1502.4h6.5M1276.5 1502.4h-6.5M766.4 1612.0h6.5M1276.5 1612.0h-6.5M766.4 1721.5h6.5M1276.5 1721.5h-6.5M766.4 1831.1h6.5M1276.5 1831.1h-6.5" stroke="#262626" stroke-width="1.8" fill="none"/>
<text x="766.4" y="1995.8" font-size="39.5" fill="#262626" text-anchor="middle">0</text>
<text x="1021.5" y="1995.8" font-size="39.5" fill="#262626" text-anchor="middle">10</text>
<text x="1276.5" y="1995.8" font-size="39.5" fill="#262626" text-anchor="middle">20</text>
<text x="750.4" y="1408.1" font-size="39.5" fill="#262626" text-anchor="end">0</text>
<text x="750.4" y="1517.7" font-size="39.5" fill="#262626" text-anchor="end">2</text>
<text x="750.4" y="1627.3" font-size="39.5" fill="#262626" text-anchor="end">4</text>
<text x="750.4" y="1736.8" font-size="39.5" fill="#262626" text-anchor="end">6</text>
<text x="750.4" y="1846.4" font-size="39.5" fill="#262626" text-anchor="end">8</text>
<text x="750.4" y="1956.0" font-size="39.5" fill="#262626" text-anchor="end">10</text>
<text x="669.4" y="1417.7" font-size="66.4" fill="#000">H</text>
<g transform="translate(1414.70 1392.80) scale(0.5)" fill-rule="evenodd"><path fill="#000086" d="M0 5l0 19 27 0 3 6 90 0 3 8 201-1 9 8 52 11 41 21 40 13 23 18 16 22 36 96 0 4 16 62 11 64 19 73 33 157 24 94 0 4 24 86 23 102 53 133 21 32 31 32 28 16 13 10 182 0 0-1090z"/><path fill="#000092" d="M0 5l0 19 27 0 3 6 90 0 3 8 201-1 9 8 52 11 41 21 40 13 23 18 16 22 36 96 0 4 16 62 11 64 19 73 33 157 24 94 0 4 24 86 23 102 53 133 21 32 31 32 28 16 13 10 182 0 0-1090z"/><path fill="#00009e" d="M0 5l0 19 27 0 3 6 90 0 3 8 201-1 9 8 52 11 41 21 40 13 23 18 16 22 36 96 0 4 16 62 11 64 19 73 33 157 24 94 0 4 24 86 23 102 53 133 21 32 31 32 28 16 13 10 182 0 0-1090z"/><path fill="#0000aa" d="M0 5l0 19 27 0 3 6 90 0 3 8 201-1 9 8 52 11 41 21 40 13 23 18 16 22 36 96 0 4 16 62 11 64 19 73 33 157 24 94 0 4 24 86 23 102 53 133 21 32 31 32 28 16 13 10 182 0 0-1090z"/><path fill="#0000b6" d="M0 5l0 19 27 0 3 6 90 0 3 8 201-1 9 8 52 11 41 21 40 13 23 18 16 22 36 96 0 4 16 62 11 64 19 73 33 157 24 94 0 4 24 86 23 102 53 133 21 32 31 32 28 16 13 10 182 0 0-1090z"/><path fill="#0000c2" d="M0 5l0 19 27 0 3 6 90 0 3 8 201-1 9 8 52 11 41 21 40 13 23 18 16 22 36 96 0 4 16 62 11 64 19 73 33 157 24 94 0 4 24 86 23 102 53 133 21 32 31 32 28 16 13 10 182 0 0-1090z"/><path fill="#0000ce" d="M0 5l0 19 27 0 3 6 90 0 3 8 201-1 9 8 52 11 41 21 40 13 23 18 16 22 36 96 0 4 16 62 11 64 19 73 33 157 24 94 0 4 24 86 23 102 53 133 21 32 31 32 28 16 13 10 182 0 0-1090z"/><path fill="#0000da" d="M0 5l0 19 27 0 3 6 90 0 3 8 201-1 9 8 52 11 41 21 40 13 23 18 16 22 36 96 0 4 16 62 11 64 19 73 33 157 24 94 0 4 24 86 23 102 53 133 21 32 31 32 28 16 13 10 182 0 0-1090z"/><path fill="#0000e6" d="M0 5l0 19 27 0 3 6 90 0 3 8 201-1 9 8 52 11 41 21 40 13 23 18 16 22 36 96 0 4 16 62 11 64 19 73 33 157 24 94 0 4 24 86 23 102 53 133 21 32 31 32 28 16 13 10 182 0 0-1090z"/><path fill="#0000f2" d="M0 5l0 19 27 0 3 6 90 0 3 8 201-1 9 8 52 11 41 21 40 13 23 18 16 22 36 96 0 4 16 62 11 64 19 73 33 157 24 94 0 4 24 86 23 102 53 133 21 32 31 32 28 16 13 10 182 0 0-1090z"/><path fill="#0000fe" d="M0 5l0 19 27 0 3 6 90 0 3 8 201-1 9 8 52 11 41 21 40 13 23 18 16 22 36 96 0 4 16 62 11 64 19 73 33 157 24 94 0 4 24 86 23 102 53 133 21 32 31 32 28 16 13 10 182 0 0-1090z"/><path fill="#000aff" d="M0 5l0 19 27 0 3 6 90 0 3 8 201-1 9 8 52 11 41 21 40 13 23 18 16 22 36 96 0 4 16 62 11 64 19 73 33 157 24 94 0 4 24 86 23 102 53 133 21 32 31 32 28 16 13 10 182 0 0-1090z"/><path fill="#0017ff" d="M0 5l0 19 27 0 3 6 90 0 3 8 201-1 9 8 52 11 41 21 40 13 23 18 16 22 36 96 0 4 16 62 11 64 19 73 33 157 24 94 0 4 24 86 23 102 53 133 21 32 31 32 28 16 13 10 182 0 0-1090z"/><path fill="#0022ff" d="M0 5l0 19 27 0 3 6 90 0 3 8 201-1 9 8 52 11 41 21 40 13 23 18 16 22 36 96 0 4 16 62 11 64 19 73 33 157 24 94 0 4 24 86 23 102 53 133 21 32 31 32 28 16 13 10 182 0 0-1090z"/><path fill="#002fff" d="M0 5l0 19 27 0 3 6 90 0 3 8 201-1 9 8 52 11 41 21 40 13 23 18 16 22 36 96 0 4 16 62 11 64 19 73 33 157 24 94 0 4 24 86 23 102 53 133 21 32 31 32 28 16 13 10 182 0 0-1090z"/><path fill="#003bff" d="M0 5l0 19 27 0 3 6 90 0 3 8 201-1 9 8 52 11 41 21 40 13 23 18 16 22 36 96 0 4 16 62 11 64 19 73 33 157 24 94 0 4 24 86 23 102 53 133 21 32 31 32 28 16 13 10 182 0 0-1090z"/><path fill="#0046ff" d="M0 5l0 19 27 0 3 6 90 0 3 8 201-1 9 8 52 11 41 21 40 13 23 18 16 22 36 96 0 4 16 62 11 64 19 73 33 157 24 94 0 4 24 86 23 102 53 133 21 32 31 32 28 16 13 10 182 0 0-1090z"/><path fill="#0052ff" d="M0 5l0 19 27 0 3 6 90 0 3 8 201-1 9 8 52 11 41 21 40 13 23 18 16 22 36 96 0 4 16 62 11 64 19 73 33 157 24 94 0 4 24 86 23 102 53 133 21 32 31 32 28 16 13 10 182 0 0-1090z"/><path fill="#005eff" d="M0 5l0 19 27 0 3 6 90 0 3 8 201-1 9 8 52 11 41 21 40 13 23 18 16 22 36 96 0 4 16 62 11 64 19 73 33 157 24 94 0 4 24 86 23 102 53 133 21 32 31 32 28 16 13 10 182 0 0-1090z"/><path fill="#006aff" d="M0 5l0 19 27 0 3 6 90 0 3 8 201-1 9 8 52 11 41 21 40 13 23 18 16 22 36 96 0 4 16 62 11 64 19 73 33 157 24 94 0 4 24 86 23 102 53 133 21 32 31 32 28 16 13 10 182 0 0-1090z"/><path fill="#0077ff" d="M0 5l0 19 27 0 3 6 90 0 3 8 201-1 9 8 52 11 41 21 40 13 23 18 16 22 36 96 0 4 16 62 11 64 19 73 33 157 24 94 0 4 24 86 23 102 53 133 21 32 31 32 28 16 13 10 182 0 0-1090z"/><path fill="#0082ff" d="M0 5l0 19 27 0 3 6 90 0 3 8 201-1 9 8 52 11 41 21 40 13 23 18 16 22 36 96 0 4 16 62 11 64 19 73 33 157 24 94 0 4 24 86 23 102 53 133 21 32 31 32 28 16 13 10 182 0 0-1090z"/><path fill="#008eff" d="M0 5l0 19 27 0 3 6 90 0 3 8 201-1 9 8 52 11 41 21 40 13 23 18 16 22 36 96 0 4 16 62 11 64 19 73 33 157 24 94 0 4 24 86 23 102 53 133 21 32 31 32 28 16 13 10 182 0 0-1090z"/><path fill="#009bff" d="M0 5l0 19 27 0 3 6 90 0 3 8 201-1 9 8 52 11 41 21 40 13 23 18 16 22 36 96 0 4 16 62 11 64 19 73 33 157 24 94 0 4 24 86 23 102 53 133 21 32 31 32 28 16 13 10 182 0 0-1090z"/><path fill="#00a6ff" d="M0 5l0 19 27 0 3 6 90 0 3 8 201-1 9 8 52 11 41 21 40 13 23 18 16 22 36 96 0 4 16 62 11 64 19 73 33 157 24 94 0 4 24 86 23 102 53 133 21 32 31 32 28 16 13 10 182 0 0-1090z"/><path fill="#00b2ff" d="M0 5l0 19 27 0 3 6 90 0 3 8 201-1 9 8 52 11 41 21 40 13 23 18 16 22 36 96 0 4 16 62 11 64 19 73 33 157 24 94 0 4 24 86 23 102 53 133 21 32 31 32 28 16 13 10 182 0 0-1090z"/><path fill="#00beff" d="M0 5l0 19 27 0 3 6 90 0 3 8 201-1 9 8 52 11 41 21 40 13 23 18 16 22 36 96 0 4 16 62 11 64 19 73 33 157 24 94 0 4 24 86 23 102 53 133 21 32 31 32 28 16 13 10 182 0 0-1090z"/><path fill="#00cbff" d="M0 5l0 19 27 0 3 6 90 0 3 8 201-1 9 8 52 11 41 21 40 13 23 18 16 22 36 96 0 4 16 62 11 64 19 73 33 157 24 94 0 4 24 86 23 102 53 133 21 32 31 32 28 16 13 10 182 0 0-1090z"/><path fill="#00d6ff" d="M0 5l0 19 27 0 3 6 90 0 3 8 201-1 9 8 52 11 41 21 40 13 23 18 16 22 36 96 0 4 16 62 11 64 19 73 33 157 24 94 0 4 24 86 23 102 53 133 21 32 31 32 28 16 13 10 133 0 8-4 21-7 20-5 0-1074z"/><path fill="#00e2ff" d="M0 5l0 19 27 0 3 6 90 0 3 8 201-1 9 8 52 11 41 21 40 13 23 18 16 22 36 96 0 4 16 62 11 64 19 73 33 157 24 94 0 4 24 86 23 102 53 133 21 32 31 32 28 16 13 10 84 0 14-9 16-7 38-13 30-8 0-1053z"/><path fill="#00eeff" d="M0 5l0 19 27 0 3 6 90 0 3 8 201-1 9 8 52 11 41 21 40 13 23 18 16 22 36 96 0 4 16 62 11 64 19 73 33 157 24 94 0 4 24 86 23 102 53 133 21 32 31 32 28 16 13 10 46 0 21-15 26-13 23-9 66-22 0-1031z"/><path fill="#00fbff" d="M0 5l0 19 27 0 3 6 90 0 3 8 201-1 9 8 52 11 41 21 40 13 18 13 21 27 36 96 0 4 16 62 11 64 19 73 33 157 24 94 0 4 24 86 23 102 53 133 21 32 31 32 28 16 13 10 18 0 0-6 8-9 9-6 53-25 63-23 31-13 0-1008z"/><path fill="#07fff8" d="M0 5l0 19 27 0 3 6 90 0 3 8 201-1 9 8 52 11 41 21 40 13 18 13 21 27 36 96 0 4 16 62 11 64 19 73 33 157 24 94 0 4 24 86 23 102 53 133 21 32 31 32 28 16 11 9 4 1-9-8-4-7 1-3 7-6 41-21 99-42 23-12 22-15 0-976z"/><path fill="#13ffec" d="M0 5l0 18 27 0 3 5 90 0 3 9 194 0 7-1 9 8 53 12 41 21 40 13 19 14 20 28 34 90 17 69 11 64 19 73 34 161 26 105 22 79 21 94 27 70 27 65 22 31 19 15 9 4 29-1 21-7 98-48 13-8 31-23 33-27 0-933z"/><path fill="#20ffe0" d="M0 5l0 15 27 0 3 6 90 0 3 9 34 0 1 1 166-1 10 8 51 12 41 21 40 13 17 12 6 6 16 22 35 92 17 69 11 64 19 73 33 156 24 98 27 98 20 89 52 125 10 14 12 13 7 4 12 4 17 2 14 0 12-2 22-9 27-17 17-9 45-33 46-38 34-33 1-2 0-882z"/><path fill="#2cffd3" d="M0 5l0 10 27 1 3 6 90 2 3 9 58 0 1 1 142-1 11 9 51 13 39 20 43 14 16 12 21 27 36 95 17 70 10 60 19 72 33 156 27 109 19 66 25 109 23 55 29 60 12 14 11 6 33 5 21 0 10-3 20-12 28-27 58-47 36-36 14-17 14-20 12-23 7-18 0-797z"/><path fill="#37ffc8" d="M0 5l0 3 27 2 3 6 42 2 1 1 21 0 1 1 25 0 2 8 7 2 189 1 7 1 9 8 28 9 23 5 42 21 38 12 23 17 17 23 35 91 17 69 11 64 18 68 35 164 18 69 5 24 23 80 24 105 8 20 18 37 26 43 10 9 16 4 17 0 1 1 28-1 13-5 12-9 28-31 55-57 17-21 9-14 11-23 11-31 27-112 13-38 8-17 0-611z"/><path fill="#43ffbc" d="M42 5l38 7 40 3 2 8 6 2 54 2 1 1 41 0 1 1 99 0 12 10 32 11 18 4 40 20 41 13 21 16 17 23 35 90 17 69 11 64 18 68 35 163 3 8 21 88 23 78 21 94 5 15 17 34 24 34 13 14 11 4 18 0 26-6 12-4 10-6 15-15 15-20 28-44 17-33 19-54 20-80 20-63 31-76 29-58 0-485z"/><path fill="#50ffb0" d="M118 5l3 1 2 9 36 6 35 2 1 1 21 0 1 1 107 1 10 10 33 13 18 4 43 21 39 12 21 16 18 25 34 87 17 69 11 64 19 72 15 74 16 70 12 44 15 64 23 74 21 94 7 20 7 14 14 19 28 30 7 4 15 1 15-4 10-5 18-13 11-10 13-18 11-21 7-17 8-26 6-26 15-88 10-41 16-46 34-83 28-77 50-124 0-323z"/><path fill="#5cffa3" d="M148 5l22 8 40 6 37 1 1 1 75 1 12 12 7 4 7 2 14 7 21 5 41 20 42 13 18 13 20 25 3 10 32 78 18 73 10 60 18 67 15 74 16 65 0 4 12 42 18 74 26 79 17 79 5 15 7 15 7 9 27 27 12 9 5 2 12 0 9-3 8-5 13-13 9-13 15-27 5-14 11-52 15-112 14-59 16-51 40-111 21-65 17-63 16-82 11-37 14-30 9-13 11-11 0-139z"/><path fill="#67ff98" d="M194 5l24 6 17 2 47 1 1 1 20 0 1 1 20 1 12 15 22 12 27 8 40 19 44 14 20 16 16 21 36 89 16 64 11 64 18 67 16 79 14 58 14 46 16 64 27 73 9 34 8 41 8 29 7 13 20 20 16 13 13 6 8 0 7-3 15-15 6-11 8-24 8-50 11-97 8-45 19-79 18-67 11-36 23-65 11-40 8-41 12-87 17-75 28-80 37-62z"/><path fill="#73ff8c" d="M300 5l12 1 12 3 3 3 7 14 7 7 24 13 19 5 41 19 44 14 17 12 19 24 12 31 24 55 16 62 11 65 19 70 14 70 11 46 7 24 12 33 18 63 31 77 21 84 15 25 13 14 19 13 7 2 8-2 8-8 5-10 5-22 6-55 6-85 10-64 23-97 12-61 8-32 25-85 6-31 7-56 7-39 18-72 12-64 11-35 6-31z"/><path fill="#80ff80" d="M329 5l2 8 6 12 6 7 12 8 12 6 16 4 42 19 43 13 17 12 20 24 24 57 11 21 9 28 10 42 10 60 19 68 12 61 11 47 9 27 15 35 11 34 38 85 18 50 17 20 16 15 7 4 10-1 5-5 4-14 12-99 27-147 13-93 18-101 11-78 7-30 24-69 9-34 5-29 11-37 1-30z"/><path fill="#8bff74" d="M333 5l3 13 4 7 5 6 12 9 12 6 16 4 40 18 44 13 16 11 19 22 20 45 14 24 19 42 16 90 7 27 6 17 9 37 10 51 8 32 8 25 16 31 9 22 21 43 21 38 13 13 9 0 8-3 6-4 12-12 11-17 12-25 10-36 10-54 7-55 22-227 7-33 23-71 11-49 10-27 0-33z"/><path fill="#98ff67" d="M335 5l3 11 4 8 9 10 11 8 19 7 3 0 9 5 33 13 40 11 19 12 20 22 15 33 13 21 10 12 13 9 10 10 4 6 8 23 14 85 12 43 17 79 11 35 18 42 32 63 10 12 7 4 8 0 6-3 13-13 13-24 10-28 11-48 7-46 8-72 11-149 8-52 11-50 8-48 4-14 0-37z"/><path fill="#a3ff5c" d="M338 5l5 16 10 13 9 7 62 24 42 11 20 12 18 19 14 27 13 17 12 7 10 1 12 5 6 4 13 14 13 24 8 23 9 36 10 51 19 78 28 88 18 36 10 9 6 1 5-2 9-10 11-27 6-24 9-49 13-102 5-75 1-1 6-76 13-94 5-26 0-37z"/><path fill="#b0ff4f" d="M340 5l6 17 8 11 10 8 61 23 44 11 17 10 20 20 9 16 12 12 4 2 14 0 9-2 16 4 20 12 19 18 15 21 13 31 11 44 21 104 13 46 13 26 6 5 6 0 8-11 7-21 6-28 6-40 5-48 2-36 1-1 8-131 4-34 9-50 1-39z"/><path fill="#bcff43" d="M342 5l3 10 7 13 12 12 14 6 6 1 12 6 31 10 39 8 21 11 7 7 9 6 8 11 10 8 8 1 5-2 19-16 20-1 14 2 18 5 9 4 16 11 14 14 6 8 9 19 7 25 15 86 8 33 9 21 4 4 4 0 2-2 4-9 6-26 6-47 2-37 1-1 0-17 1-1 3-74 8-76 0-33z"/><path fill="#c7ff38" d="M678 5l6 2 7 9 3 12 2 41 5 7 4 1 3-6 0-66zM345 8l4 11 6 11 9 9 34 14 28 8 41 7 21 10 6 5 9 4 8 7 4 2 5 0 4-2 6-6 16-29 9-9 11-6 10-10 14-22 7-7-252 0z"/><path fill="#d4ff2b" d="M347 5l3 12 8 15 5 5 9 5 29 11 24 6 44 6 8 4 9 2 7 4 12 2 3 2 5 0 4-2 9-11 17-31 8-27 0-3z"/><path fill="#e0ff20" d="M349 5l3 13 6 12 8 8 31 13 35 7 36 2 7 3 11 1 5 2 8 0 9-2 9-7 7-10 6-12 7-26 0-4z"/><path fill="#ebff14" d="M350 5l6 19 5 8 7 6 32 13 22 4 47 0 9 2 18-2 12-7 8-9 4-8 7-23 0-3z"/><path fill="#f8ff07" d="M352 8l7 19 11 11 30 12 21 3 15 0 1-1 23-1 8-2 10 0 16-6 13-12 4-6 7-20-166 0z"/><path fill="#fffb00" d="M353 5l4 15 4 8 5 6 8 5 22 9 22 3 12 0 18-3 30-8 11-7 10-10 9-18z"/><path fill="#ffee00" d="M354 5l4 14 6 11 5 5 23 11 16 3 19 0 34-10 17-9 14-14 6-11z"/><path fill="#ffe200" d="M356 9l6 16 11 11 22 10 31 1 10-3 25-12 13-9 15-18-133 0z"/><path fill="#ffd700" d="M357 8l3 10 4 8 5 6 26 13 19 1 14-2 19-10 20-15 13-14-123 0z"/><path fill="#ffca00" d="M363 22l4 6 7 6 21 10 14 1 17-3 8-4 22-18 14-15-112 0z"/><path fill="#ffbe00" d="M365 23l7 8 17 10 15 3 17-3 9-4 18-17 13-15-102 0z"/><path fill="#ffb300" d="M366 22l12 12 17 8 14 0 14-4 5-3 8-8 17-22-93 0z"/><path fill="#ffa600" d="M361 5l2 8 5 10 14 12 14 6 14-1 16-7 11-13 9-15z"/><path fill="#ff9b00" d="M362 5l7 17 12 11 15 7 12-1 13-6 5-4 7-9 8-15z"/><path fill="#ff8e00" d="M364 8l4 10 14 14 11 6 12 0 14-7 9-9 9-17-73 0z"/><path fill="#ff8200" d="M365 5l2 8 6 9 14 12 7 3 12-1 11-7 8-8 8-16z"/><path fill="#ff7700" d="M370 15l10 12 12 8 8 1 8-3 15-14 7-14-64 0z"/><path fill="#ff6a00" d="M367 5l4 9 7 9 8 7 8 4 7 0 6-3 14-14 6-12z"/><path fill="#ff5e00" d="M375 17l12 12 6 3 8 0 4-2 10-10 9-15-55 0z"/><path fill="#ff5300" d="M377 17l10 10 5 3 8 0 4-2 8-8 9-15-50 0z"/><path fill="#ff4600" d="M373 5l6 12 8 8 5 3 10-1 8-8 7-12 0-2z"/><path fill="#ff3b00" d="M375 5l1 4 6 9 11 8 6 0 6-4 9-15 0-2z"/><path fill="#ff2e00" d="M377 5l4 9 8 8 4 2 7-1 4-3 8-15z"/><path fill="#ff2200" d="M379 7l8 11 5 3 6 0 8-7 4-9-31 0z"/><path fill="#ff1700" d="M381 5l4 8 8 6 6-1 5-5 3-6 0-2z"/><path fill="#ff0a00" d="M383 5l3 6 6 5 7-1 6-10z"/><path fill="#fe0000" d="M385 5l8 8 5-1 5-7z"/><path fill="#f20000" d="M388 5l4 4 5 0 3-4z"/></g>
<rect x="1414.7" y="1392.8" width="510.1" height="547.9" fill="none" stroke="#262626" stroke-width="1.8"/>
<path d="M1646.6 1940.7v-6.5M1646.6 1392.8v6.5M1878.4 1940.7v-6.5M1878.4 1392.8v6.5M1414.7 1502.4h6.5M1924.8 1502.4h-6.5M1414.7 1612.0h6.5M1924.8 1612.0h-6.5M1414.7 1721.5h6.5M1924.8 1721.5h-6.5M1414.7 1831.1h6.5M1924.8 1831.1h-6.5" stroke="#262626" stroke-width="1.8" fill="none"/>
<text x="1414.7" y="1995.8" font-size="39.5" fill="#262626" text-anchor="middle">0</text>
<text x="1646.6" y="1995.8" font-size="39.5" fill="#262626" text-anchor="middle">10</text>
<text x="1878.4" y="1995.8" font-size="39.5" fill="#262626" text-anchor="middle">20</text>
<text x="1398.7" y="1408.1" font-size="39.5" fill="#262626" text-anchor="end">0</text>
<text x="1398.7" y="1517.7" font-size="39.5" fill="#262626" text-anchor="end">2</text>
<text x="1398.7" y="1627.3" font-size="39.5" fill="#262626" text-anchor="end">4</text>
<text x="1398.7" y="1736.8" font-size="39.5" fill="#262626" text-anchor="end">6</text>
<text x="1398.7" y="1846.4" font-size="39.5" fill="#262626" text-anchor="end">8</text>
<text x="1398.7" y="1956.0" font-size="39.5" fill="#262626" text-anchor="end">10</text>
<text x="1325.8" y="1417.7" font-size="66.4" fill="#000">I</text>
<rect x="1978.3" y="65.3" width="52.3" height="569.0" fill="url(#jet)" stroke="#262626" stroke-width="1.8"/>
<path d="M2030.6 539.5h-6M2030.6 444.6h-6M2030.6 349.8h-6M2030.6 255.0h-6M2030.6 160.1h-6" stroke="#262626" stroke-width="1.8" fill="none"/>
<text x="2045.0" y="648.1" font-size="34.5" fill="#262626">0</text>
<text x="2045.0" y="553.3" font-size="34.5" fill="#262626">0.1</text>
<text x="2045.0" y="458.4" font-size="34.5" fill="#262626">0.2</text>
<text x="2045.0" y="363.6" font-size="34.5" fill="#262626">0.3</text>
<text x="2045.0" y="268.8" font-size="34.5" fill="#262626">0.4</text>
<text x="2045.0" y="173.9" font-size="34.5" fill="#262626">0.5</text>
<text x="2045.0" y="79.1" font-size="34.5" fill="#262626">0.6</text>
<rect x="1978.3" y="719.2" width="52.3" height="569.0" fill="url(#jet)" stroke="#262626" stroke-width="1.8"/>
<path d="M2030.6 1146.0h-6M2030.6 1003.7h-6M2030.6 861.5h-6" stroke="#262626" stroke-width="1.8" fill="none"/>
<text x="2045.0" y="1303.4" font-size="39.5" fill="#262626">0</text>
<text x="2045.0" y="1161.2" font-size="39.5" fill="#262626">0.2</text>
<text x="2045.0" y="1018.9" font-size="39.5" fill="#262626">0.4</text>
<text x="2045.0" y="876.7" font-size="39.5" fill="#262626">0.6</text>
<text x="2045.0" y="734.4" font-size="39.5" fill="#262626">0.8</text>
<rect x="1978.3" y="1371.8" width="52.3" height="569.2" fill="url(#jet)" stroke="#262626" stroke-width="1.8"/>
<path d="M2030.6 1751.3h-6M2030.6 1561.5h-6" stroke="#262626" stroke-width="1.8" fill="none"/>
<text x="2045.0" y="1956.2" font-size="39.5" fill="#262626">0</text>
<text x="2045.0" y="1766.5" font-size="39.5" fill="#262626">0.5</text>
<text x="2045.0" y="1576.7" font-size="39.5" fill="#262626">1</text>
<text x="2045.0" y="1387.0" font-size="39.5" fill="#262626">1.5</text>
<text x="402.2" y="70.0" font-size="50.3" fill="#000" text-anchor="middle">2005</text>
<text x="1050.7" y="70.0" font-size="50.3" fill="#000" text-anchor="middle">2014</text>
<text x="1698.7" y="70.0" font-size="50.3" fill="#000" text-anchor="middle">2020</text>
<text x="2005" y="43.7" font-size="40" fill="#000" text-anchor="middle">m/s</text>
<text x="1022.5" y="2066.1" font-size="56.5" fill="#262626" text-anchor="middle">Distance(m)</text>
<text transform="translate(53.8 1031.8) rotate(-90)" font-size="56.5" fill="#262626" text-anchor="middle">Depth (m)</text>
</svg></body></html>
